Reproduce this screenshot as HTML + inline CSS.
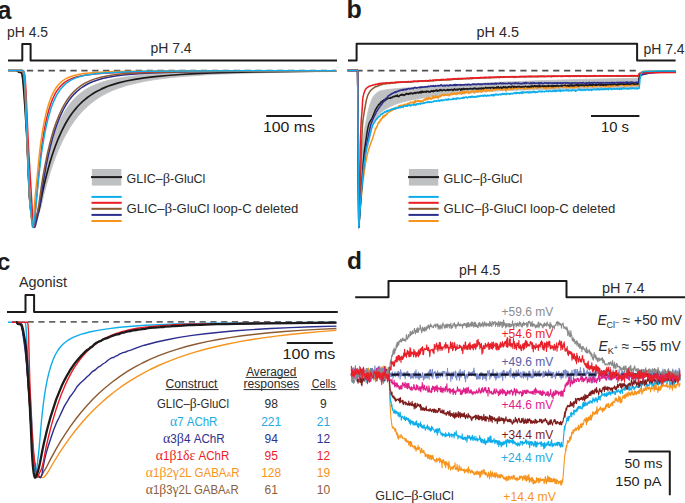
<!DOCTYPE html>
<html><head><meta charset="utf-8"><style>
html,body{margin:0;padding:0;background:#fff;width:685px;height:503px;overflow:hidden;}
svg{display:block;font-family:"Liberation Sans", sans-serif;}
</style></head><body>
<svg width="685" height="503" viewBox="0 0 685 503" font-family='"Liberation Sans", sans-serif'><path d="M8 60.5L22.3 60.5L22.3 43.9L30.6 43.9L30.6 60.5L337 60.5" fill="none" stroke="#1c1a1b" stroke-width="2" stroke-linejoin="round"/>
<text id="t1" x="7.00" y="37.00" font-size="14.7" fill="#2b2b2b" text-anchor="start" font-weight="normal" textLength="41.02" lengthAdjust="spacingAndGlyphs">pH 4.5</text>
<text id="t2" x="150.40" y="52.90" font-size="14.7" fill="#2b2b2b" text-anchor="start" font-weight="normal" textLength="41.21" lengthAdjust="spacingAndGlyphs">pH 7.4</text>
<path d="M8 70.6L13.6 70.7L17.2 70.8L17.6 71.1L18.6 72L19 72.3L21 72.8L21.6 73.1L21.8 73.6L22.2 75.7L22.8 80L23.2 84.2L24.8 105.2L26 123.4L27.2 145L28.4 175L29.2 192L29.6 198.7L30.6 209.1L32.2 220.9L33 225.8L33.4 227L33.6 227.2L33.8 227L34 226.6L34.4 224.9L35.8 216.7L37.2 212.3L38 208.9L38.8 204.2L40.4 193.1L42 183.8L44.2 172.4L46.6 161.4L49 151.7L51.4 143.2L54 135.2L56.8 127.7L58.4 123.8L60 120.3L61.6 117.1L63.4 113.7L65.2 110.6L67 107.9L69 105L71 102.5L73 100.1L75.2 97.8L77.4 95.7L79.8 93.7L82.2 91.9L84.6 90.2L87.2 88.6L90 87.1L92.8 85.7L95.6 84.5L101.6 82.3L108.4 80.3L115.8 78.6L124.2 77.2L133.6 75.9L144.2 74.8L156.2 73.9L169.4 73.2L184.4 72.5L201.4 72L220.8 71.6L242.6 71.3L268.2 71.1L336.2 70.8L336.2 71.5L307.4 71.8L281.8 72.3L259 72.8L238.6 73.4L220.4 74.1L204 75L189.4 76L176.2 77.1L164.4 78.4L153.6 79.8L143.8 81.5L135 83.4L126.8 85.5L119.4 87.9L115.8 89.2L112.4 90.6L109.2 92L106 93.6L102.8 95.3L99.8 97.1L96.8 99L94 101L91.2 103.2L88.6 105.3L86 107.7L83.4 110.3L81 112.8L78.6 115.6L76.2 118.6L74 121.5L71.8 124.7L69.6 128.1L65.6 135L62.2 141.6L58.8 149.1L55.6 156.9L52.6 165.1L49.2 175.5L46 186.5L44.2 193.2L41.6 204.7L40.4 209.2L39.2 212.4L37.2 216.2L36.4 218.8L34.8 225.1L34.2 226.6L33.8 227.1L33.6 227.2L33.4 227L33 225.8L32.2 220.9L30.6 209.1L29.6 198.7L29.2 192L28.4 175L27.2 145L26 123.4L24.8 105.2L23.2 84.2L22.8 80L22.2 75.7L21.8 73.6L21.6 73.1L21 72.8L19 72.3L18.6 72L17.6 71.1L17.2 70.8L13.6 70.7L8 70.6Z" fill="#bfc0c2" stroke="#bfc0c2" stroke-width="0.8" stroke-linejoin="round"/>
<line x1="26.9" y1="70.7" x2="336" y2="70.7" stroke="#505050" stroke-width="1.8" stroke-dasharray="6.3 4.58"/>
<path d="M16.2 70.8L17.2 70.8L17.6 71.1L18.6 72L19 72.3L21 72.8L21.6 73.1L21.8 73.6L22.2 75.7L22.8 80L23.2 84.2L24.8 105.2L26.4 130.1L27.2 145L28.4 175L29.2 192L29.6 198.7L30.6 209.1L32.2 220.9L33 225.8L33.4 227L33.6 227.2L33.8 227.1L34 226.8L34.6 225L36.4 216.7L36.8 215.6L38.2 212.4L39.2 209.1L40.2 204.5L42.4 192.7L44 185.4L46.8 173.9L49.6 163.6L52.4 154.5L55.2 146.5L58.2 138.8L61.4 131.6L65 124.5L67 121L69 117.8L71 114.8L73.2 111.8L75.4 109.1L77.6 106.5L80 104L82.4 101.7L84.8 99.6L87.4 97.5L90 95.6L92.8 93.7L95.6 92L98.6 90.4L101.6 88.9L104.6 87.6L107.8 86.3L111.2 85.1L118.4 82.9L126.2 81L134.8 79.3L144.4 77.9L155.2 76.6L167.2 75.5L180.6 74.5L195.6 73.7L212.4 73L231.4 72.4L252.6 71.9L276.6 71.6L336.2 71" fill="none" stroke="#1c1a1b" stroke-width="1.7" stroke-linejoin="round"/>
<path d="M8 70.6L22 70.6L22.4 70.8L23 71.5L23.2 72L23.6 73.8L24 76.9L24.2 79.5L25.4 101L28.4 172.8L29.6 197.3L30.4 206.3L31.4 213.8L33.2 224.3L33.8 226.5L34.2 227.3L34.4 227.4L34.6 227.3L35 226.8L35.6 225.2L38.6 212.5L39.8 205.4L42.6 186.3L44 177.6L46.2 165.4L48.4 154.8L50.4 146.3L52.6 137.9L55 130L57.4 123.1L60.4 115.7L63.4 109.5L65 106.6L66.8 103.6L68.6 100.9L70.4 98.5L72.2 96.3L74.2 94.1L76.2 92.1L78.2 90.3L80.4 88.5L82.6 87L85 85.5L87.6 84L92.4 81.8L97.6 80L103.4 78.3L110 76.9L117.2 75.8L125.6 74.8L135.2 74L146.2 73.3L159 72.7L174 72.2L191.4 71.8L211.6 71.5L262.2 71.1L336.2 70.9" fill="none" stroke="#2b2e8c" stroke-width="1.5" stroke-linejoin="round"/>
<path d="M8 70.6L22 70.6L22.4 70.8L23 71.5L23.2 72L23.6 73.8L24 76.9L24.2 79.5L25.2 97.3L28.2 170.4L29.4 195.6L30 203.4L30.8 210.6L32.6 224.2L33 226.2L33.2 226.8L33.4 227L33.6 226.9L33.8 226.6L34.4 224.9L36 217.4L37.4 212.2L38.2 208.5L39 203.7L41.2 187.7L42.6 178.7L44.8 166.3L47.2 154.5L49.4 145.1L51.6 136.7L53.8 129.3L56.2 122.3L59.2 114.7L62.2 108.3L63.8 105.4L65.6 102.3L67.4 99.5L69.2 97L71 94.8L73 92.5L75 90.5L77.2 88.5L79.4 86.8L81.6 85.2L84 83.7L86.4 82.4L90.8 80.4L95.6 78.6L100.8 77.2L106.6 76L113 74.9L120.2 74.1L128.4 73.5L138 72.9L149.2 72.5L162.8 72.2L200.6 71.6L259 71.2L336.2 70.9" fill="none" stroke="#8b5a33" stroke-width="1.5" stroke-linejoin="round"/>
<path d="M8 70.6L23 70.6L23.4 70.8L24 71.7L24.4 73L24.8 75L25.2 78.8L26 91L28 136.8L28.8 152.2L32.8 218.7L33.2 224.3L33.4 225.9L33.6 226.5L33.8 226.1L34.2 223.3L35 214.1L36.6 197.7L38.4 176.5L41.2 150.5L42.6 140.3L44 131.7L45.4 124.2L47 116.9L49 109.3L51 103.2L53.2 97.7L54.4 95.2L55.8 92.6L57.2 90.4L58.6 88.5L60 86.8L61.6 85.1L63.2 83.6L65 82.2L66.8 81L68.8 79.9L72.6 78.2L77 76.8L82 75.7L87.8 74.8L94.8 74L103.4 73.3L113.6 72.7L125.4 72.2L138.6 71.9L153.8 71.6L192 71.1L245.6 70.9L336.2 70.8" fill="none" stroke="#ec1c24" stroke-width="1.5" stroke-linejoin="round"/>
<path d="M8 70.6L22.6 70.6L23 70.9L23.6 72L24.2 75L24.8 82.6L25.4 93.9L28 162.9L29.4 195L29.8 201.4L30.4 208.4L32 224.1L32.4 226.6L32.6 227L32.8 226.6L33 225.6L33.4 222L34 215L34.8 201.4L35.4 194.1L39.8 150.4L41 141.2L42.6 130.7L44 122.9L45.6 115.3L47.6 107.5L49.6 101.2L51.8 95.6L53 93.1L54.2 90.8L55.4 88.8L56.8 86.8L58.2 85L59.8 83.3L61.4 81.8L63 80.5L64.8 79.3L66.8 78.2L70.2 76.7L74 75.5L78.4 74.4L83.4 73.6L89.4 72.9L96.4 72.4L105 72L115.2 71.6L139.8 71.2L175.2 70.9L336.2 70.7" fill="none" stroke="#f7941d" stroke-width="1.5" stroke-linejoin="round"/>
<path d="M8 70.6L23 70.6L23.2 70.7L23.6 71.2L23.8 71.8L24.2 74L25 84.5L25.6 96.5L28.2 165.4L29.6 196.9L30.2 204.9L32.2 224.2L32.6 226.8L32.8 227.2L33 227L33.2 226.6L33.8 223.8L35.2 213.3L36.4 200.1L39.4 171.4L40.6 160.7L41.8 151.5L43.4 141.2L45 132.3L46.6 124.6L48.4 117.2L50.6 109.7L51.8 106.1L53 103L55.4 97.6L56.8 94.9L58.2 92.6L59.6 90.5L61.2 88.4L62.8 86.6L64.4 85L66.2 83.4L68 82L70 80.7L72 79.6L75.8 77.9L80.2 76.5L85 75.3L90.6 74.4L97 73.6L104.6 72.9L113.6 72.4L124.4 71.9L136.8 71.6L151.6 71.3L189.4 70.9L242.8 70.8L336.2 70.7" fill="none" stroke="#0faeea" stroke-width="1.5" stroke-linejoin="round"/>
<line x1="266.2" y1="115.9" x2="311.9" y2="115.9" stroke="#1c1a1b" stroke-width="2"/>
<text id="t3" x="262.98" y="132.10" font-size="14.7" fill="#1c1a1b" text-anchor="start" font-weight="normal" textLength="52.02" lengthAdjust="spacingAndGlyphs">100 ms</text>
<rect x="91.9" y="169" width="29.4" height="16.6" fill="#bfc0c2"/>
<line x1="91" y1="177.1" x2="122" y2="177.1" stroke="#1c1a1b" stroke-width="2"/>
<line x1="91.5" y1="196.9" x2="121.7" y2="196.9" stroke="#0faeea" stroke-width="2"/>
<line x1="91.5" y1="202.8" x2="121.7" y2="202.8" stroke="#ec1c24" stroke-width="2"/>
<line x1="91.5" y1="208.8" x2="121.7" y2="208.8" stroke="#8b5a33" stroke-width="2"/>
<line x1="91.5" y1="214.9" x2="121.7" y2="214.9" stroke="#2b2e8c" stroke-width="2"/>
<line x1="91.5" y1="221" x2="121.7" y2="221" stroke="#f7941d" stroke-width="2"/>
<text id="t4" x="126.60" y="182.50" font-size="13.2" fill="#2b2b2b" text-anchor="start" font-weight="normal" textLength="78.80" lengthAdjust="spacingAndGlyphs">GLIC–<tspan font-family='"Liberation Serif", serif' font-size='15.2'>β</tspan>-GluCl</text>
<text id="t5" x="126.60" y="213.10" font-size="13.2" fill="#2b2b2b" text-anchor="start" font-weight="normal" textLength="171.80" lengthAdjust="spacingAndGlyphs">GLIC–<tspan font-family='"Liberation Serif", serif' font-size='15.2'>β</tspan>-GluCl loop-C deleted</text>
<path d="M348 60.5L356.6 60.5L356.6 43.7L637.1 43.7L637.1 60.5L675.6 60.5" fill="none" stroke="#1c1a1b" stroke-width="2" stroke-linejoin="round"/>
<text id="t6" x="476.60" y="36.90" font-size="14.7" fill="#2b2b2b" text-anchor="start" font-weight="normal" textLength="42.41" lengthAdjust="spacingAndGlyphs">pH 4.5</text>
<text id="t7" x="643.40" y="53.50" font-size="14.7" fill="#2b2b2b" text-anchor="start" font-weight="normal" textLength="41.20" lengthAdjust="spacingAndGlyphs">pH 7.4</text>
<path d="M358.8 227.5L359.8 197.2L360.8 175.8L361.5 162.8L362.8 143.6L363.2 137.3L363.8 133.2L364.2 130.4L365.2 125.7L368 111.7L369.5 105.9L370.8 101.9L371.5 100L372.2 98.5L373.2 96.8L374 95.7L375.2 94.3L376.8 92.9L378 92L379 91.4L380 91L382.5 90.4L387.8 89.5L393 88.9L401.8 88.2L412.8 87.5L443.2 86L486.8 83.1L503.5 82.1L530.5 81L562.8 79.9L602.5 78.9L638 78.2L638.2 77.9L638.5 76.6L639 74.9L639.5 73.9L640 73.3L640.5 72.9L641.2 72.6L642 72.5L645.5 72.2L652.5 72L675.8 71.8L675.8 71.8L661.5 71.9L652.5 72.2L648.8 72.5L645.5 72.8L643.2 73.1L642 73.5L641.2 73.9L640.5 74.7L640 75.6L639.5 77.1L639 79.7L638.5 84L638.2 87.2L638 88L549 89.5L523.5 90L501.8 90.7L492 91.3L481.5 92L463.2 93.5L439.2 95.9L429.8 97L420.8 98.3L411 100L407 100.9L403.2 101.9L399.5 103L396 104.1L392.8 105.4L390 106.7L386.8 108.4L383.5 110.5L380.2 113.1L378.5 114.8L376.8 117.2L375 120.3L373 124.7L372.2 127.1L371.5 130.3L369.5 140L366.8 151.1L366 155L365.2 160L364 170.5L361.8 192.6L360.2 209.5L358.8 227.5Z" fill="#bfc0c2" stroke="#bfc0c2" stroke-width="0.8" stroke-linejoin="round"/>
<line x1="356.4" y1="70.6" x2="636" y2="70.6" stroke="#505050" stroke-width="1.8" stroke-dasharray="6.2 4.73"/>
<path d="M347.5 70.6L357.6 70.6L358.8 227.5L362 135L362.5 125L363 119.9L363.8 114.5L365.8 103.1L366.5 99.6L367.5 96L368 94.8L368.8 93.3L369.5 92.1L370.5 90.8L372.5 88.8L373.8 87.8L375 87.1L375.2 86.7L375.5 86.6L376.2 86.7L376.5 86.4L377 86.2L377.2 86.3L377.8 86L378 85.6L378.5 85.5L378.8 85.7L379.2 85.3L379.8 85.1L380.2 84.8L380.8 85.1L381 84.7L381.5 84.3L381.8 84.2L382 84.4L382.2 84.5L383.2 84.1L383.5 83.8L384 84L384.8 83.7L385.2 83.9L385.5 83.7L386.5 83.8L386.8 83.4L387 83.6L387.2 83.5L388 83.6L388.5 83.5L388.8 83.6L389 83.3L389.2 83.3L389.5 83.3L389.8 83.3L390 83.5L390.5 83.5L390.8 83.2L391 83.1L391.5 83.1L391.8 83L392.5 83.2L392.8 82.9L393 83L393.5 82.7L394 82.7L394.5 83L394.8 82.9L395.2 83L396.2 82.4L396.5 82.6L396.8 82.4L397 82.6L397.5 82.7L398 82.4L398.2 82.5L398.5 82.4L399.2 82.4L400 82.2L400.2 82L400.5 82.2L400.8 82.2L401 82.5L401.2 82.4L401.5 82L401.8 82.2L402.2 82.1L402.5 82.2L403 81.9L403.5 82.1L404 82L404.2 82.2L404.5 82.2L404.8 81.9L405 81.9L405.5 82L405.8 82.2L406.2 81.8L406.5 81.8L407 82.2L407.2 82L408 82L408.2 82.2L408.5 81.9L409.2 81.9L409.5 81.7L409.8 82L410.5 81.6L410.8 81.6L411.2 81.9L411.8 81.9L412.2 81.7L412.5 81.8L413 81.6L413.5 81.8L414 81.5L414.5 81.8L414.8 81.5L415 81.5L415.5 81.6L415.8 81.3L416.2 81.6L416.5 81.4L416.8 81.6L417.2 81.3L417.5 81.3L417.8 81.1L418.2 81.5L418.5 81.3L418.8 81.5L419 81.4L419.2 81.4L419.8 80.9L420.2 81.2L420.5 81L420.8 81L421 81.2L421.5 80.9L422 81.2L422.2 81.1L422.8 81.4L423.2 80.9L423.5 80.9L424 81.2L424.8 81L425 81L426 80.7L426.2 80.8L426.8 80.8L427 81L427.2 81L427.5 81.3L428 80.8L428.2 80.9L428.8 80.8L429 80.9L429.5 80.3L429.8 80.7L430 80.7L430.2 80.9L430.5 80.6L430.8 80.6L431 80.8L431.2 80.6L431.8 80.9L432.2 80.6L432.8 80.7L433 80.5L433.8 80.9L434 80.5L434.2 80.4L434.5 80.5L434.8 80.5L435.5 80.6L436 80.3L436.2 80L436.8 80.5L437 80.3L437.5 80.1L437.8 80.3L438.2 80.1L438.5 80.3L439 80.3L439.2 80.2L439.5 80.4L440.2 80.1L440.8 80.2L441 80.1L441.2 80.3L441.8 80.3L442 80.2L442.5 79.8L443 80.1L444.2 79.8L444.5 80.1L445.2 79.7L445.8 80.1L446.2 79.8L446.5 80L446.8 80.1L447.5 80L448.2 79.7L448.5 79.9L449 79.9L449.2 79.5L449.5 79.7L449.8 79.8L450 79.6L450.5 79.7L451 79.5L451.8 79.7L452.2 79.5L452.8 79.6L453 79.3L453.2 79.2L453.5 79.3L453.8 79.2L454.5 79.4L454.8 79.2L455 79.3L455.2 79.1L455.5 79.3L455.8 79L456 79.1L456.2 79.3L456.8 79.1L457.2 79.2L457.8 79.2L458 79.3L458.2 79.1L458.5 79L458.8 79.1L459 79.3L459.2 79.3L460 79L460.2 79.1L460.5 79L460.8 79.1L461 79.1L461.2 78.9L461.8 79L462 79.3L462.2 79.3L462.5 79L463 78.6L463.2 78.8L463.8 78.7L464 78.8L464.2 78.6L464.8 78.7L465 78.6L465.2 78.9L465.5 78.9L465.8 78.5L466 78.5L466.2 78.7L466.8 78.5L468 78.8L468.2 78.9L468.8 78.8L469.2 78.8L469.8 78.4L470 78.6L470.2 78.6L470.5 78.7L470.8 78.6L471 78.5L471.5 78.7L472 78.4L472.5 78.3L473 78.4L473.5 78.6L473.8 78.3L474.5 78.3L474.8 78.1L475.5 78.3L476.2 78.1L476.8 78.4L477 78.3L477.5 78.2L477.8 78L478.5 78.1L479 77.9L479.2 78.2L479.5 78.3L479.8 78.1L480.5 78.1L480.8 77.9L481 78.1L481.2 78L481.5 78.1L482 77.9L482.5 78L482.8 77.8L483.5 77.6L483.8 78L484.2 77.9L484.5 77.9L484.8 77.7L485.2 78.1L485.5 77.9L485.8 77.4L486 77.2L486.5 77.8L486.8 77.7L487.2 77.7L487.5 77.6L488 77.8L488.8 77.6L489 77.7L489.2 77.6L489.8 78L490.2 77.2L491 77.7L491.2 77.7L491.5 77.4L491.8 77.4L492 77.6L492.2 77.4L492.5 77.6L492.8 77.5L493.5 77.6L493.8 77.6L494 77.3L495 77.6L495.5 77.2L495.8 77.2L496.2 77.4L496.5 77.3L496.8 77.5L497.5 77.1L497.8 77.3L498 77.3L498.2 77.1L498.5 77.5L498.8 77.6L499 77.4L499.2 77.4L499.5 77.7L500 77.2L500.5 77.2L501 76.9L501.2 77.2L501.5 77.1L502.2 77.3L502.8 77.1L503.2 77.4L503.5 77.2L503.8 77.3L504.2 77.1L504.5 77.3L504.8 77.1L505 77.2L505.2 77.1L505.5 77.1L505.8 76.9L506 77L506.2 77.2L507 77L507.2 77.1L507.5 76.8L507.8 76.8L508 76.9L508.5 76.9L509.2 77L509.5 77.3L510 77.2L510.8 76.7L511 76.8L511.2 76.6L512 77.3L512.5 76.9L512.8 77L513 76.9L513.2 77L513.5 77L514 77.4L514.2 77.2L514.5 77.3L514.8 77L515 76.9L515.2 77.1L515.5 77.2L515.8 76.9L516.2 76.7L516.8 77L517.5 76.7L518 77L518.8 76.7L519 77L519.2 76.9L519.8 76.9L520 76.5L520.2 76.7L521 77L521.5 76.5L522 76.8L522.2 76.8L522.5 76.6L522.8 76.5L523 76.8L523.2 76.8L523.8 76.6L524 76.8L524.2 76.4L524.8 77L525 76.8L525.5 76.6L525.8 76.8L526 76.6L526.2 76.7L526.8 76.6L527 76.8L527.2 76.5L528.5 76.8L529 76.6L529.5 76.6L529.8 76.8L530.8 76.6L531 76.7L531.2 76.5L531.8 76.8L532 76.5L532.2 76.5L532.5 76.4L532.8 76.4L533 76.4L533.5 76.5L534 76.9L535.5 76.3L536 76.8L536.5 76.6L536.8 76.8L537 76.5L537.5 76.3L537.8 76.4L538.2 76.8L538.8 76.4L539.2 76.4L539.5 76.3L540 76.6L540.5 76.6L540.8 76.3L541 76.3L541.2 76.7L541.5 76.7L541.8 76.3L542.5 76.6L543 76.4L543.5 76.5L543.8 76.4L544.2 76L544.5 76.2L544.8 76.2L545.2 76.6L545.8 76.4L546.2 76.6L546.5 76.4L546.8 76.6L547.5 76.6L547.8 76.4L548 76.5L548.2 76.3L548.5 76.2L548.8 76.3L549 76.4L549.2 76.3L549.8 76.3L550 76.6L550.2 76.7L550.5 76.6L551.2 76.7L551.8 76.2L552 76.5L552.5 76.2L553 76.1L553.2 76.2L553.5 76.3L553.8 76.6L554 76.4L554.2 76.1L554.5 76.1L554.8 76.1L555 76L555.2 76.3L555.5 76.3L555.8 76.2L556 76.3L556.5 76.6L556.8 76.6L557 76.4L557.2 76.4L557.5 76.3L557.8 76.3L558 76.2L558.2 76.3L558.5 76.1L558.8 76.1L559.2 76.3L559.5 76.1L560 76.3L560.5 76.2L561 76.3L561.2 76.5L561.5 76.4L561.8 76L562 75.9L562.5 76.5L563 76.4L563.5 76.1L563.8 76.3L564.2 76.3L564.5 76.1L565.2 76.3L565.8 76.1L566 76.2L566.2 76.4L567 76L567.2 76.1L567.5 76.3L567.8 76L568.5 76.4L568.8 76.3L569.2 76.4L569.8 76.3L570 76.5L570.2 76.4L570.5 76.4L570.8 76.1L571 76.3L571.2 76L571.5 76L571.8 76.2L572.5 76.1L572.8 76.4L573.2 76L573.8 76.3L574 76.1L574.5 76.5L575 76.2L575.2 76.1L575.5 76.2L576 75.7L576.5 76.1L576.8 76.4L577.2 76L577.5 76L577.8 76.2L578 76L578.2 76.1L579.2 76.2L579.5 76.4L579.8 76.4L580 76.1L580.2 76.5L580.5 76.3L580.8 76.3L581 76.1L582 76.3L582.2 76.2L582.5 76L583 76.3L583.2 76.3L583.5 76.1L584 76.1L584.2 75.9L584.5 76L584.8 76.3L585 76.1L585.5 76.1L585.8 76.4L586 76.4L586.2 76.2L586.8 76.1L587 76.4L587.5 76.1L587.8 76.3L588.5 76.2L588.8 76L589.2 76.2L589.8 76.1L590 76.4L590.5 76L590.8 76L591 76.2L591.2 76.3L591.8 76.2L592 75.9L592.8 76.1L593 76.1L593.2 75.9L593.5 76.4L593.8 76.1L594.5 76.3L594.8 76.1L595 75.7L595.5 76.1L596.2 75.8L596.5 76.2L596.8 76.2L597 76L597.5 76L597.8 75.9L598.8 76.3L599.2 76L599.5 76.1L600 75.9L600.2 76.2L600.5 76.1L601 76.1L601.2 76L601.5 76.1L602.2 76.1L602.8 75.7L603.5 76.2L604 76L604.5 76.3L605.5 76L606 76.1L606.5 76.1L607 75.7L607.2 75.7L607.8 76.3L608 76.2L608.2 75.9L608.5 75.8L608.8 76.1L609 76.1L609.2 75.9L609.5 76.2L610 76.3L610.5 76.2L611 75.9L611.5 76L611.8 76.1L612 75.9L612.2 75.8L612.5 76.1L613 76.3L613.2 76.2L613.5 75.8L614.2 75.9L614.5 75.7L614.8 76L615 76L615.2 75.9L615.8 76.2L616 76.1L616.5 76.2L617.2 76L617.5 76.2L617.8 76L618 75.9L618.2 76.1L618.5 76L619 76.2L619.2 76.1L619.8 76.2L620 76.1L620.2 75.8L620.5 75.8L620.8 76.2L621 76L621.2 75.7L621.8 75.9L622 75.9L622.2 76.1L622.8 76L623 75.9L623.5 76.3L623.8 76L624 76.2L624.2 76.2L625 75.8L625.2 75.9L625.5 76.1L626 76.3L626.5 76.2L627 75.8L627.5 76.1L628 75.8L628.5 75.8L628.8 75.9L629 75.9L630 76.2L630.2 75.8L630.5 75.7L630.8 76.1L631 76.3L631.8 76.1L632.2 75.8L632.8 76L633 76L633.2 76.2L633.5 75.8L634 76.1L634.5 75.8L634.8 75.7L635.2 76.2L636 76L636.2 76.1L636.8 75.9L637.5 76.2L637.8 76.1L638 76.1L638.2 75.8L638.5 75.1L639 74L639.8 73.2L640.8 72.8L642 72.6L645.5 72.4L652.5 72.3L675.8 72.2" fill="none" stroke="#8b5a33" stroke-width="1.5" stroke-linejoin="round"/>
<path d="M347.5 70.6L357.6 70.6L358.8 227.5L360.8 202.6L361.8 191.8L362.5 185L364 173.4L365.2 165.1L366.5 158.2L368 151.9L369.2 147.8L372 140L375 130.9L375.2 129.2L375.5 128.2L376 128.7L376.8 126.4L377 126.6L377.5 125.3L377.8 123.7L378 123.7L378.2 123L378.5 123.2L378.8 122.7L379 121.8L379.5 122.4L380 121.2L380.2 120.1L380.8 119.3L381.2 120.1L382 117.9L382.2 118.3L382.5 117.6L382.8 116.3L383 116.1L383.2 116.6L383.5 116.5L383.8 117.4L384.2 115.4L384.5 115.6L384.8 116.2L385 115.1L385.2 115.4L385.5 115.3L385.8 115.5L386.2 114L386.5 114.1L386.8 113.9L387 113.9L387.2 113.6L387.5 114L387.8 113L388 112.7L388.2 112.1L388.5 112.1L388.8 112L389.2 112.1L389.5 111.2L389.8 110.9L390 111.6L390.2 110.9L390.5 110.5L390.8 111.3L391 110.7L391.2 108.9L391.8 110.5L392 110.4L392.2 109.8L392.5 110.3L392.8 109.2L393 109.1L393.2 109.3L393.5 109.2L393.8 109.6L394 109.5L394.2 109L394.5 109.3L394.8 108.3L395 108.4L395.2 109.2L395.5 108.6L395.8 108.6L396 107.8L396.2 107.6L396.8 107.6L397 107.3L397.2 107.4L397.5 107.8L397.8 108L398 107.4L398.2 107.5L398.5 107.3L398.8 106.1L399 105.9L399.2 107.5L399.5 107.5L399.8 106.7L400 106.4L400.2 105.6L400.5 105.3L400.8 105.8L401 105.3L401.2 106.1L401.5 105.6L401.8 106.1L402 107L402.2 106.8L402.5 105.7L402.8 105.8L403 104.8L403.2 104.8L403.5 105.5L403.8 105.8L404 104.9L404.2 105.2L404.5 104.8L404.8 104.1L405.2 105.4L405.5 104.8L406 104.8L406.2 104.2L406.5 105.1L406.8 105.4L407 105.4L407.2 104.9L407.5 103.8L407.8 103.4L408.2 103L408.5 103.3L408.8 104.3L409 104.4L409.2 103.5L409.5 103.6L409.8 102.7L410 102.8L410.5 102.1L410.8 102.9L411 103L411.8 102.2L412 102.5L412.2 102.4L412.5 102.6L412.8 102L413 102.6L413.5 103.3L413.8 103.1L414.5 101.1L415 103.1L415.2 102.8L415.5 100.6L416 101.4L416.2 101.1L416.5 101.6L416.8 101.6L417 101.3L417.2 101.2L417.5 100.4L417.8 100.5L418 100.8L418.2 101.4L418.5 100.4L419 101.5L419.2 101.2L419.5 101.3L419.8 100.7L420.5 102.2L420.8 101.5L421 101.5L421.2 100.7L421.5 100.7L421.8 101.3L422 101L422.2 101.2L422.5 101.1L422.8 101.7L423 101.5L423.2 100.1L423.5 100.9L423.8 100.4L424.2 99.8L424.5 99.9L424.8 98.9L425 98.8L425.2 99L425.8 100L426 99.8L426.2 99.4L426.8 98L427 99L427.5 99.3L427.8 99.6L428.5 97.4L428.8 98.5L429 98.4L429.2 98L429.5 98.3L429.8 97.7L430 98L430.2 99.3L430.5 98.9L431.2 98.4L431.5 98.4L431.8 99.1L432 98.1L432.2 98L432.8 97L433 95.8L433.2 96.2L433.5 98.2L433.8 98.3L434 97.2L434.2 97.2L434.5 97.3L434.8 96.8L435 97.7L435.2 96.5L435.8 95.4L436 97.3L436.2 97.2L436.5 97.5L436.8 96.4L437 96.6L437.2 96.7L437.5 96.9L437.8 97.9L438 98.1L438.5 96.4L439 97.1L439.2 96.7L439.8 96.3L440 95.6L440.5 96.7L440.8 95.6L441.2 96.1L441.5 95.1L441.8 95.2L442 94.6L442.2 94.8L442.5 94.6L443.2 95.2L443.5 94.9L443.8 94.2L444 95.8L444.5 94.5L445 95.1L445.2 94.6L445.8 94.8L446 95.1L446.2 94.7L446.5 95.1L446.8 95.1L447 95L447.2 95.5L447.8 94.1L448 94.7L448.2 94.8L448.5 94.7L448.8 95.1L449 95.9L449.2 95.1L449.5 94.8L449.8 94.6L450 95.1L450.5 93.7L450.8 93.6L451 94.5L451.2 94.5L451.5 93.3L451.8 93.6L452 94.5L452.2 94.6L452.5 93.4L452.8 93.7L453 94.3L453.2 93.7L454 93.1L454.2 93.7L454.5 93.8L454.8 93L455.2 94.4L455.5 94.1L455.8 94.1L456 93.6L456.2 94.2L456.5 93.6L456.8 94.4L457 93.4L457.2 92.9L457.5 92.8L457.8 93L458.2 92.8L458.5 93.1L458.8 93.7L459 93.8L459.2 93.3L459.5 93.7L459.8 92.6L460 92.2L460.2 92.4L460.5 93L460.8 92L461 92.2L461.2 93.7L461.5 94.3L461.8 93.7L462 92.2L462.5 93.3L463 91.8L463.2 92.1L463.5 91.5L463.8 92L464 93.8L464.2 93.1L464.5 91.7L464.8 91.6L465 92.5L465.2 92.3L465.5 92.6L465.8 92.1L466.2 92.3L466.8 91L467.5 92L468.2 92.3L468.5 91.9L468.8 93.1L469 93.5L469.2 92.6L469.5 92.4L469.8 92.8L470.8 91.3L471 91.2L471.2 92.2L471.5 92.4L471.8 91.4L472.2 91.8L472.8 91.2L473 91.1L473.2 90.5L473.5 91.3L473.8 91.7L474 92.8L474.5 91.5L474.8 91.7L475 92.7L475.2 92.6L476 90.5L476.2 90.9L476.8 91.1L477 91.9L477.2 90.4L477.8 91.5L478.2 91.9L478.5 90.5L478.8 90.5L479 91L479.2 91.1L479.5 90.7L479.8 90.7L480 91.3L480.2 90.4L480.5 90.7L480.8 91.9L481 92.2L481.5 90.3L481.8 90.1L482.2 89.9L482.8 91.4L483.2 90.1L483.5 89.9L483.8 90L484 90.8L484.2 89.6L484.5 90.2L484.8 89.6L485 89.5L485.2 89.6L485.5 90.8L485.8 90.9L486 91.8L486.2 90L486.5 89.7L486.8 90.6L487 90.6L487.5 89.3L487.8 90.8L488 90.8L488.5 90L488.8 90.3L489 89.9L489.5 90.1L489.8 90.6L490 89.9L490.2 89.9L490.5 90.6L491 89.9L491.2 89.9L491.5 90.3L491.8 89.7L492.2 91.1L492.8 89.2L493 89L493.2 89.5L493.5 88.8L493.8 88.5L494.2 89L494.5 89.8L494.8 89.1L495 90.2L495.2 89.4L495.8 89.9L496.2 89.8L496.8 88L497 88.7L497.2 88.3L497.8 89.8L498.2 88.8L498.5 88.5L498.8 88.9L499 88.9L499.2 88.4L499.5 89L499.8 88.7L500 89.1L500.2 89.1L500.5 89.7L500.8 89.7L501 89.2L501.2 89.1L501.8 90L502 89.8L502.2 89.3L502.5 89.4L502.8 89.7L503 88.4L503.2 88.9L503.5 88.7L503.8 89.5L504 88.8L504.5 88.3L505 89.5L505.2 89.7L505.5 88.3L505.8 89L506 91.1L506.5 89L506.8 88.7L507 87.6L507.2 89.3L507.8 88.1L508 89.1L508.2 88.4L508.5 88.1L508.8 88.9L509 88.9L509.2 88.4L509.5 88.3L509.8 87.6L510 87.7L510.2 89.1L510.5 89.5L511.2 88.3L511.8 88.2L512 89.3L512.2 88.5L512.5 88.6L513 87.9L513.2 89.3L513.5 88.4L513.8 87.9L514 88.2L514.2 87.9L514.5 88.1L514.8 87.9L515 88.5L515.2 88.2L515.5 87.7L515.8 88.7L516 88.4L516.2 87.7L516.5 88.4L517 89.2L517.2 88.1L517.5 88.6L517.8 88.4L518 88.5L518.2 88.1L518.8 88.3L519 87.3L519.2 86.8L519.5 87.8L519.8 87.9L520.2 88.4L520.5 88.2L520.8 88.7L521 88.2L521.2 88.2L521.5 88.6L521.8 88.5L522 88.1L522.2 88L522.5 87.5L522.8 87.6L523.2 88.4L523.5 88L524 89.5L524.2 89.4L524.5 88.4L524.8 88.6L525 88.5L525.5 88.6L525.8 88.4L526 88.4L526.5 87.8L527.2 88.6L527.5 88.3L528 88.6L528.2 87.4L528.5 87.6L528.8 88L529.2 87.3L529.5 88.1L530 87.4L530.2 88.5L530.5 87.2L530.8 87.4L531 87.3L531.2 87.7L531.5 87.9L531.8 87.3L532 87.5L532.2 87.4L532.5 87.2L532.8 88.2L533.5 87.1L534 87.5L534.2 87.5L534.5 87.8L534.8 86L535 85.9L535.2 86.8L535.5 86.4L535.8 87.1L536 87.2L536.2 87.8L536.5 88L536.8 88.4L537.2 88.4L537.5 88.1L537.8 88.2L538 87.8L538.5 86.5L538.8 86.6L539 87.2L539.2 86.1L539.5 87L539.8 87.1L540 87.7L540.2 87.5L540.5 86.9L540.8 86.9L541 86.1L541.2 87.2L541.5 87.3L541.8 86.5L542 87.5L542.5 87.2L542.8 86.6L543 87.5L543.2 87.7L543.8 86.8L544 87.7L544.2 88.1L544.5 87.8L544.8 87.7L545 87L545.8 87.7L546 88.8L546.5 87L546.8 87.4L547 86.7L547.2 87.3L547.5 87.6L547.8 86.9L548.2 86.6L548.5 87L548.8 87L549 88.1L549.2 87.7L549.5 86.9L549.8 86.6L550 88.2L550.2 88.2L550.5 87.5L550.8 87.3L551.2 87.1L551.5 88.1L552 86.2L552.2 86.1L552.5 85.6L552.8 87.1L553.2 88.4L553.5 88.3L553.8 86.9L554.2 87.7L554.5 87.5L554.8 86.9L555 87.4L555.5 87.8L555.8 87.1L556 86.7L556.8 86.4L557.8 87.8L558 87.7L558.5 86.4L558.8 87.1L559 87.4L559.2 86.1L559.5 85.9L560 86L560.2 86.3L560.5 86.2L560.8 86.7L561 86.1L561.2 86.4L561.8 86.3L562 87.2L562.2 86.9L562.5 87L562.8 86.7L563 87.1L563.2 87.1L563.8 85.8L564 87L564.2 87.2L564.5 86.9L565.2 86.6L565.5 86.1L565.8 86.5L566 86.7L566.2 86.2L566.5 86.2L566.8 87.6L567.5 85.9L567.8 84.8L568.5 87L568.8 85.5L569 86.1L569.2 87.6L569.8 87L570 87.2L570.2 86.6L570.5 86.5L570.8 87L571 86.9L571.2 86.2L571.5 87L571.8 85.6L572 86.3L572.2 88L572.5 86.7L572.8 86.6L573 85.9L573.2 86L573.5 85.9L573.8 86.2L574.2 87.6L574.5 87.4L574.8 87.3L575 86.6L575.2 87.2L575.5 87.1L575.8 87.2L576 86.3L576.2 86.4L576.5 87.2L576.8 86.9L577.2 86L577.8 86.7L578 86.7L578.2 86.1L578.5 86.1L578.8 86.3L579 85.9L579.2 86.7L579.5 86.4L579.8 85.9L580 84.7L580.2 84.9L580.5 85.3L580.8 85.6L581 85.6L581.2 86.3L581.5 86.3L582 85.2L582.2 86.6L582.5 86.3L582.8 86.4L583 85.9L583.5 86.6L583.8 86.5L584 86.7L584.2 86.4L584.5 87L584.8 85.3L585 85.7L585.2 86.5L586 85.2L586.2 86.2L586.5 85.3L586.8 86.1L587.2 86.8L587.5 86.9L587.8 85.7L588 85.4L588.2 85.5L588.5 85.1L588.8 86.2L589 85.9L589.2 85.9L589.5 85.4L589.8 85.7L590 85.6L590.2 85.7L590.5 85.5L590.8 86.3L591.2 84.5L591.5 85.9L591.8 85.7L592 85.7L592.2 87.2L592.8 85.1L593.2 86L593.5 86L593.8 86.7L594 86.5L594.2 85.6L594.8 86.1L595 85.6L595.2 85.6L595.5 86.3L595.8 86L596 85L596.5 85.5L597 85.6L597.2 86.3L597.5 85.3L597.8 85.1L598 85.4L598.2 84.4L598.8 85.8L599 85L599.2 85.2L599.5 86.3L600 85.8L600.2 85.8L600.5 85.4L601 86L601.2 87.1L601.8 85.6L602 85.6L602.2 85.5L602.5 84.8L602.8 85.2L603 86.2L603.2 85L603.5 85.3L603.8 86.3L604 86.5L604.2 85.5L604.5 86.2L604.8 85.8L605 86.6L605.5 85.6L605.8 86L606 85.9L606.2 85.5L606.5 86.6L606.8 85.8L607 86.1L607.5 84.3L607.8 84.6L608.2 86.1L608.5 86.6L608.8 85.8L609.2 84.8L609.5 85.3L609.8 85.3L610 84.5L610.2 86.1L610.5 86.6L610.8 86.8L611 85.3L611.2 85.4L611.5 85.3L611.8 84.6L612.2 84.8L612.5 85.6L613 86.2L613.2 85.2L613.5 84.6L613.8 85.5L614.2 86L614.5 86.1L614.8 85.3L615 85.6L615.2 84.9L615.8 85.7L616 85.4L616.2 85.2L616.5 84.5L617 85.1L617.2 84.5L617.5 85L617.8 86.6L618.2 84.7L618.5 84.8L618.8 85.5L619 83.8L619.5 85.4L619.8 85L620 85.2L620.2 84.6L620.5 85L620.8 85.2L621.5 85.3L621.8 85.7L622 85L622.2 84.7L622.5 84.8L622.8 84.6L623 83.9L623.2 83.6L623.5 84.1L623.8 84.9L624 84.6L624.2 85.1L624.5 86.7L625 85L625.2 84.8L625.5 85.6L625.8 84.9L626 85.7L626.5 85.7L626.8 84.9L627 85.1L627.2 84L627.8 85.6L628 85.2L628.2 84.1L628.5 85.1L628.8 85.2L629.2 84.4L629.8 84.6L630 85.4L630.2 85.4L630.5 85.6L630.8 85.2L631 84.3L631.5 85.9L631.8 84.5L632 84.7L632.2 84.3L632.5 84.2L633 85.4L633.2 85.4L633.8 85.1L634 84.1L634.2 85.1L634.5 85.1L634.8 84.7L635.2 84.4L635.5 85.2L635.8 84.3L636 83.8L636.2 84.4L636.5 84.4L636.8 84.8L637 85.5L637.2 84.8L637.5 85L637.8 85.8L638 84.3L638.5 85.6L639.2 78L639.5 76.4L640 74.3L640.2 73.6L640.8 72.7L641.2 72.1L642 71.7L642.8 71.5L644 71.3L649 71.1L675.8 71" fill="none" stroke="#f7941d" stroke-width="1.5" stroke-linejoin="round"/>
<path d="M347.5 70.6L357.6 70.6L358.8 227.5L361.8 185.7L363.2 162.8L363.8 156.5L364.2 151.9L365 146.3L367.2 131.7L368 127.4L368.5 125.3L369.2 123.2L370 121.6L371.8 118.6L372.5 117.1L375 111L375.5 109.3L375.8 109.4L376 109L376.2 108.9L376.5 107.9L376.8 107.6L377 107L377.2 106.7L377.5 106.9L378 105.7L378.2 105.5L378.5 104.7L378.8 104.4L379 104.2L379.2 104.6L379.5 104L380 103.6L380.8 102L381 102.4L381.5 102L381.8 102L382 101.2L382.2 101.4L382.5 100.8L382.8 100.7L383.2 101.2L383.5 100.4L383.8 100.1L384 100.1L384.2 100.9L384.5 100.6L384.8 100.4L385 100.7L385.5 99L386 99.2L386.2 99.8L386.5 99L386.8 99.1L387.2 98.8L387.5 98.8L387.8 98.7L388.2 98.1L388.5 98.1L388.8 97.9L389 97.9L389.2 98.2L389.8 98.2L390 98.1L390.2 98.5L390.5 97.7L390.8 97.4L391 97.9L391.2 97.5L391.8 97.8L392 97.4L392.2 97.2L392.5 97.5L393.2 96.5L393.5 96.5L393.8 96.2L394.2 96.3L394.5 96.7L394.8 96.8L395 96.3L395.8 95.7L396.2 96.3L396.8 96.2L397.2 95L397.5 96L397.8 96.4L398.2 96.1L398.5 96.3L398.8 96.6L399 96L399.2 96.1L400.5 94.8L400.8 95.2L401.2 94.6L401.8 94.6L402 95.3L402.8 94.3L403 94.4L403.2 94.9L403.5 94.7L403.8 94.8L404 95.4L404.2 95.4L404.5 94.9L405 94.5L405.2 94.4L405.5 94.8L405.8 94L406 93.9L406.2 93.4L406.5 93.6L406.8 94.1L407 94.3L407.2 94.1L407.8 93.6L408 93.6L408.2 93.8L408.5 94.3L408.8 94.4L409.2 93.5L409.5 93.3L409.8 93.6L410.2 93L410.5 93.8L411.2 93L411.5 93.1L411.8 93.5L412 93.1L412.8 93.9L413.2 93.1L413.5 93L413.8 93.4L414 93.4L414.2 93L414.5 93.1L415 92.3L415.2 92.5L415.5 93.1L415.8 93.4L416.2 92.7L416.5 92.5L416.8 92.8L417 92.7L417.2 92.2L417.5 92.6L417.8 92.4L418 92.7L418.8 92.9L419 92.7L419.2 92L419.5 92L419.8 92.6L420 92.4L420.2 91.6L420.5 91.5L420.8 92.5L421 93.1L421.5 92.1L421.8 92L422 91.1L422.5 92.3L422.8 92.2L423 91.4L423.2 92.2L423.5 92.3L423.8 92.2L424 91.9L424.5 91.5L424.8 91.9L425 92L425.2 91.5L425.5 91.7L425.8 91.6L426 92.1L426.2 91.9L426.5 91L426.8 91.6L427 91.9L427.2 91.4L427.8 91.3L428 91.1L428.5 92L428.8 91.8L429 92L429.5 91.8L429.8 91.5L430 91.7L430.2 92.1L430.5 91.9L431 90.9L431.2 90.8L431.5 91.2L431.8 91.2L432 90.6L432.2 91.1L432.5 91.2L433 91.1L433.2 91.8L433.5 91.4L433.8 90.5L434 90.7L434.2 91.2L434.5 91.2L435.8 90.5L436 90.7L436.2 89.8L436.8 91L437 90.5L437.2 90.4L437.5 91.3L437.8 91.1L438 90.6L438.2 90.4L438.5 90.4L439.2 90.3L439.5 90.6L440 89.7L440.2 89.9L440.5 90.2L441 89.6L441.2 90.7L441.5 90.6L441.8 90.2L442 90.2L442.2 90.6L442.5 90.7L442.8 90.2L443 90.3L443.2 90.1L443.5 90.2L443.8 89.7L444 89.5L444.2 90L444.5 90.2L444.8 90.3L445 90.1L445.2 90.5L445.5 90.4L445.8 90.6L446 90.2L446.2 90.5L446.5 90.1L447 90.2L447.2 89.4L447.5 89.6L447.8 90.3L448 89.5L448.2 89.7L448.5 90.2L448.8 90.4L449 89.8L449.2 89.8L449.5 89.5L449.8 89.7L450 90.2L450.5 89.8L450.8 89.9L451.2 89.8L451.8 89.4L452 89.8L452.2 89.5L452.8 90.6L453.2 90.5L453.5 89.5L453.8 89.5L454.5 88.8L454.8 89.1L455 89.8L455.5 90.1L455.8 90L456 89.8L456.2 89.3L456.5 89.4L456.8 89.8L457 89.9L457.2 89.4L457.5 89.2L457.8 89.4L458 89.9L458.5 89.3L458.8 89.1L459 89.3L459.2 88.8L459.5 89.1L460 89.1L460.5 89.7L460.8 90.3L461 89.6L461.2 89.4L461.5 88.9L461.8 88.7L462 89.6L462.2 89.8L462.5 89L462.8 89.2L463 89.5L463.5 88.4L463.8 89.2L464.2 89.2L464.5 88.9L464.8 89.4L465 89.4L465.2 88.9L465.5 89.1L465.8 88.8L466.2 88.6L466.8 88.8L467 89.3L467.5 88.7L467.8 89.3L468.2 89.3L468.5 89L468.8 89.1L469.2 88.5L469.5 88.8L470.2 88.9L470.5 88.3L470.8 88.7L471 88.5L471.5 88.9L472 88.6L472.2 88.9L472.5 88.8L472.8 89.1L473 89.1L473.2 88.6L473.5 88.3L474 88.9L474.2 88.7L474.5 88.1L474.8 87.9L475.2 88.2L475.5 88.7L475.8 88.7L476 88.8L476.2 88.7L476.5 89.1L476.8 88.7L477 88.6L477.2 88.4L477.8 88.9L478.2 88.9L478.5 88.4L479 89L479.5 88.3L480 88.2L480.5 88.8L481.2 87.9L481.5 88L481.8 88.9L482 88.3L482.5 88.1L482.8 88.2L483 88.1L483.5 88.6L483.8 88.1L484 88.3L484.2 88.2L484.5 88.3L484.8 88L485 88.1L485.5 87.3L486.2 87.6L486.8 88.3L487 87.8L487.2 88.1L487.5 88L487.8 87.7L488 87.6L488.2 88.1L488.5 88.1L488.8 87.8L489.2 87.8L489.5 87.5L490.2 88.4L490.5 87.5L490.8 87.5L491 87.7L491.2 87.6L491.8 87.7L492 87.7L492.5 87.8L492.8 87.3L493 87.6L493.2 87.2L493.5 88.2L493.8 88.1L494 87.7L494.2 88L494.5 87.8L495 88L495.5 87.7L495.8 87.8L496.5 87.1L496.8 87.1L497 88L497.2 87.8L497.5 87.2L497.8 87.6L498 87.5L498.2 86.8L498.5 87.1L499 88.1L499.5 88L499.8 87.8L500 87.7L500.2 87.2L500.5 87.6L500.8 87.6L501 87.1L501.5 88.1L501.8 88.3L502 88L502.2 87.3L502.8 87.3L503 87.7L503.2 87.1L503.5 86.8L503.8 86.7L504 87.3L504.2 87.4L504.5 87.1L504.8 87L505.2 87.6L505.5 86.9L506.5 87.7L507 87.5L507.2 87.8L507.5 87.7L508.2 86.8L508.5 87.1L509 86.7L509.2 86.8L509.5 86.5L510.2 87.2L510.5 87.1L511 87.7L511.2 87.4L511.5 86.6L511.8 86.3L512 86.5L512.2 86.5L512.5 86.2L512.8 86.2L513 86.3L513.5 87.5L513.8 87.6L514 86.7L514.2 86.6L514.5 86.3L514.8 86.3L515 86.8L515.2 86.9L515.5 86.7L515.8 87L516 86.9L516.2 87.1L516.5 86.8L516.8 87.1L517 86.8L517.5 86.9L517.8 86.4L518 86.5L518.2 86.7L518.8 86.8L519 86.4L519.2 86.3L519.5 86.6L519.8 86.8L520 86.6L520.2 87.1L520.8 87.1L521.2 86.7L521.5 87.3L521.8 86.7L522.2 87L522.8 86.7L523 86.4L523.2 86.5L523.8 87L524 86.6L524.2 86.9L524.5 86.9L525 86.5L525.2 86.4L525.5 86.1L525.8 86.6L526 86.7L526.2 86.5L526.5 86.8L526.8 86.7L527 86.5L527.2 86.8L527.5 86.7L527.8 87.2L528 86.4L528.2 86.2L528.5 86.3L529 87L529.2 86.7L529.5 86.6L529.8 87.2L530 87L530.2 86.5L530.8 86L531.2 87L531.5 86.1L531.8 85.9L532 86.2L532.2 85.8L532.5 86.6L532.8 86L533 86.1L533.5 86.8L533.8 86.5L534 85.7L534.2 85.7L534.5 86.1L534.8 85.7L535 86L535.2 86.1L535.5 86.6L535.8 86.6L536 85.7L536.2 86.3L536.5 86.5L536.8 86.1L537.2 85.8L538 86.8L538.2 86.8L538.5 86.2L538.8 86L539 86.3L539.2 85.3L539.5 85.6L539.8 86.5L540 86.9L540.2 86.1L540.5 86.1L540.8 85.8L541 86.1L541.2 86.1L541.5 86L541.8 86.2L542 86.2L542.2 86.3L542.8 85.8L543 86.2L543.2 86.4L543.5 86L543.8 86.5L544.2 86L544.5 86.1L545 85.8L545.2 86.4L545.5 86.4L545.8 86L546 86L546.2 86L546.5 86.4L546.8 86.5L547 86L547.5 86.1L548 86.5L548.2 85.7L548.5 85.3L548.8 85.7L549 85.6L549.2 86.3L549.5 85.9L549.8 85.9L550 86L550.2 86L550.5 85.8L551 86.2L551.2 86.1L551.5 86.5L552 85.3L552.2 85.9L552.5 85.5L553 86.7L553.2 86.3L553.5 85.6L553.8 85.5L554.2 86.3L554.5 85.8L554.8 86.2L555.2 85.8L555.5 85.9L555.8 86.3L556 85.4L556.2 85.4L556.5 86.1L556.8 86.1L557 85.4L557.2 85.3L557.5 85.4L557.8 85.8L558 85.7L558.2 86.3L558.8 85.9L559 85.9L559.5 86.1L559.8 85.8L560.2 86L560.5 85.9L560.8 86L561.2 85.5L561.8 86.4L562 86.2L562.2 85.3L562.5 85.6L562.8 85.5L563.8 85.4L564.2 85.6L564.5 85.2L564.8 85L565.2 85.2L565.5 85.6L565.8 85.3L566.5 85.8L566.8 85.7L567 85.9L567.2 85.6L567.8 85.7L568 85.2L568.5 86.1L568.8 85.7L569 85.6L569.2 86.1L569.5 85.8L569.8 85.7L570 84.8L570.2 85.3L570.5 85.4L571 85.9L571.5 85.1L571.8 84.6L572 85.6L572.2 85.9L572.8 85.3L573.2 85.8L573.5 85.9L573.8 86.1L574 85.3L574.2 85L574.5 85.5L574.8 85.8L575 85.3L575.2 85.3L575.8 84.8L576 84.8L576.2 84.6L576.5 85.3L576.8 85.6L577 85.6L577.2 85.1L577.8 84.6L578 84.8L578.2 85.7L578.5 86.2L578.8 85.1L579 85.1L579.2 85.5L579.5 85.2L579.8 85.4L580 85.2L580.2 85.2L580.5 85.5L581 84.9L581.2 85.4L581.8 85L582 84.9L582.2 85.3L582.5 85L583 85.5L583.2 85.3L583.5 85.4L583.8 84.8L584 85.3L584.5 85.8L584.8 85.4L585 85.4L585.5 84.7L585.8 84.7L586 84.9L586.2 85.2L586.5 84.9L587 85.5L587.2 85.6L587.8 85.5L588 84.8L588.2 84.8L588.8 85.5L589.2 84.8L589.5 84.8L589.8 84.5L590 85L590.2 84.5L590.8 85.4L591 85.2L591.2 84.5L591.5 84.9L591.8 84.8L592 85L592.2 85.5L592.8 84.4L593 84.5L593.2 85.1L593.5 84.9L593.8 84.4L594 84.2L594.8 85.1L595 84.8L595.2 85.1L595.5 85.2L595.8 84.4L596 84.6L596.2 85.2L596.5 84.8L596.8 84.9L597 85.1L597.2 84.6L597.8 84.3L598 84.8L598.5 84.4L598.8 84L599 84.9L599.2 85L599.5 84.6L599.8 84.9L600 84L600.2 84.4L600.5 84.4L600.8 85.2L601 84L601.2 84L601.8 84.9L602 85L602.5 84.8L602.8 85.3L603 84.6L603.5 85.1L603.8 84.3L604 84.3L604.2 84.9L604.5 84.7L604.8 84.2L605.2 85.2L605.5 84.7L605.8 84.8L606.2 84.5L606.5 85.1L607 85L607.2 84.6L608 84.6L608.2 84.4L608.5 84.4L608.8 84.8L609 84.2L609.5 84.3L610 84L610.2 84.2L610.5 84.6L610.8 84.3L611 84.3L611.2 84.8L611.5 84.2L611.8 84.7L612 84.5L612.2 84L612.8 84.3L613 84.8L613.2 84.7L613.8 83.8L614 83.7L614.2 84L614.5 83.8L614.8 84.1L615.5 84.7L615.8 84.5L616.2 84.4L616.5 84.7L617 85L617.2 84.8L617.5 84L617.8 83.8L618 84.4L618.2 84.6L618.5 84.2L618.8 84.7L619 84.4L619.5 84.2L619.8 83.6L620 83.5L620.2 83.8L620.5 83.8L620.8 84.1L621 83.9L621.2 83.3L621.8 84.1L622 83.4L622.2 83.7L622.5 83.5L622.8 83.5L623 84.4L623.2 84.5L623.5 84L623.8 84L624 84.6L624.2 84.6L624.5 84.2L624.8 84.3L625.2 84L625.5 84.2L625.8 84L626 84.2L626.5 83.8L626.8 83.8L627.2 84.4L627.8 83.8L628 84L628.2 83.6L628.5 83.5L629 84.2L629.5 84.3L629.8 84.5L630.2 83.9L630.5 84.1L630.8 83.9L631.2 84.1L631.8 83.4L632 83.7L632.5 83.8L633 83.3L633.2 83.3L633.5 84L633.8 84.2L634 84L634.2 84L634.5 84.5L635 84L635.2 84.1L635.5 83.9L635.8 84.1L636.2 84L636.8 83.7L637 84L637.2 84.1L637.5 83.5L637.8 83.4L638 83.5L638.2 83.9L638.5 82.7L639 78.8L639.2 77.5L639.8 75.8L640.2 74.7L640.8 74.1L641.5 73.5L642.5 73.1L644.2 72.7L646.8 72.4L653.5 71.9L662.2 71.6L675.8 71.5" fill="none" stroke="#1c1a1b" stroke-width="1.5" stroke-linejoin="round"/>
<path d="M347.5 70.6L357.6 70.6L358.8 227.5L360 208.6L361.2 191.5L362.5 177.6L363.8 165.8L365 155.7L366.5 145.7L368.5 134.8L370.2 126.9L371.2 123.6L372.5 120.2L374.2 116.3L375 114.8L375.2 114.6L375.8 113.5L376.2 111.8L376.5 111.4L376.8 111.3L377 110.9L377.2 110.7L377.5 110L378.2 108.9L379 108L379.2 107.5L379.8 107L380.2 105.9L381 104.8L381.2 104.7L381.5 104.9L382 103.6L382.8 102.8L383 102.4L383.2 101.7L383.5 101.8L383.8 101L384 100.6L384.5 99.5L384.8 99.4L385 99.9L385.2 99.6L385.5 98.8L385.8 98.5L386 98.6L386.2 98L386.8 98.2L387.2 97.5L387.8 96.2L388.2 95.8L388.5 95.9L388.8 95.5L389 95.5L389.5 95.1L389.8 95.1L390.2 94.6L390.5 94.8L391 94L391.2 94.3L391.5 93.8L391.8 93.9L392 93.8L392.5 93.2L392.8 93.2L393.2 92.8L393.5 93L393.8 92.7L394 92.6L394.2 92.8L394.8 91.9L395 92.1L395.5 92.1L395.8 92.4L396 91.9L396.2 92L396.8 91.9L397 91.5L397.2 91.2L397.5 91.2L398 91.4L398.2 91.3L398.5 90.7L398.8 91L399 90.9L399.5 90.4L399.8 90.5L400 90.2L400.2 90.6L400.5 90.2L401.2 90.3L401.5 89.9L401.8 90.2L402.2 90.4L403 89.4L403.5 90.1L403.8 89.6L404 89.5L404.5 89.6L404.8 89.2L405 89.8L405.8 89.5L406 89.7L406.2 89.3L406.5 89.4L407 88.8L407.5 89.2L407.8 88.9L408.2 88.8L408.5 88.6L408.8 88.5L409 88.7L409.2 88.6L409.5 88.8L410 89L410.5 88.6L410.8 88.5L411 88.3L411.2 88.5L411.5 88.4L411.8 88.6L412 88.3L412.5 88.2L412.8 88.4L413 88.4L413.2 88.1L413.5 88.6L414 87.7L414.2 87.7L414.5 87.4L414.8 87.4L415 87.7L415.2 87.5L415.5 87.8L415.8 87.5L416.2 88.2L416.5 87.8L416.8 87.8L417 88L417.2 87.7L417.5 87.7L417.8 87.5L418.2 87.6L418.8 87.4L419.2 87.7L419.5 87.6L420 87.2L420.2 87.5L420.5 87.5L421 86.7L421.5 87.5L421.8 87.4L422 87L422.2 87.3L422.5 87.1L422.8 87.2L423 87.1L423.2 87.3L423.8 87L424 87.1L424.2 86.8L425 86.7L425.2 87.1L425.5 87.1L426 86.6L426.2 86.8L426.8 86.9L427 86.7L427.2 86.7L427.5 86.9L427.8 86.5L428 86.4L428.2 86.1L428.5 86.3L429.2 86.5L429.5 86.4L429.8 86.5L430.5 85.9L430.8 86.4L431 86.4L431.2 86.1L431.8 85.8L432 86L432.2 85.9L432.5 86.2L433 86.2L433.5 85.6L433.8 85.9L434 86L434.2 86.4L434.5 86.3L434.8 86.4L435.5 85.6L436 86L436.8 85.9L437 85.6L437.2 85.8L437.5 85.6L438 86L438.2 85.4L439 86L439.5 85.6L439.8 85.8L440 85.7L440.2 85.3L440.5 85.5L441 84.8L441.2 85.2L441.8 85.1L442 85.8L442.2 85.4L443 86.1L443.2 85.6L443.5 85.8L443.8 85.3L444 85.4L444.5 85.2L445 86L445.2 86.1L445.8 85.1L446 85.2L446.2 85.5L446.5 85.6L446.8 85.5L447.2 85.1L447.5 85.4L447.8 85.4L448 85.6L448.2 85.3L449 85.9L449.2 85.8L449.5 85L449.8 84.9L450 85.1L450.5 84.7L450.8 85.4L451.2 85.4L451.5 85.3L451.8 85.4L452 85.3L452.2 85.3L452.5 85.5L452.8 85L453 85.1L453.2 84.8L453.5 85.3L454 84.6L454.2 84.5L454.8 85.5L455.2 84.5L455.5 84.6L455.8 85.5L456 84.9L456.2 84.6L456.8 85.2L457 85.3L457.2 84.9L457.5 84.8L457.8 85L458 84.8L458.2 84.9L458.8 85.1L459 84.7L459.2 84.7L459.5 84.9L459.8 84.9L460 84.5L460.8 84.9L461 85.4L461.2 85.2L461.5 85.1L461.8 84.8L462 84.8L462.5 85L462.8 84.8L463 85L463.2 84.7L463.5 84.9L464 84.7L464.2 85.1L464.5 85L464.8 84.6L465 84.5L465.2 84.8L465.5 84.5L465.8 84.7L466 84.4L466.2 84.5L466.5 84.4L466.8 84.6L467 85.1L467.2 85.1L467.5 84.6L468 84.2L468.2 84.6L468.5 84.8L468.8 84.3L469 84.3L469.2 84.5L469.5 84.4L470 84.9L470.2 84.7L470.5 84.8L470.8 85L471 84.7L471.2 84.6L471.8 84.4L472 84.7L472.2 84.2L472.5 84.3L472.8 84.1L473.2 84L473.8 84.5L474 84.6L474.2 84L474.5 84.3L475 84.2L475.5 84.3L475.8 84.3L476 84.4L476.2 84.8L476.5 84.5L477 84.1L477.2 84.4L477.5 84.2L478 84L478.2 84.1L478.8 83.8L479 83.8L480 84.7L480.2 84.7L480.5 84.1L480.8 84L481 84.2L481.2 84L481.5 84.4L481.8 84.4L482 84L482.5 84.5L483 84L483.5 84.1L483.8 83.9L484 84.1L484.5 83.8L484.8 83.8L485 84L485.2 83.8L485.5 83.9L485.8 83.6L486.2 84L486.8 84.2L487.2 84.1L487.8 83.6L488 83.5L488.8 84.2L489.2 84L489.5 84L489.8 83.8L490.5 83.9L491 83.5L491.5 83.7L491.8 84.2L492 84.2L492.2 83.7L492.5 83.5L492.8 83.6L493 83.5L493.2 84L493.8 83.7L494 84L494.2 84.1L494.5 83.9L494.8 83.9L495 83.3L495.8 83.3L496 83.9L496.2 84.2L496.5 83.5L496.8 83.5L497 83.8L497.2 83.6L497.8 83.5L498 83.6L498.2 83.5L498.5 83.8L498.8 83.8L499.2 83.4L499.8 83.6L500.5 82.9L500.8 83.3L501.2 83.7L501.5 83.2L501.8 83.2L502 83.8L502.2 83.8L502.5 83.3L503 83L503.5 83.8L503.8 83.7L504 83.3L504.2 83.4L504.5 83.3L504.8 83.5L505 83.4L505.5 83.8L505.8 83.6L506 83.6L506.5 83.6L506.8 83.4L507 83.4L507.2 83.5L507.5 83.7L507.8 83.6L508 83.5L508.5 83.1L509 83.5L509.5 83.2L510 83.5L510.2 83.5L510.8 83.1L511 83.4L511.2 84.2L511.5 83.6L512 83.4L512.2 83.2L512.5 83.6L513 83.2L513.2 83.5L513.5 83.3L513.8 83.3L514 83.1L514.5 83.5L515 82.9L515.5 83.4L515.8 82.9L516 83L516.2 83.4L517 83.2L517.5 83.6L517.8 83.4L518 83L518.2 83.3L518.5 83.1L518.8 83.6L519 83.3L519.2 83.4L519.8 83.2L520 83.6L520.2 83.5L520.5 83.8L520.8 83.6L521 83.6L521.2 84L521.5 83.8L521.8 83.3L522 83.2L522.2 83.8L522.8 83.6L523 83.3L523.2 83.1L523.5 83.1L523.8 83.5L524.2 83.3L524.5 82.9L524.8 83.4L525.2 82.5L525.8 83.4L526 83.5L526.2 82.6L526.5 82.8L526.8 83.1L527 82.9L527.8 83.1L528 82.9L528.2 83L528.5 83L529.2 83.5L529.5 83.4L529.8 83.6L530 82.9L530.5 83.4L530.8 83.1L531 82.6L531.2 83.1L531.5 83.3L531.8 83.8L532 83.4L532.2 83.3L532.5 83.1L532.8 83.2L533 82.5L533.5 83L533.8 82.9L534 83.3L534.2 83.4L534.5 83.5L534.8 82.9L535 83L535.2 83.3L535.5 83.2L535.8 83.4L536 83.3L536.2 83.1L536.8 83.3L537.5 83L537.8 83.2L538 83.5L538.2 83.6L538.5 82.9L538.8 82.8L539.2 83.5L539.5 83.2L539.8 83.8L540 83.7L540.2 82.8L540.5 83.2L540.8 83.3L541.2 82.7L541.5 83.1L541.8 83.2L542 83.5L542.5 83.1L542.8 83.7L543 83.8L543.5 83.3L543.8 83.4L544.5 82.7L544.8 83L545 82.8L545.2 83.1L545.5 82.9L545.8 83.1L546 83L546.2 82.8L546.5 82.8L546.8 83L547 83.5L547.5 83.2L547.8 83.3L548 82.8L548.2 82.7L548.8 83.3L549 83.1L549.8 83.1L550 83.4L550.2 83.3L550.5 82.9L550.8 82.8L551 83L551.2 82.9L551.8 83.3L552.2 83.1L552.8 82.8L553 82.9L553.2 83.3L553.5 83L554.2 83.2L554.8 82.8L555 83.4L555.2 83L555.5 83.1L555.8 82.9L556 83.1L556.2 83L556.5 83.5L557 82.8L557.2 83.3L557.5 82.7L558 83.3L558.2 83.1L558.5 83.4L559 83L559.2 83.3L559.8 83L560 83.3L560.5 82.7L560.8 83L561 83.8L561.2 83.7L561.5 82.9L561.8 83.2L562 83.4L562.2 83.1L562.5 83.1L562.8 82.8L563.2 83.3L564 82.9L564.2 82.6L565 82.9L565.2 82.9L565.5 83.3L565.8 82.7L566 82.6L566.5 83L566.8 82.7L567 82.9L567.2 82.8L567.5 82.8L568 83.3L568.2 83.3L568.5 82.9L568.8 83.3L569 83.4L569.2 83.2L570 83L570.5 83.5L570.8 83.1L571.2 83.2L571.5 82.8L571.8 83.4L572 83.3L572.2 83.4L572.5 83L572.8 82.8L573.2 83L573.5 82.9L573.8 83.2L574.2 82.8L574.5 83.1L575 83L575.8 82.7L576 83L576.2 83.1L576.5 83.1L576.8 82.9L577 83.1L577.2 83.2L577.5 82.8L578 83.5L578.2 83L578.5 82.9L579 82.9L579.2 83.2L580 82.8L580.2 83.1L580.8 82.8L581 83L581.2 83.3L581.5 83.1L581.8 83.1L582 83.3L582.2 83.1L582.5 83.1L582.8 82.8L583 82.9L583.2 82.5L583.5 82.8L584 82.8L584.2 83.2L585 83.4L585.2 83.2L585.8 83.1L586 83.4L586.2 83.2L586.5 82.7L586.8 82.6L587.2 82.8L587.5 83.2L588 83.1L588.2 82.7L588.5 82.8L588.8 83L589 82.4L589.5 82.3L590 83.4L590.2 82.9L590.5 83.2L590.8 83.3L591 82.8L591.2 82.7L591.5 83L591.8 83L592 82.5L592.2 82.7L592.5 83.2L592.8 82.8L593.2 83.1L593.5 82.8L594.5 82.6L594.8 82.4L595.5 83L595.8 82.8L596 82.8L596.2 83.3L596.8 82.8L597.2 82.7L597.5 82.6L598.2 82.5L598.8 82.6L599 83.1L599.2 82.7L599.5 83.2L599.8 83L600.2 83.1L600.5 82.6L600.8 83.1L601 83L601.2 82.7L601.5 82.6L601.8 82.7L602 82.5L602.2 83.1L602.5 82.9L602.8 83L603.2 82.7L603.5 82.6L603.8 82.6L604 83L604.2 82.9L605.5 83.1L605.8 82.6L606 82.5L606.8 82.8L607 83.1L607.2 83.1L607.8 82.6L608 82.8L608.5 82.9L609 82.7L609.2 82.7L609.5 82.5L609.8 82.5L610 82.7L610.5 83L611 82.5L611.2 83.1L611.5 83.1L611.8 82.5L612 82.6L612.2 82.9L612.8 82.4L613 82.9L613.2 82.8L613.8 83L614 82.6L614.2 82.5L614.5 82.9L614.8 82.9L615 82.8L615.2 83L615.8 82.9L616 82.5L616.5 82.8L616.8 82.5L617 82.4L617.2 82.6L617.8 82.3L618 82.3L618.2 82.9L618.5 82.8L618.8 82.9L619 82.5L619.5 82.6L619.8 82.5L620 82.3L620.2 82.8L621 82.5L621.2 82.8L621.5 82.4L621.8 82.9L622 82.6L622.2 82.4L622.5 82.5L622.8 82.8L623 82.4L623.2 82.3L623.5 82.3L623.8 82.7L624 82.7L624.2 82.4L624.8 83L625.5 82.4L625.8 82.9L626 82.7L626.2 82.2L626.5 82.1L626.8 81.9L627 82.4L627.2 82.2L627.8 82.7L628 82.3L628.2 82.6L628.8 82.3L629 82.7L629.5 82.4L629.8 82.5L630.2 82.2L630.8 82.6L631 82.1L631.2 82.1L631.5 82.5L631.8 82.2L632 82.3L632.2 82.3L632.5 82.1L633.5 82.6L634 82.7L634.5 82.4L634.8 82.6L635.2 82.6L635.5 82.4L636 82.3L636.2 82.1L636.5 82.4L637 82.2L637.2 82.4L637.5 82.8L637.8 82.4L638 82.6L638.2 82L638.5 82.3L639.5 78L640.2 76.4L640.8 75.8L641.5 75.2L642.2 74.9L643.5 74.4L645.8 73.9L648.8 73.3L652 72.9L655.5 72.6L664 72.1L675.8 71.9" fill="none" stroke="#2b2e8c" stroke-width="1.5" stroke-linejoin="round"/>
<path d="M347.5 70.6L357.6 70.6L358.8 227.5L359 226.1L359.1 222.4L359.4 209.2L359.8 185L360.2 147.5L360.5 137.7L361 125L361.2 120.9L362.2 108.9L362.5 102.1L362.8 98.6L363 97L364 93.1L364.8 90.9L365.5 89.5L366.5 88.2L367.5 87.3L368.8 86.5L370 86L372.5 85.2L375 84.5L375.5 84.7L375.8 84.5L376 84.2L376.5 84.3L377 84.1L377.2 84.2L377.5 84L377.8 84L378 83.7L378.5 84.2L378.8 84L379.2 83.3L379.5 83.7L379.8 83.8L380.5 83.4L381 83.3L381.2 83.2L381.8 83.6L382.2 83.2L382.8 83.1L383.2 83.2L383.5 83L384.2 83.2L384.5 83L385.2 83L385.5 82.8L385.8 82.8L386.2 82.7L386.8 82.8L387.5 82.7L387.8 82.7L388 82.9L389 83L389.2 82.8L390 82.6L390.2 82.7L391.2 82.7L391.5 82.4L391.8 82.6L392.2 82.4L392.8 82.6L393 82.6L393.2 82.5L394.2 82.6L395 82.2L395.2 82.4L395.5 82.3L396.2 82.5L397 82L397.2 82.2L397.8 82.1L398 82.1L398.2 82.3L399 82.1L399.5 82.2L399.8 82.1L400 82.2L400.2 82.1L400.5 82.3L400.8 82L401 82L401.8 82L402.2 82.1L402.5 82L402.8 82.1L403.5 82L403.8 82.1L404 81.6L404.8 81.9L405.8 82L406 81.8L406.5 82L406.8 81.8L407.2 81.6L407.5 81.7L407.8 81.7L408 81.7L408.2 81.6L408.5 81.6L408.8 81.5L409.5 82L409.8 81.8L410 81.8L410.2 81.9L410.8 81.5L411.5 81.7L411.8 81.6L412 81.3L412.5 81.7L413 81.4L413.5 81.3L414 80.9L414.2 81.3L415 81.2L415.5 81.3L415.8 81.5L416 81.3L416.5 81.3L416.8 81.4L417.2 81L417.5 81.4L417.8 81.5L418.2 81L418.5 81.3L419 81L419.2 81L419.5 81.2L419.8 81L420.2 81L420.5 81.1L420.8 80.9L421.2 81L421.5 81.2L421.8 81L422.2 81.1L422.5 81L422.8 80.7L423.2 81L423.8 80.9L424 81.1L424.2 81.1L424.8 80.7L425.2 80.9L425.5 80.9L425.8 80.6L426.2 80.4L427 81.1L427.5 80.7L427.8 80.7L428 80.9L428.2 80.9L428.8 80.5L429 80.5L429.5 80.8L429.8 80.6L430 80.5L430.8 80.6L431 80.4L431.5 80.4L431.8 80.5L432.2 80.3L432.5 80.2L433 80.5L434 79.9L434.2 79.9L434.8 80.2L435.2 80.3L435.5 80L436 80L436.5 79.7L437 80.1L437.2 79.8L437.5 80.1L437.8 80.1L438 80L438.5 79.9L438.8 80L439 80.1L440.2 79.8L440.5 79.6L441 79.7L441.2 79.5L441.5 79.6L442.5 79.6L442.8 79.8L443 79.4L443.5 79.3L444 79.7L444.2 79.8L444.5 79.5L444.8 79.5L445 79.4L445.5 79.5L445.8 79.2L446.8 79.4L447 79.2L447.2 79.2L447.8 78.9L448.2 79.1L448.5 79L448.8 79.1L449 79.3L449.2 79.3L449.8 79.4L450 79.3L450.2 79.5L451 79L451.5 79.1L452 79.1L452.2 79L452.5 78.8L453 78.9L453.5 78.7L454 78.8L454.2 79L454.5 78.8L454.8 78.8L455 78.6L455.5 78.9L456.5 78.7L457 78.8L457.8 78.5L458 78.3L458.2 78.5L458.8 78.5L459 78.7L459.8 78.5L460 78.6L460.8 78.6L461 78.7L461.2 78.4L462 78.6L462.5 78.4L463 78.7L463.5 78.4L464 78.4L464.2 78.6L464.5 78.4L464.8 78.6L465 78.6L465.2 78.5L465.5 78.6L465.8 78.4L466 78.3L466.2 78.4L467 78.1L467.5 78.2L467.8 78.1L468 78.3L468.2 78.3L468.5 78.2L469 78.3L469.2 78.1L469.5 78.2L470 78.1L470.2 78.1L470.8 77.7L471 78.1L471.5 78.3L471.8 78.1L472 78.1L472.2 77.9L472.5 77.8L473.5 78.2L473.8 78.1L474 77.8L474.2 77.9L474.5 78.2L474.8 78.2L475 77.8L475.2 77.9L475.5 78.1L475.8 77.9L476 78L476.2 77.7L476.8 77.7L477.2 78.1L477.5 78L478.2 78.1L478.8 77.5L479 77.5L479.2 77.9L479.8 77.9L480.5 77.4L481 77.6L481.5 77.5L481.8 77.8L483 77.5L483.2 77.6L483.8 77.4L484 77.7L484.5 77.6L484.8 77.3L485 77.7L485.5 77.3L486.2 77.3L486.8 77.7L487 77.5L487.8 77.4L488 77.3L488.2 77.5L488.5 77.2L488.8 77.3L489 77.6L489.5 77.2L490 77.7L490.5 77.2L490.8 77.3L491 77.3L491.2 77.2L491.5 77.2L491.8 77L492 77.3L492.2 77.3L492.8 77.2L493 77.4L493.5 77.4L493.8 77.2L494.2 77.5L494.5 77.4L494.8 77.1L495.2 77.1L495.8 77.2L496 77.4L496.2 77.4L496.5 77.2L496.8 77.2L497.5 76.8L498 77.3L498.2 77.2L498.8 77.2L499 76.8L499.8 77.2L500 77.1L500.2 76.7L500.5 76.7L500.8 77L501 77L501.2 76.8L501.5 76.7L501.8 76.9L502 76.8L502.2 77L502.8 77L503 77.2L503.2 76.9L504 76.6L504.2 77L504.5 77L505.2 76.8L505.5 76.7L506.2 77L506.8 77L507 76.9L507.2 76.6L507.8 76.9L508 76.8L508.5 76.9L508.8 76.7L509.2 77L509.8 76.7L510 76.8L510.5 76.6L510.8 76.8L511.2 76.6L511.5 76.8L511.8 76.7L512.2 76.8L513 76.4L513.5 76.7L513.8 76.6L514.2 76.9L514.5 76.8L514.8 77.2L515.2 76.6L516 76.8L516.2 76.6L516.5 76.7L516.8 76.6L517.2 76.9L517.5 76.8L517.8 76.8L518 76.7L518.2 76.8L518.5 76.6L519 76.6L519.2 76.4L519.8 76.6L520 76.8L520.5 76.4L520.8 76.4L521 76.5L521.2 76.4L521.5 76.5L521.8 76.4L522 76.4L522.2 76.6L522.5 76.4L522.8 76.8L523 76.5L523.2 76.4L523.5 76.6L524 76.8L524.5 76.5L525.2 76.7L525.8 76.7L526 76.6L526.2 76.2L526.8 76.6L527 76.5L527.8 76.4L528.2 76.2L528.5 76.5L528.8 76.5L529.2 76.1L529.5 76.3L529.8 76.3L530 76.6L530.5 76.2L531 76.7L531.5 76.3L532 76.3L532.2 76.4L532.5 76.3L533 76.6L533.8 76.3L534.5 76.5L535.5 76.3L535.8 76.5L536.5 76.6L536.8 76.3L537 76.2L537.5 76.4L537.8 76.2L538.2 76.4L538.5 76.2L539 76.6L539.5 76.2L540 76.2L540.5 76.5L540.8 76.4L541 76L541.5 76.3L542 76L542.2 76.3L542.5 76.4L542.8 76.3L543.2 76.4L543.5 76.1L543.8 76.2L544.2 76.7L544.5 76.3L545 76.6L545.8 76.4L546 76.1L546.2 76.2L546.5 76.3L546.8 76.5L547.8 76.1L548 76.3L548.2 76L549 76.3L549.5 76.1L550 76.4L550.2 76.2L550.5 76.3L550.8 76.1L551.5 76.1L551.8 76.4L552 76.4L552.5 76L552.8 76.2L553 76.1L553.2 76.3L553.5 76L553.8 76.2L554 75.9L554.2 75.9L554.8 76.3L555 76.3L555.2 76.1L555.5 76.1L555.8 76.2L556 76L556.2 76L556.5 76.2L557.2 76.3L557.5 76L558 76.4L558.2 76.1L558.5 76L558.8 76.3L559.2 76.3L559.8 76.1L560.2 76L560.5 76.4L560.8 76L561 76L561.2 76L561.8 76.3L562 76.1L562.8 76.4L563 76.1L563.5 76.3L563.8 75.9L564.2 76L564.5 75.9L565.2 76.3L565.5 76.2L565.8 76L566 75.9L566.2 76.1L566.5 75.8L567.2 75.8L567.5 76L567.8 75.8L568 75.9L568.2 76.2L568.5 76.2L568.8 75.9L569 75.8L569.5 75.8L569.8 76.2L570 76.2L570.5 75.9L570.8 76.1L571.2 76L571.8 76.2L572.2 75.9L572.5 75.9L572.8 76.2L573 76L573.2 75.7L573.5 76L573.8 76L574 75.7L574.2 75.8L574.5 76.1L575 75.8L575.5 76L575.8 75.8L576 75.8L576.5 76L576.8 76.3L577 76.2L578 75.6L578.2 75.9L578.8 75.9L579 76.1L579.2 76.1L579.5 75.7L579.8 76L580 76L580.2 75.8L580.5 75.9L580.8 76.2L581.2 76.2L581.5 75.9L581.8 75.8L582.5 76.2L582.8 76.2L583 75.9L583.2 75.7L583.5 76L584.2 76.1L584.5 75.8L584.8 75.7L585 76.2L585.5 75.9L586 76.3L586.2 76.1L586.5 76.2L586.8 76.1L587 76.2L587.2 76L587.5 76.1L588.5 75.9L589 76L589.5 75.8L590 76.1L590.5 75.7L590.8 75.7L591.2 76.1L591.5 75.8L591.8 76L592.2 75.8L592.8 76L593 75.9L593.2 76.1L593.5 76.2L593.8 75.8L594 75.6L594.2 75.6L594.5 75.9L594.8 75.8L595.2 75.8L595.5 76.1L596 75.9L596.2 75.6L597.5 76.1L598.5 75.8L599 75.8L599.2 75.6L599.8 75.8L600.2 75.8L600.5 75.6L601.2 76L602 75.8L602.8 75.9L603 75.8L603.2 75.9L603.8 75.6L604 75.6L604.2 75.9L604.5 75.8L604.8 75.8L605 76.1L605.2 75.8L605.8 75.6L606.2 75.9L606.5 75.9L606.8 76.1L607 75.7L607.5 75.6L607.8 75.8L608.5 75.7L608.8 75.8L609.8 75.7L610.5 75.8L610.8 75.6L611 76L611.8 75.9L612 75.7L612.2 75.9L612.8 75.8L613 75.9L613.5 75.7L613.8 75.9L614.5 75.9L614.8 76L615 75.8L616 75.8L616.2 75.7L616.5 75.9L616.8 75.9L617.5 75.6L618 76L618.2 75.8L618.5 75.6L619.2 75.9L620 75.7L620.2 75.9L620.5 75.8L621.8 75.9L622 76.2L622.2 76.1L622.8 75.8L623 75.9L623.5 75.9L624 75.6L624.2 75.6L624.8 75.9L625.2 75.7L625.8 75.9L626.2 75.7L626.8 75.9L627 75.7L627.8 75.8L628 75.9L628.2 75.9L628.5 75.8L628.8 76.1L629 76L629.2 76.1L629.5 75.9L629.8 75.5L630 75.6L630.2 75.8L630.5 75.9L630.8 75.8L631 75.5L631.8 76L632.2 75.6L633 75.8L633.5 76L633.8 76L634 75.7L634.2 75.5L634.5 75.5L634.8 75.7L635 75.8L635.2 75.6L635.5 75.8L635.8 75.8L636.2 75.8L636.5 75.6L636.8 75.7L637 76L637.2 75.8L637.5 75.9L638 75.5L638.2 75.7L638.8 74.5L639.5 73.6L640.5 73.2L642 72.9L652.5 72.7L675.8 72.6" fill="none" stroke="#ec1c24" stroke-width="1.5" stroke-linejoin="round"/>
<path d="M347.5 70.6L357.6 70.6L358.8 227.5L361 196.6L362 185L363.2 172.2L364.2 163.3L365 157.6L366 151.6L367.2 145.8L371.2 129.8L372.5 125.9L373.5 123.8L375 121.5L375.2 120.9L375.5 120.7L376 119.7L376.2 119.4L376.5 119.4L377 118.3L377.2 118.6L377.8 117.3L378 117.6L378.5 116.6L378.8 116.4L379 116.6L379.2 116.5L379.5 116.2L379.8 115.7L380 116.1L380.2 115.1L380.5 114.6L380.8 114.5L381 114L381.5 114.1L382 114.5L382.5 113.6L383 113L383.2 113.5L383.8 113L384.2 112.1L384.5 111.9L384.8 111.8L385 111.9L385.2 112.1L385.5 111.7L385.8 111.9L386 111.9L386.5 111.4L386.8 110.5L387 110.9L387.2 110.9L387.5 111.3L388 110.5L388.2 110.5L388.5 110.6L388.8 110.9L389 110.2L389.5 109.9L389.8 110L390 110L390.5 109.7L390.8 110.1L391 110L391.5 109.2L391.8 109.3L392 109.3L392.2 109.4L392.8 108.8L393.2 109.5L393.8 108.3L394 108.4L394.2 108.9L394.5 108.8L394.8 108.1L395 108.7L395.2 109L395.5 108.7L395.8 107.8L396.2 108.5L396.5 108.3L396.8 107.8L397 107.5L397.2 107.7L397.5 107.8L397.8 107.4L398 107.6L398.2 108.1L398.5 108.1L398.8 107.7L399 107.8L399.5 107L400 106.7L400.5 107.1L400.8 107.8L401 107.6L401.2 107.6L401.5 106.7L401.8 106.9L402.2 106.2L402.5 106.6L402.8 106.5L403.2 107.4L403.5 106.7L404.2 105.7L404.5 105.9L404.8 105.9L405 106.1L405.2 106L405.8 106.3L406 106.3L406.2 105.6L406.5 105.6L406.8 106.3L407 106.1L407.2 105.8L407.5 106.2L407.8 104.9L408.2 105.4L408.5 105.5L408.8 105L409.2 105.5L409.5 105.6L409.8 104.7L410.2 105L410.8 106L411 105.7L411.2 104.9L411.5 105L412.2 104.6L412.5 104.8L413.2 104.9L413.5 105.3L413.8 104.2L414 104.2L414.2 104.3L414.8 104.8L415 104.7L415.2 105.4L415.5 104.8L415.8 104.8L416 104.3L416.2 104.2L416.5 104.9L416.8 103.9L417 103.5L417.8 104.4L418 103.9L418.2 103.8L418.5 104L418.8 104L419 103.6L419.2 103.7L419.5 103.6L420.2 104.1L420.5 104.2L420.8 103.4L421 103.1L421.2 103.4L421.8 103.4L422 103.6L422.2 103.5L422.5 103.6L423.2 102.9L423.5 103.3L423.8 103.2L424 103.5L424.5 102.8L424.8 102.9L425 102.8L425.5 102.3L425.8 102.7L426 102.6L426.2 102.3L426.5 102.6L426.8 102.6L427 102.1L427.2 102L427.5 102.5L427.8 102.7L428 102.4L428.2 101.7L428.5 101.8L428.8 102.2L429 102L429.2 102.5L429.5 102.5L429.8 101.9L430.2 102.3L430.5 102.1L430.8 101.8L431 101.8L431.2 101.9L431.5 102.4L431.8 102.2L432 102.2L432.2 101.9L432.8 101.9L433.2 101.3L433.5 101.6L434.5 100.9L434.8 101.2L435 100.9L435.5 101L435.8 100.8L436 101.3L436.2 101.4L436.5 100.8L437.5 101L437.8 101L438 100.7L438.2 100.9L438.5 100.1L438.8 100.4L439 100.9L439.2 100.7L439.8 101.2L440 101.2L440.2 100.3L440.5 100.1L441.2 100.3L441.5 99.8L441.8 100.4L442.2 100.7L442.5 99.9L442.8 100.3L443.2 100L443.5 100.4L443.8 100.4L444 99.8L444.2 100.2L444.8 99.8L445.2 99.8L445.8 99.7L446 99.1L446.2 99.9L446.5 99.9L446.8 99.6L447 99.8L447.2 99.7L447.8 100.1L448 99.6L448.2 98.7L448.5 99.7L449 99.6L449.2 99.2L449.8 99.3L450 99.6L450.2 99.6L450.8 99.5L451.2 99.7L451.8 99.2L452 99.3L452.2 99L452.8 99.4L453 98.5L453.2 98.3L453.5 98.3L453.8 99.4L454 99.1L454.5 98.9L455 98.5L455.2 98.6L455.5 98.4L456 99.4L456.2 99.4L456.5 98.4L457.2 97.8L457.5 97.9L458 98.8L458.2 98.8L458.5 98.2L458.8 98.4L459 98.3L459.5 98.7L459.8 98.7L460 98.6L460.2 98.4L460.5 98.3L461 98.3L461.2 98.1L461.8 98.2L462 98.4L462.2 97.7L462.5 97.7L462.8 97.9L463 97.7L463.2 97.2L463.5 98.1L463.8 98.2L464 97.3L464.2 97.3L464.5 97.9L464.8 97.3L465 97.6L465.5 97.5L465.8 97.6L466 97.1L466.2 96.9L467.5 98L468 97.4L468.2 97.4L468.5 96.9L469.2 96.7L469.5 97.2L470 96.5L470.2 96.8L470.5 97.6L470.8 97.6L471.2 97.1L471.5 96.4L472 96.9L472.2 96.5L472.5 96.3L472.8 96.6L473 97.2L473.2 97.3L473.5 96.7L473.8 97L474 96.4L474.2 96.6L474.8 96.7L475 97.2L475.5 96.8L475.8 96.9L476 96.5L476.5 97L476.8 96.9L477 97L477.2 96.1L477.5 95.9L477.8 96.2L478.2 96.3L478.5 96.8L479 95.9L479.2 96L479.5 96.2L479.8 95.9L480 96.1L480.2 95.8L480.5 96L480.8 96L481 95.6L482 96.2L482.5 95.4L482.8 95.6L483 95.5L483.5 96.2L483.8 96.3L484 96.2L484.2 95.4L484.5 95L485 95.5L485.5 95.2L486 96L486.2 95.6L486.8 96.2L487 95.5L487.2 95.6L487.5 95L487.8 95L488.2 95.7L488.8 95.3L489.2 96L489.5 95.8L489.8 95.2L490 95.3L490.2 95.1L490.5 95.5L490.8 95.5L491 95L491.2 95.6L491.5 94.7L491.8 94.8L492 94.5L492.2 94.9L492.5 95.6L492.8 95.7L493 95.7L493.2 94.9L493.5 94.5L493.8 94.7L494 95.8L494.5 94.6L495.2 95L495.8 94L496.2 94.8L496.5 94.7L496.8 94.4L497 94.3L497.2 94.9L497.5 94.8L497.8 94.3L498 94.4L498.2 95.1L498.5 94.7L498.8 94.9L499 94.5L499.2 94.3L499.5 94.3L499.8 94.6L500 94.5L500.2 94.2L500.5 94.8L500.8 94.3L501 94.2L501.2 94.6L501.5 94.1L501.8 94.1L502 94.4L502.2 94.4L502.5 93.6L503 93.3L503.2 94.1L503.5 94.3L503.8 94.3L504.2 93.9L504.5 94.1L504.8 93.6L505 93.5L505.5 94.1L505.8 93.8L506 94.7L506.2 93.7L506.5 93.3L506.8 93.7L507 93.6L507.2 94L507.5 94L507.8 93.5L508 93.8L508.2 93.6L508.5 93.7L508.8 93.5L509 93.6L509.5 94.1L509.8 93.6L510.2 94.1L510.5 93.5L510.8 93.8L511 93.5L511.5 93.6L511.8 93.5L512 94L512.2 94L512.5 93.5L512.8 93.4L513.2 93.6L513.5 93.4L513.8 93L514 93.4L514.2 93.5L515 92.6L515.2 93.1L515.5 93L515.8 93.2L516 93.8L516.2 92.7L516.5 92.4L516.8 93L517 92.5L517.5 92.9L517.8 92.8L518 93.3L519 92.5L519.5 93.5L519.8 93L520 93.1L520.2 93L520.5 92.6L520.8 92.9L521.2 92L521.5 92L521.8 92.9L522 93.5L522.5 93L522.8 92.1L523 91.7L523.2 93.1L523.5 93L523.8 92.2L524 92.5L524.2 92.6L524.8 92.2L525 92.6L525.2 92.7L525.5 92.1L525.8 92.4L526 92.1L526.2 92.5L526.5 92.5L526.8 92.7L527 92.5L527.2 91.8L527.5 91.9L528 92.6L528.2 92.7L528.5 92L528.8 92.4L529 93.1L529.5 91.8L529.8 91.6L530 92.3L530.2 92.5L530.5 92.1L531 92.7L531.2 92.8L531.8 92.1L532 91.9L532.2 92.3L532.5 91.9L532.8 92.5L533 92.4L533.5 91.3L533.8 91.5L534 91.3L534.2 91.6L534.8 92.7L535 91.7L535.2 91.8L535.5 92.6L535.8 92.1L536.2 91.8L536.5 92.3L536.8 92.1L537.5 92.4L538 91.7L538.2 91.9L538.5 91.6L538.8 91.1L539 91.3L539.2 91.1L539.5 91.5L540 91.4L540.2 91.1L540.5 91.7L541 91.9L541.2 91.2L541.8 91.3L542 91.6L542.2 91.4L542.5 91.6L542.8 91.2L543 91.6L543.8 91.4L544 91.5L544.2 91.8L544.5 91.9L544.8 91.8L545.2 91.2L545.5 91.1L546 91.3L546.5 90.8L546.8 90.9L547 91.4L547.2 91.1L547.8 91.1L548 91.3L548.2 91.3L548.5 91.6L549 90.8L549.2 91L549.5 90.8L550 91.3L550.2 90.8L550.5 91.2L550.8 91.2L551 91.4L551.2 91.2L551.5 91.4L551.8 91.3L552 91.5L552.5 90.8L553 91.2L553.2 91.5L553.5 90.7L553.8 90.5L554 91.2L554.5 90.2L555 90.5L555.2 90.9L555.5 91.6L555.8 91L556 91.1L556.2 91L556.5 90.5L556.8 90.3L557 91.2L557.2 90.7L557.5 90.5L557.8 90.8L558 90.5L558.2 90.6L558.5 91L558.8 90.7L559.2 90.7L559.5 91L559.8 90.1L560 89.6L560.2 90.4L560.5 90.8L560.8 91.6L561 90.9L561.2 90.7L561.5 90.9L562 90.7L562.2 90.3L562.5 90.5L562.8 90.9L563 90.2L563.2 90.4L563.5 90.7L563.8 90.8L564 90.6L564.5 90.8L565 90.3L565.2 90.5L565.5 90.3L565.8 90.3L566 90.8L566.2 90.6L566.5 89.9L566.8 89.7L567.2 90.5L567.5 90.6L567.8 90.6L568 91L568.5 90L569 90.7L569.5 90.6L569.8 90.8L570.2 90.8L570.5 90.3L571.2 90.5L571.5 90.9L572 90.4L572.2 89.9L572.8 90.4L573.2 90L573.5 90.3L573.8 90.3L574 90.6L574.5 90.5L574.8 89.9L575 90L575.5 91.3L575.8 90.7L576 90.4L576.2 90.3L576.5 90.8L577 90.2L577.2 90.2L577.5 90.1L577.8 90.3L578.2 89.9L578.5 89.5L579 89.7L579.2 89.2L580.2 90.5L580.5 89.5L581.2 90L581.8 89.6L582.2 90L582.5 90.5L582.8 90L583.2 90.2L583.8 89.8L584.5 89.5L585 90.5L585.2 90.3L585.5 89.7L585.8 90L586.2 89.7L586.5 89.7L586.8 89.9L587 89.4L587.2 89.5L587.5 89.9L587.8 89.2L588.2 89.8L588.5 89.7L588.8 89.7L589 90.4L589.2 90.3L589.5 90L589.8 90L590 89.7L590.2 89.6L590.5 90.1L590.8 90.1L591 89.5L591.2 90.2L591.5 90.5L592 89.4L592.2 89.7L592.5 89.5L592.8 89.9L593.5 89.2L593.8 89.5L594 89.5L594.2 89L594.8 89.2L595 89.8L595.5 89.4L595.8 89.8L596.2 89.3L596.5 89.4L596.8 89.8L597.2 88.8L597.5 89L597.8 89.1L598 88.7L598.2 89.6L598.5 89.8L598.8 89.2L599 89.7L599.2 89.6L599.8 89.2L600 89.9L600.5 89.2L600.8 89.5L601.2 89.1L601.5 89.5L601.8 89.3L602 88.6L602.2 89.1L602.8 89.7L603 89.7L603.5 89.2L603.8 88.8L604 89L604.2 89L604.5 89.5L604.8 89.6L605.2 88.4L605.5 89.2L605.8 89.5L606.2 88.7L606.5 89.1L606.8 88.9L607.5 89.2L607.8 88.8L608 89.4L608.2 89.4L608.5 89.7L608.8 88.7L609 88.2L609.2 88.7L609.5 88.5L609.8 88.7L610 88.4L610.2 89.1L610.8 89.2L611.2 88.6L611.5 89.3L611.8 89.6L612 89.5L612.2 88.9L612.8 89.1L613 88.8L613.8 89.1L614 88.5L614.2 89.2L615 88.8L615.2 89.2L615.8 89L616 89.1L616.2 88.8L616.5 89L616.8 88.6L617 88.8L617.2 89.3L617.5 88.7L617.8 88.5L618.5 89L619 88.8L619.2 89L619.5 89.5L619.8 88.5L620.2 89L620.5 88.6L620.8 88.9L621 88.8L621.2 88.1L621.5 89.3L621.8 89.3L622.2 88.5L622.5 88.6L622.8 88.4L623 88.5L623.2 88.8L623.5 87.9L623.8 87.7L624.2 88.8L624.5 88.5L624.8 88.8L625 88.5L626 88.8L626.5 88.2L626.8 88.2L627 88.9L627.5 88.9L627.8 88.5L628.2 89L628.5 89.1L628.8 88.8L629 88.9L629.2 88.2L629.5 88.3L629.8 88.1L630 88L630.2 88.5L630.5 88.8L630.8 88.3L631.2 88.2L631.5 88.3L631.8 88.8L632 88.8L632.2 88.1L632.5 88.6L632.8 88.6L633.2 87.8L633.5 88.1L633.8 88L634 88.5L634.5 88.9L634.8 88.4L635.2 88.4L635.5 88.5L635.8 88.2L636.2 88L637 89L637.5 88.4L637.8 88.8L638 88.7L638.2 88.3L638.5 88.4L638.8 88.2L639.2 88.3L639.8 81.8L640 79.3L640.5 76L641 74.1L641.5 73L642 72.4L642.8 71.8L643.5 71.6L644.8 71.4L649.8 71.2L658.5 71L675.8 71" fill="none" stroke="#0faeea" stroke-width="1.5" stroke-linejoin="round"/>
<line x1="591" y1="115.9" x2="639.4" y2="115.9" stroke="#1c1a1b" stroke-width="2"/>
<text id="t8" x="600.98" y="132.10" font-size="14.7" fill="#1c1a1b" text-anchor="start" font-weight="normal" textLength="28.02" lengthAdjust="spacingAndGlyphs">10 s</text>
<rect x="408.9" y="169" width="29.4" height="16.6" fill="#bfc0c2"/>
<line x1="408" y1="177.1" x2="439" y2="177.1" stroke="#1c1a1b" stroke-width="2"/>
<line x1="408.5" y1="196.9" x2="438.7" y2="196.9" stroke="#0faeea" stroke-width="2"/>
<line x1="408.5" y1="202.8" x2="438.7" y2="202.8" stroke="#ec1c24" stroke-width="2"/>
<line x1="408.5" y1="208.8" x2="438.7" y2="208.8" stroke="#8b5a33" stroke-width="2"/>
<line x1="408.5" y1="214.9" x2="438.7" y2="214.9" stroke="#2b2e8c" stroke-width="2"/>
<line x1="408.5" y1="221" x2="438.7" y2="221" stroke="#f7941d" stroke-width="2"/>
<text id="t9" x="443.60" y="182.50" font-size="13.2" fill="#2b2b2b" text-anchor="start" font-weight="normal" textLength="78.80" lengthAdjust="spacingAndGlyphs">GLIC–<tspan font-family='"Liberation Serif", serif' font-size='15.2'>β</tspan>-GluCl</text>
<text id="t10" x="443.60" y="213.10" font-size="13.2" fill="#2b2b2b" text-anchor="start" font-weight="normal" textLength="171.80" lengthAdjust="spacingAndGlyphs">GLIC–<tspan font-family='"Liberation Serif", serif' font-size='15.2'>β</tspan>-GluCl loop-C deleted</text>
<path d="M7 311.9L25.5 311.9L25.5 295L34.1 295L34.1 311.9L337.8 311.9" fill="none" stroke="#1c1a1b" stroke-width="2" stroke-linejoin="round"/>
<text id="t11" x="19.00" y="287.10" font-size="14.7" fill="#2b2b2b" text-anchor="start" font-weight="normal" textLength="48.02" lengthAdjust="spacingAndGlyphs">Agonist</text>
<line x1="27.6" y1="321.9" x2="336" y2="321.9" stroke="#666" stroke-width="1.8" stroke-dasharray="6.2 4.55"/>
<path d="M12 322.2L18.6 322.2L19.2 322.4L19.8 322.8L20.6 323.6L21.2 324.9L22 327.6L23 332L23.8 337.1L25.2 347.6L26.6 361.1L31.4 432.3L32.6 446.9L33.6 457L34.4 462.5L35.4 467.8L36.2 471L37.4 474.8L38 476.3L38.6 477.2L39.6 477.4L40.8 477.6L43.6 477.4L44 477.2L44.6 476.6L45.6 475.2L47 473.5L48 472L54.4 461L60.4 451.4L65.2 444.3L70 437.6L75.8 430L81.8 422.8L88 415.8L94.4 409.3L100.8 403.2L107.2 397.6L113.8 392.3L120.6 387.2L127.6 382.4L135 377.8L142.4 373.6L150.2 369.5L158.6 365.5L167.2 361.9L176.2 358.4L185.4 355.2L195 352.1L205.2 349.3L215.6 346.7L226.6 344.2L238.2 341.9L250.2 339.8L262.8 337.9L276 336.1L290 334.5L304.6 333L320 331.6L336.4 330.4" fill="none" stroke="#f7941d" stroke-width="1.4" stroke-linejoin="round"/>
<path d="M12 322.2L18.6 322.2L19.2 322.4L19.8 322.8L20.6 323.6L21.2 324.9L22 327.6L23 332L23.8 337.1L25.2 347.6L26.6 361.1L31.4 432.3L32.6 446.9L33.6 457L34.2 461.3L35 466L35.6 468.9L36.2 471.2L37.4 474.1L38.4 476.1L39.2 477.1L39.6 477.4L40 477.5L40.4 477.3L40.8 476.9L42.2 474.7L44 471.1L45.8 468.4L46.6 467L50.4 459.4L55.6 449.9L60.4 441.7L65.2 434.1L70.4 426.4L75.8 419L81.2 412.2L86.8 405.7L93 399.1L99.2 393L105.8 387.2L112.6 381.7L119.6 376.6L127 371.7L134.6 367.2L142.4 363L150.4 359.2L158.8 355.7L167.6 352.4L176.8 349.3L186.4 346.5L196.4 344L207 341.6L218.2 339.5L229.8 337.6L242.2 335.8L255.4 334.2L269.4 332.8L284.4 331.5L300.4 330.4L317.6 329.4L336.4 328.5" fill="none" stroke="#8b5a33" stroke-width="1.4" stroke-linejoin="round"/>
<path d="M12 322.2L16.6 322.2L17 322.5L18 323.5L19.8 324.1L20.6 324.6L21 325.4L21.4 326.6L22.4 331L24 341.7L25 349.2L26 358.3L27 369.1L28 381.3L29 395.4L31 430L32 442.3L33 451.7L33.8 457.8L34.6 462.9L35.6 467.8L36.4 471L37.2 473.4L38.4 475.5L39.4 476.9L40 477.4L40.4 477.5L40.6 477.5L40.8 477.3L41.2 476.5L42.2 473.2L43.4 465.5L43.8 463.5L45 457.9L46.4 452.4L48.2 446.3L52.8 432.3L53.8 429.5L56.8 422.1L59 417.8L63.8 407.4L65.4 404.4L67.8 400.7L70 396.7L71.6 394.8L73 392.8L74.6 390.7L76.8 387L77.4 386.2L80.4 383L84.4 379.5L86.8 377L89.2 375L92.4 371.6L93.2 371L95.2 370L97.8 367.4L100.2 366.2L102.8 364L105.4 362.5L107.6 360.5L111.2 358L111.8 357.8L113.6 357.5L115.4 356.4L117.2 355.7L119.4 354.1L121.2 353.4L123 352.6L125.6 352L128 350.9L130 350.4L132 349.7L140 346.6L144.4 345.2L156.6 342L167.2 339.7L179.2 337.4L192.2 335.4L205.4 333.7L219.8 332.2L235.4 330.8L252.2 329.6L270.4 328.5L290.2 327.6L312.2 326.8L336.4 326.1" fill="none" stroke="#2b2e8c" stroke-width="1.4" stroke-linejoin="round"/>
<path d="M8 322.2L24.6 322.2L24.8 322.3L25.2 322.8L25.6 323.9L26 327.5L26.4 333.1L27.6 356.8L30.8 404.9L32.2 430L33.2 450L33.8 459.8L35 473.8L35.4 476.7L35.6 477.4L35.8 477.3L36 475.9L37.2 465L38.8 451.7L41.6 419.5L42.4 411.7L43.4 403.3L44.6 394.6L46 386.2L47.4 379.2L49 372.4L51 365.5L53 359.9L55.2 355L56.4 352.8L57.8 350.5L59.2 348.5L60.6 346.8L62.2 345L63.8 343.5L65.6 342L67.4 340.7L69.4 339.4L71.6 338.2L74.2 336.9L77 335.8L80 334.7L83.2 333.7L90.6 331.8L99.2 330.1L109 328.6L120 327.3L132 326.2L145.4 325.3L159.2 324.6L174.4 324L191.6 323.6L211.2 323.2L260.4 322.8L336.4 322.5" fill="none" stroke="#0faeea" stroke-width="1.4" stroke-linejoin="round"/>
<path d="M12 322.2L26.8 322.2L27.4 322.5L27.8 323L28 324.2L28.4 330L28.6 335.1L29.8 380.9L31.2 413.9L32 430L32.6 439L33.4 448.9L34.2 457.6L35 465L35.8 471.3L36.2 473.6L37 476.5L37.4 477.2L37.6 477.2L38 476.6L39 474L41.2 469.6L42.2 466.6L43.4 461.4L46.2 446.7L48.2 438L51.6 424.6L55.2 412.1L58.2 403L61.2 394.7L64.4 386.9L67.6 379.9L71.4 372.7L73.4 369.2L75.4 366L77.4 363.1L79.6 360L81.8 357.3L84.2 354.5L86.6 351.9L89 349.6L91.4 347.4L94 345.3L96.6 343.4L99.4 341.5L102.2 339.8L105.2 338.1L110.6 335.6L116.4 333.4L122.8 331.4L129.6 329.7L137 328.3L145 327.2L154 326.2L164.2 325.4L174.6 324.8L186.6 324.3L200.6 324L217.2 323.7L262.6 323.2L336.4 322.9" fill="none" stroke="#ec1c24" stroke-width="1.4" stroke-linejoin="round"/>
<path d="M16 322.2L16.8 322.2L17.4 323.6L18 324L18.8 324.2L21.2 324.4L21.4 324.5L21.8 325.3L22.6 328L23 329.8L24 335.5L25.2 341.6L25.8 345.8L26.4 353L29.6 401.7L30.8 425.6L31.8 450L32.4 460L33 467.1L33.6 472.4L34.2 475.4L34.6 476.9L35 477.7L35.2 477.7L35.4 477.6L35.8 477L36.4 475.6L37.6 472.4L38.6 468.9L40 462.8L42.6 449.3L44 442.7L47 430L50.2 418.2L56.2 399.4L61.6 386.1L64.8 379.6L66.8 375.8L68.6 372.9L70.2 370L74.2 364.2L75.2 362.8L81.2 355.7L85.8 351.1L86.4 350.6L89 349L90.6 347.4L92.2 346.6L94.4 344.3L96.6 342.7L97.4 342.3L98.6 341.7L101 340.9L102.8 339.6L104.6 338.8L107.8 337.9L109 337.3L110.2 336.8L112.4 335.8L114.4 335.2L116 334.7L119 334.2L121 333.1L121.6 332.9L123.8 332.7L126 331.8L128 331.4L131 331L133.2 330.4L136.6 330L138.4 329.6L140.4 329.4L142.2 329.1L145.2 328.8L148.6 328L150 327.9L153.6 327.6L155 327.6L156.6 327.4L158 327.4L160.2 327.2L161.6 327L163.2 327L165 326.7L170.4 326.3L172.8 326L175.2 326L182.2 325.7L188.8 325.2L192 325.2L198.2 324.8L201.2 324.9L205.4 324.6L217.2 324.2L225.6 324.1L236.6 323.8L268.6 323.3L336.4 322.7" fill="none" stroke="#1c1a1b" stroke-width="2.3" stroke-linejoin="round"/>
<line x1="286.8" y1="343.1" x2="332.7" y2="343.1" stroke="#1c1a1b" stroke-width="2"/>
<text id="t12" x="282.57" y="359.30" font-size="14.7" fill="#1c1a1b" text-anchor="start" font-weight="normal" textLength="52.82" lengthAdjust="spacingAndGlyphs">100 ms</text>
<text id="t13" x="165.40" y="387.90" font-size="12.0" fill="#2b2b2b" text-anchor="start" font-weight="normal" textLength="52.01" lengthAdjust="spacingAndGlyphs">Construct</text>
<line x1="165.6" y1="389.6" x2="218.6" y2="389.6" stroke="#2b2b2b" stroke-width="1"/>
<text id="t14" x="246.20" y="376.00" font-size="12.0" fill="#2b2b2b" text-anchor="start" font-weight="normal" textLength="50.20" lengthAdjust="spacingAndGlyphs">Averaged</text>
<line x1="245.5" y1="377.4" x2="297" y2="377.4" stroke="#2b2b2b" stroke-width="1"/>
<text id="t15" x="243.40" y="387.60" font-size="12.0" fill="#2b2b2b" text-anchor="start" font-weight="normal" textLength="56.00" lengthAdjust="spacingAndGlyphs">responses</text>
<line x1="243.5" y1="389.6" x2="299.3" y2="389.6" stroke="#2b2b2b" stroke-width="1"/>
<text id="t16" x="311.77" y="387.60" font-size="12.0" fill="#2b2b2b" text-anchor="start" font-weight="normal" textLength="23.86" lengthAdjust="spacingAndGlyphs">Cells</text>
<line x1="311" y1="389.6" x2="336.6" y2="389.6" stroke="#2b2b2b" stroke-width="1"/>
<text id="t17" x="157.00" y="408.10" font-size="12.0" fill="#2b2b2b" text-anchor="start" font-weight="normal" textLength="72.00" lengthAdjust="spacingAndGlyphs">GLIC–<tspan font-family='"Liberation Serif", serif' font-size='14.4'>β</tspan>-GluCl</text>
<text id="t18" x="271.20" y="408.10" font-size="12.0" fill="#2b2b2b" text-anchor="middle" font-weight="normal">98</text>
<text id="t19" x="323.40" y="408.10" font-size="12.0" fill="#2b2b2b" text-anchor="middle" font-weight="normal">9</text>
<text id="t20" x="169.99" y="425.70" font-size="12.0" fill="#27aae1" text-anchor="start" font-weight="normal" textLength="47.43" lengthAdjust="spacingAndGlyphs"><tspan font-family='"Liberation Serif", serif' font-size='14.4'>α</tspan>7 AChR</text>
<text id="t21" x="271.20" y="425.70" font-size="12.0" fill="#27aae1" text-anchor="middle" font-weight="normal">221</text>
<text id="t22" x="323.40" y="425.70" font-size="12.0" fill="#27aae1" text-anchor="middle" font-weight="normal">21</text>
<text id="t23" x="162.98" y="442.90" font-size="12.0" fill="#2e3192" text-anchor="start" font-weight="normal" textLength="61.82" lengthAdjust="spacingAndGlyphs"><tspan font-family='"Liberation Serif", serif' font-size='14.4'>α</tspan>3<tspan font-family='"Liberation Serif", serif' font-size='14.4'>β</tspan>4 AChR</text>
<text id="t24" x="271.20" y="442.90" font-size="12.0" fill="#2e3192" text-anchor="middle" font-weight="normal">94</text>
<text id="t25" x="323.40" y="442.90" font-size="12.0" fill="#2e3192" text-anchor="middle" font-weight="normal">12</text>
<text id="t26" x="155.79" y="459.90" font-size="12.0" fill="#ed1c24" text-anchor="start" font-weight="normal" textLength="73.61" lengthAdjust="spacingAndGlyphs"><tspan font-family='"Liberation Serif", serif' font-size='14.4'>α</tspan>1<tspan font-family='"Liberation Serif", serif' font-size='14.4'>β</tspan>1<tspan font-family='"Liberation Serif", serif' font-size='14.4'>δε</tspan> AChR</text>
<text id="t27" x="271.20" y="459.90" font-size="12.0" fill="#ed1c24" text-anchor="middle" font-weight="normal">95</text>
<text id="t28" x="323.40" y="459.90" font-size="12.0" fill="#ed1c24" text-anchor="middle" font-weight="normal">12</text>
<text id="t29" x="145.80" y="476.60" font-size="12.0" fill="#f7941d" text-anchor="start" font-weight="normal" textLength="93.81" lengthAdjust="spacingAndGlyphs"><tspan font-family='"Liberation Serif", serif' font-size='14.4'>α</tspan>1<tspan font-family='"Liberation Serif", serif' font-size='14.4'>β</tspan>2<tspan font-family='"Liberation Serif", serif' font-size='14.4'>γ</tspan>2L GABA<tspan font-size='7.5'>A</tspan>R</text>
<text id="t30" x="271.20" y="476.60" font-size="12.0" fill="#f7941d" text-anchor="middle" font-weight="normal">128</text>
<text id="t31" x="323.40" y="476.60" font-size="12.0" fill="#f7941d" text-anchor="middle" font-weight="normal">19</text>
<text id="t32" x="145.80" y="493.50" font-size="12.0" fill="#8b5e3c" text-anchor="start" font-weight="normal" textLength="92.80" lengthAdjust="spacingAndGlyphs"><tspan font-family='"Liberation Serif", serif' font-size='14.4'>α</tspan>1<tspan font-family='"Liberation Serif", serif' font-size='14.4'>β</tspan>3<tspan font-family='"Liberation Serif", serif' font-size='14.4'>γ</tspan>2L GABA<tspan font-size='7.5'>A</tspan>R</text>
<text id="t33" x="271.20" y="493.50" font-size="12.0" fill="#8b5e3c" text-anchor="middle" font-weight="normal">61</text>
<text id="t34" x="323.40" y="493.50" font-size="12.0" fill="#8b5e3c" text-anchor="middle" font-weight="normal">10</text>
<path d="M355.2 297.3L388.5 297.3L388.5 281L566.5 281L566.5 297.3L685 297.3" fill="none" stroke="#1c1a1b" stroke-width="2" stroke-linejoin="round"/>
<text id="t35" x="459.00" y="274.75" font-size="14.7" fill="#2b2b2b" text-anchor="start" font-weight="normal" textLength="41.40" lengthAdjust="spacingAndGlyphs">pH 4.5</text>
<text id="t36" x="602.00" y="293.40" font-size="14.7" fill="#2b2b2b" text-anchor="start" font-weight="normal" textLength="42.60" lengthAdjust="spacingAndGlyphs">pH 7.4</text>
<path d="M351.2 368.9L351.5 373L351.8 373.3L352.1 369.4L352.4 370.4L352.7 370.2L353 373.3L353.3 371.9L353.6 374.1L353.9 367.5L354.2 376.5L354.5 372.3L354.8 374.5L355.4 372.2L356 375.9L356.3 373.6L356.6 374L356.9 376.4L357.5 370.9L357.8 375.9L358.4 369.9L359 373.6L359.6 371.1L360.2 378.1L360.8 375L361.4 380.1L361.7 378.1L362.3 382.1L362.9 377.1L363.2 379.7L363.5 378.8L363.8 380.4L364.1 373.5L364.4 374.3L365 370.1L365.6 374.7L365.9 370.9L366.2 376L367.1 372.9L367.4 374.4L367.7 368.6L368 373.8L368.3 374L368.6 368.1L368.9 373.7L369.2 372.3L369.5 374.9L369.8 371.7L370.4 373.4L370.7 370L371 373.7L371.3 371.8L371.6 373.3L371.9 370.7L372.2 375.1L372.8 372.6L373.7 380L374 372L374.3 379.2L375.2 375.8L375.5 381.7L375.8 375L376.4 380.7L376.7 372.4L377 375L377.3 371.6L378.2 378.3L378.5 367.9L379.4 375.6L380 368.9L380.3 371.4L381.2 368.2L381.5 371L381.8 370.8L382.4 369.4L382.7 366.7L383.3 373L383.9 365.9L384.2 373.1L384.5 370.9L384.8 375.1L385.7 366.6L386.3 378.1L386.6 369.8L387.2 374.5L387.5 371.1L388.7 376.2L389 374.1L389.9 401.9L390.8 416.2L392 426L392.6 428.1L393.2 427L393.8 428.5L394.1 428L395 431.3L395.6 428.6L396.5 434.6L397.1 432.7L397.4 433.1L397.7 437.9L398 436.3L398.6 439.2L398.9 434.8L399.2 436.9L400.1 437.6L400.7 437L401 434.4L401.3 436.5L401.6 435.6L401.9 437.1L402.2 436.3L402.8 438.8L403.1 438.3L403.7 438.5L404 438L404.3 438.7L404.6 438.5L404.9 440.1L405.2 439.8L405.5 441L405.8 438.2L406.1 442L406.4 439.7L407 441.2L407.3 440.9L407.6 442.5L408.2 440.9L408.8 445.1L409.4 441.5L409.7 443.6L410 441.2L410.3 446.7L410.6 441.5L410.9 444.9L411.2 445.1L411.5 442.1L412.1 446.4L412.7 445.8L413 447.2L413.3 446.3L413.6 446.9L413.9 446.5L414.2 448.1L414.5 445.9L414.8 448.9L415.4 446.4L416 451.2L416.6 447.8L416.9 449.8L417.2 448.1L417.8 449.1L418.1 445.4L418.4 449.5L418.7 447.8L419 448.5L419.3 447.4L419.6 447.6L420.5 453.2L420.8 450.6L421.1 452.6L421.7 448L422.3 452.1L422.6 450.8L423.2 452.9L423.8 450.2L424.1 452.5L424.7 452.9L425.3 456.7L425.6 453.5L425.9 455.4L426.8 456.5L427.1 454.3L427.7 458.5L428.3 454.6L428.9 458.1L429.5 455.6L429.8 459.2L430.1 455L430.4 458L431 455.6L431.3 459.6L431.9 456L432.2 458.9L432.8 455.2L433.7 460L434.3 459.6L434.6 460.6L434.9 459.7L435.2 462L435.5 460.4L436.1 461L436.4 458.3L437 462.2L437.6 459.1L437.9 460.1L438.2 458.8L438.5 460.2L438.8 458.9L439.1 460.6L439.4 457.9L439.7 462.8L440.3 458.6L440.6 461L440.9 460.9L441.2 461.9L441.5 460L442.1 467.8L442.4 460.1L442.7 462.8L443 461.8L443.3 462.7L443.6 459.6L444.2 463.4L444.5 462.7L444.8 465.4L445.1 461.7L445.7 467.6L446 461.8L446.3 461.6L447.2 465L447.8 463L448.4 469.2L449 461.2L449.3 465.7L449.6 464.9L449.9 467.5L450.2 466.5L450.5 470.1L450.8 468.6L451.1 468.6L451.7 467.2L452.3 469.2L452.9 466.4L453.2 469L454.1 465.7L454.7 466.2L455 462.9L455.3 469.1L455.9 467.5L456.2 469.7L456.5 468.9L456.8 468.9L457.1 464.4L457.4 468.1L458.3 471.6L459.2 465.3L459.5 469.8L459.8 469L460.1 470.6L460.4 469L460.7 469.6L461 466.9L461.3 470.1L461.6 468.8L461.9 470.1L462.2 470.3L462.5 469.4L462.8 470.2L463.1 469.7L463.4 471L464 469.1L464.3 469.1L464.6 472.9L464.9 470.1L465.2 471.9L466.1 469.4L467 471.7L467.3 468.7L468.2 473.1L468.5 466.7L468.8 471.1L469.1 469.5L469.4 471L469.7 469.6L470.3 473.1L470.6 471.3L471.2 471.8L471.5 470.2L471.8 472.5L472.4 470.8L473.3 473.7L473.9 471.7L474.2 474.9L474.5 474.2L474.8 474.6L475.7 471.9L476.3 474.4L476.9 470.9L477.2 473.4L477.5 471.4L477.8 474.1L478.1 472.1L478.4 472.2L478.7 474.5L479.3 471.7L479.9 477.6L480.2 471.6L480.5 476.7L480.8 472.5L481.4 472.9L481.7 470.6L482 474.8L482.6 471.2L482.9 471.8L483.2 469.7L483.8 473.6L484.1 469.5L485 474.4L485.3 475.1L485.6 472.4L485.9 472.3L486.2 474.4L486.5 473.4L486.8 473.7L487.4 477.3L488 474.6L488.3 475.9L488.6 472L488.9 475.1L489.2 473.4L489.5 478.8L489.8 476.1L490.4 474.5L490.7 470.7L491.3 477.1L491.6 473.3L491.9 475.5L492.2 475.6L492.5 472L493.1 476.8L493.7 474.8L494 476.4L494.3 472.8L494.9 477.3L495.2 473.7L495.5 477.4L496.1 472.6L496.4 475.7L496.7 474.4L497 476.5L497.3 474.1L497.6 477.7L497.9 474.8L498.2 476.6L498.5 475.1L498.8 475.5L499.1 477.9L500 474L500.3 477.8L500.9 475.6L501.2 476.5L501.5 474.6L502.1 475.2L502.4 477.3L502.7 477.3L503 475.8L503.3 478.4L503.6 478.6L503.9 477.8L504.2 479.3L504.5 477.4L505.1 479L505.4 478.3L505.7 479.8L506 476.6L506.3 481L506.6 477.5L506.9 478.5L507.2 476.5L507.8 480.5L508.4 479.6L508.7 475.7L509.3 477.4L509.6 476.6L509.9 479.8L510.2 478.3L510.5 477.9L510.8 478.7L511.1 476.4L511.7 476.4L512 478.5L512.3 478.2L512.9 479.2L513.2 475.3L513.8 477.8L514.1 475.4L515 479.6L515.3 479.7L515.9 477.8L516.2 480L516.5 477.8L517.1 480.7L517.7 477.7L518.3 479.8L518.9 479L519.2 479.6L519.5 476.1L520.1 478.8L520.7 476.1L521.3 476.6L521.6 477.6L521.9 476.2L522.5 480.4L522.8 477.4L523.1 479.6L523.7 475.8L524 477.2L524.3 476.1L524.6 479L524.9 476.1L525.2 480.2L525.8 475.2L526.4 481.2L526.7 477.6L527 480.5L527.3 476.1L527.6 479.4L527.9 476.3L528.2 479.7L528.8 474.6L529.4 482.4L529.7 477.8L530 480.2L530.6 478.5L531.2 482L531.5 477.6L531.8 480.7L532.1 480.5L532.4 477.9L533 483.7L533.3 479.2L533.6 483.6L534.2 480.6L534.5 483.3L534.8 481.1L535.1 481.2L535.4 483L536 481.7L536.6 477.6L536.9 481.9L537.2 478.6L537.5 480.4L537.8 478.5L538.1 480L538.4 478.3L538.7 483L539 478.8L539.3 480.2L539.6 480.1L539.9 482.2L540.2 478L540.5 480.1L540.8 479.7L541.1 480.8L541.7 479.2L542 480.3L542.3 479.3L542.6 480.7L543.2 478.9L543.8 480.6L544.1 483.6L544.4 479.2L545 482.3L545.3 476.6L546.2 479.7L546.5 483.8L546.8 480.5L547.1 481.8L547.7 475.9L548 476.1L548.3 481.4L548.9 477.6L549.2 481.5L549.5 477.2L550.1 482.1L550.7 478.2L551 481.5L551.3 478.5L551.6 481.8L551.9 478.7L552.2 482L553.1 479.6L553.4 481.5L553.7 478.1L554 480.7L554.3 480.4L554.6 482.1L554.9 479L555.2 483.7L555.8 479.1L556.4 483.7L557 479.7L557.3 481.2L557.6 480.2L557.9 480.9L558.2 484L558.8 481.8L559.1 482.2L559.4 481.5L559.7 483L560 483L560.3 480.9L560.9 485.2L561.5 480.9L561.8 484.4L562.4 479.2L562.7 481.9L564.8 454.5L565.1 454.9L565.7 448.3L566 450.9L566.3 445.5L566.6 447.7L566.9 446.5L567.5 440.6L567.8 443L568.4 442.6L568.7 440.7L569 442L569.3 441.8L569.6 437.4L569.9 440.8L570.5 436.6L570.8 436.4L571.1 439.3L571.7 432.2L572 434.6L573.2 430L573.5 433.2L573.8 429.9L574.1 430.4L574.7 429L575 431.1L575.9 427.6L576.5 430.3L577.4 427.8L578 428.4L578.3 425L578.6 430.3L578.9 426.3L579.2 426.4L579.5 429.3L580.7 423.8L581.3 427.7L581.6 424.1L581.9 427.5L582.2 423.2L582.8 425L583.1 423.8L583.4 424.5L584.3 419.2L584.6 420L585.2 419L585.5 421.6L586.1 417.6L586.4 424.6L586.7 419.2L587 418.3L587.3 422.2L587.6 421.8L588.2 417.1L588.8 420.7L589.4 416.9L590 419.6L590.3 415.2L590.6 416.5L590.9 414.7L591.2 420.1L592.1 415.6L592.4 416.5L592.7 411.8L593 415.3L593.3 412.4L593.6 412.1L594.5 414.4L594.8 414.4L595.4 411.3L595.7 413.6L596 412.1L596.3 413.8L596.9 406.8L597.5 413.9L598.1 409.5L598.4 411L599 410.1L599.3 408.4L599.9 409.3L600.5 406.9L601.1 409.9L602 408.8L602.3 412L602.6 408.3L603.2 410.9L603.5 407.9L604.4 410.4L605.6 405.3L605.9 408.8L606.5 404L606.8 406.4L607.1 403.7L607.7 406.2L608 404.6L608.3 407.6L608.6 403.4L608.9 406L609.5 407.6L610.7 404.3L611 406L611.3 402.8L611.6 404.4L612.5 402.2L612.8 405.8L613.1 401.1L613.4 402.3L614 402.4L614.6 401.7L614.9 402.3L615.2 398.1L615.5 400.4L615.8 398.2L616.1 400.4L616.4 398L617.3 401.8L617.9 399.9L618.2 401.6L618.8 395.9L620 402.5L620.3 396.9L620.6 402.9L621.5 399.2L621.8 402.3L622.1 398.4L622.4 397.3L622.7 398L623 395.3L623.3 398L623.6 396.9L623.9 397.4L624.2 397.2L624.5 394.8L624.8 398.6L625.1 394.8L625.4 397.8L625.7 393.8L626 397L626.3 395.1L626.6 396.4L627.2 392.7L628.1 396.7L628.7 391.9L629.3 394.5L629.9 393.1L630.2 395.6L630.8 395L631.1 392.2L631.4 393.6L631.7 393L632 390.9L632.3 394.5L632.9 392.2L633.2 395.2L633.5 394.2L634.1 394.9L634.4 394.1L634.7 390.8L635.3 394.3L635.6 391.3L636.5 394.5L637.4 391.4L637.7 393.1L638.3 391.1L638.6 393.4L639.2 389.9L639.5 393.1L639.8 390.6L640.1 391.9L640.4 388.5L640.7 390.9L641.6 387.9L641.9 394.4L642.2 390.7L642.8 392.5L643.1 390.4L643.4 391.3L643.7 388.2L644 390.5L644.3 389.4L644.6 390.7L645.5 386.6L646.1 390.5L646.7 389.8L647.3 384.7L647.6 387.9L647.9 388.3L648.2 387.8L648.5 389.3L649.1 386.6L649.7 388.6L650.3 388.2L650.6 391.9L650.9 387.8L651.2 388.4L651.5 386.6L652.1 389L652.4 389L652.7 387.8L653 388.6L653.3 388L653.9 382.4L654.2 391.3L655.1 384.7L655.7 389.8L656 383.3L656.6 389.4L656.9 388.4L657.2 389.5L657.5 388.2L657.8 392.4L658.4 386.4L659 390.7L659.3 388.2L659.6 389.9L660.2 386L660.5 389.9L660.8 389.9L661.7 384.9L662 384.6L662.6 387L663.2 383.4L663.5 385.9L664.7 385.2L665 386.5L665.3 385.9L665.6 386.1L665.9 384.7L666.2 386.5L666.8 382.6L667.1 386.8L667.4 385.7L667.7 387.6L668 386L668.6 386.7L669.2 385.7L669.5 383.5L669.8 389.3L670.1 383.8L670.7 387.2L671 386.6L671.9 387.8L672.2 386.2L672.5 390.3L672.8 384L673.1 386L673.7 384.7L674.3 387.8L674.6 384.3L674.9 384.2L675.8 388.3L676.7 384.4L677 385.2L677.3 384.4L677.6 382.4L677.9 384.5L678.8 383.5L679.1 386.8L679.4 385.2L679.7 385.6L680 383.2" fill="none" stroke="#f7941d" stroke-width="1.1" stroke-linejoin="round"/>
<path d="M351.2 381L351.5 381.1L351.8 379.8L352.1 375L352.4 382.5L352.7 371.1L353 380.8L353.3 375.4L353.6 375.8L353.9 374.3L354.2 374.1L354.5 374.5L355.1 371.1L355.4 376L355.7 372.2L356 377.2L356.6 371.9L357.2 376L357.5 371.2L358.1 377L358.4 370.5L359 373.3L359.6 366.4L360.5 375.1L361.1 375.2L361.4 371.3L361.7 376.6L362 378.2L362.3 373.6L362.6 378.1L362.9 374.9L363.5 377.2L363.8 372.6L364.1 380.6L364.4 374.9L364.7 377.2L365 376.5L365.3 379.3L365.6 379.5L365.9 378.7L366.2 382.4L367.1 371L367.4 377.5L368.3 374.5L368.6 377.7L369.2 379.6L369.8 371.4L370.1 373.2L370.4 368.4L370.7 373.3L371.3 369.1L371.6 370.1L372.2 368.4L372.8 378.2L373.1 372.3L373.4 373.1L374 370L374.3 376.9L374.6 370.5L374.9 372.8L375.2 371.6L375.5 373.6L375.8 372L376.1 373.7L376.4 368.8L377 375.7L377.3 369.4L377.9 375.7L378.2 373.3L378.5 375.1L378.8 366.6L379.1 372.9L379.4 369.3L379.7 369.2L380.3 376.3L380.6 369.6L381.5 374.3L381.8 371.6L382.1 381.4L382.7 375.4L383 375.4L383.3 383.1L383.6 383.2L383.9 376.3L384.5 381L384.8 374.6L385.4 380.7L385.7 374.9L386 375.1L386.3 372.1L386.9 376.2L387.5 369.7L388.1 376.7L388.7 370L390.2 396.6L390.8 402.8L391.1 401.4L391.4 406.6L392 404.7L392.3 410.1L392.6 408L393.5 412.1L394.1 413.1L394.4 412.8L394.7 409.7L395 409.9L395.3 413L395.6 411.5L395.9 413.8L396.2 413.5L396.5 411.2L397.4 412.3L398.3 416L398.6 412.6L399.2 416.9L399.8 415.5L400.1 412L400.7 416.6L401 415.8L401.3 420.1L401.6 417.5L401.9 418.1L402.2 416.2L403.1 417.1L403.7 418.7L404 418.4L404.3 419.6L404.6 416.1L405.5 420.7L405.8 418.1L406.1 419L406.4 417.4L406.7 419.4L407 419.5L407.3 418.1L408.2 420.6L408.5 418.2L408.8 421.4L409.1 419.7L409.4 423.3L410.3 419.8L410.6 424.6L410.9 422L411.2 422L411.5 420.7L412.1 423.1L412.4 423.1L412.7 421.2L413 424.6L413.6 421.8L413.9 425L414.2 423.4L414.5 425L414.8 423.1L415.1 424.6L415.4 421.8L415.7 424.9L416 422.1L416.3 424.8L416.6 420.8L417.2 425.9L417.5 425.6L417.8 426.8L418.1 423.5L418.4 427.6L418.7 427.7L419 423.6L420.2 426L420.5 422.1L420.8 426.7L421.4 424.4L421.7 427.4L422 425.6L422.3 427.9L422.9 426L423.2 428.4L424.1 424.7L424.7 428.3L425 427.2L425.3 430.3L425.6 428.1L426.2 428.5L426.5 426.7L426.8 427.9L427.1 427.2L427.4 424.7L428 429.6L428.3 427.9L428.6 428.5L428.9 426.5L429.5 430L430.1 428.1L430.4 431.2L431 428.3L431.3 430.6L431.6 426.2L431.9 429.6L432.2 427.1L432.8 427.8L433.1 429.1L434 429.7L434.6 432.4L434.9 431.2L435.2 431.5L435.8 429.2L436.1 432L436.4 431.2L436.7 432.6L437 428.5L437.3 435.3L437.6 429.3L438.2 432.7L438.5 429.2L438.8 430.5L439.1 428.4L439.4 429.4L439.7 428.8L440 432.2L440.3 432.7L440.6 432.1L441.2 435.2L441.5 433.4L442.4 433.3L442.7 436.1L443.3 433.9L443.9 435.4L444.2 434L444.5 435.2L444.8 434.7L445.1 436.9L445.4 436.6L445.7 432.8L446.3 436L446.6 434.2L446.9 436.1L447.2 435.4L447.5 435.7L447.8 434.7L448.4 435.5L448.7 432.5L449 433.3L449.3 433.2L449.6 437.3L449.9 435.2L450.5 435.1L451.1 433.8L451.4 436.2L451.7 434.3L452 437.2L452.3 435.1L452.9 434.3L453.5 434.6L454.1 437.9L454.4 432.6L455 435.4L455.3 433L455.9 433.7L456.2 430.9L456.5 435.6L456.8 434.7L457.7 435.7L458 439L458.3 436L458.6 437.3L458.9 435.5L459.2 437.1L459.5 436.4L459.8 436.8L460.1 435.9L461 438.7L461.6 436.6L461.9 438.1L462.2 433.8L462.5 439.1L462.8 437.7L463.4 439.5L463.7 437.2L464 439.3L464.3 437.2L464.6 438.7L464.9 437.3L465.5 440.1L465.8 437L466.1 437.1L466.7 438.6L467 442.3L467.6 435.2L467.9 437.3L468.2 435.9L468.8 438.4L469.1 437L469.4 437.4L469.7 435.7L470 438.8L470.3 437.4L470.6 440.1L470.9 440L471.2 437L472.1 439.1L472.4 435.4L473 440.6L473.3 437.7L473.6 438.2L473.9 438L474.2 436.4L474.5 439.8L474.8 438.9L475.1 439L475.7 440.4L476 436.5L476.3 440.2L476.6 438.7L476.9 439.9L477.5 438.4L477.8 441.1L478.4 439.2L479 439.6L479.3 439.4L479.6 435.8L480.8 441.6L481.1 438.2L481.4 442.7L481.7 440L482 440.8L482.3 439.4L482.6 439.5L482.9 442.7L483.2 440.3L484.1 443.5L484.4 438.7L485.6 444.6L485.9 440.9L486.8 442.7L487.1 440.6L487.4 442.4L488 437.2L488.9 442.5L489.2 437.9L489.8 441.2L490.1 436.1L490.7 442.5L491 436.4L491.3 441.9L491.6 440.4L491.9 442.8L492.5 440.2L493.1 442L493.7 440.7L494 438.5L494.9 443.6L495.2 440.9L495.8 440.2L496.1 442.3L496.7 440.5L497.3 444.5L497.6 441.3L497.9 440.6L498.2 443.9L498.5 441.1L498.8 446.7L499.1 442.4L499.4 444.1L499.7 440.8L500.3 444.6L500.9 442.3L501.2 446.9L502.1 442.4L502.7 445.3L503 442.1L503.3 443.2L503.6 441.8L503.9 444.8L504.2 442.4L504.5 443.8L505.1 441.1L505.7 443L506 439.7L506.6 446.6L506.9 440.7L507.2 442.1L507.5 439.2L507.8 441.9L508.1 440.4L508.4 442.5L509 439.8L509.3 443.3L509.9 440.2L510.2 441.8L510.5 440.2L510.8 442.3L511.4 441L511.7 442.5L512 439.6L512.3 442.9L512.6 438.4L512.9 443.9L513.2 441.8L513.8 440.7L514.1 442.8L514.4 442L514.7 442.1L515 444.2L515.3 442.2L516.2 445.1L516.5 443.3L516.8 443.9L517.1 443.8L517.7 446L518 442.4L519.2 445.9L519.5 443.5L520.1 445L520.4 441.3L521.6 443L521.9 441.7L522.2 445.1L522.5 441.3L523.1 444L523.7 442.3L524.3 443.5L524.6 442.2L524.9 443.1L525.2 440.7L525.5 442.2L525.8 439.6L526.1 440.8L526.4 440.5L526.7 444.3L527 441.8L527.3 443.1L527.6 441.5L527.9 442.7L528.2 442.8L528.5 442.1L528.8 444.8L529.1 441.1L529.7 447.8L530 442.6L530.3 444L530.6 441.6L530.9 444L531.2 441.5L531.5 445.2L532.1 441.7L532.4 442.7L532.7 442.3L533.3 446.2L533.9 443.2L534.5 445.2L534.8 441.3L535.1 445.9L535.4 445.6L535.7 441.3L536 446.9L536.3 442.6L536.9 446.9L537.5 442.1L538.4 444.2L538.7 443.5L539.3 443.2L539.6 443.5L539.9 442.4L540.2 444.2L540.8 442.1L541.1 446.5L541.4 441.9L541.7 445L542 442.9L542.3 444.7L543.2 446.6L543.5 443.2L543.8 448.9L544.7 442.4L545 447.9L545.6 444.1L546.2 445.9L546.8 443L547.4 444.9L548 441.9L548.3 445L548.6 441.3L549.2 446L549.5 444.6L550.1 444.5L550.4 446L551 441.5L551.3 444.8L551.6 439.8L552.2 446.9L552.8 443.8L553.7 446.1L554 443.4L554.3 443.3L554.9 444.8L555.2 445L555.5 443.9L555.8 445.6L556.1 442.8L556.4 444.1L557 442.5L557.3 445.8L557.9 442.2L558.2 443.8L558.5 442.2L558.8 444.7L559.4 445.5L559.7 442.4L560.3 447.1L560.6 444L561.2 446.8L561.5 442.3L561.8 446.3L562.1 445.5L562.4 445.6L562.7 446.8L564.5 426.3L564.8 430.3L565.1 425.3L565.4 425.6L566.6 421.1L566.9 417.7L567.5 420.8L568.1 416.4L568.4 420.8L568.7 419L569 419.2L569.3 416.5L569.9 417.1L570.2 416.5L570.8 412.9L571.1 413.7L571.4 412.2L571.7 416.7L572 413.4L572.6 413.9L572.9 413.2L573.2 413.7L573.8 410.1L574.1 414.9L574.4 410.9L574.7 411.1L575 410.4L575.3 410.5L575.9 412L576.2 409L576.5 410.8L576.8 409L577.1 411.5L577.4 407.5L578 409.8L578.3 406.3L578.6 408.2L579.2 406.3L579.8 408.6L580.4 406.3L581.3 408.7L581.9 407.7L582.2 408.9L582.5 404L582.8 404L583.1 402.5L583.4 407L583.7 402.1L584.3 406.3L584.6 402.9L585.5 405.6L585.8 402L586.4 404.9L587 403.7L587.3 405.1L587.6 403.3L588.2 402L588.5 403.4L588.8 401.8L589.1 403L589.4 402L589.7 403.4L590 400.4L590.3 401.5L590.9 401.6L591.2 402.5L591.5 401.2L592.1 403.3L593 397.9L593.3 401L593.6 399.4L593.9 400.4L594.2 399.7L594.5 401.9L594.8 401.7L595.1 398.2L595.4 400.3L596 397.6L596.3 400.4L596.6 399L596.9 399.7L597.2 402.5L598.4 396L598.7 399.4L599 396.9L599.3 397.2L599.6 396.4L600.2 400.2L600.5 396L601.4 396.4L602 393L602.6 395.3L603.2 394.1L604.1 395.6L604.4 393.4L605 396.5L605.6 393.8L606.5 396.4L606.8 392.6L607.1 395.8L607.4 393.8L608 395L608.3 392.5L608.6 392.4L609.2 394.5L609.8 391.2L610.7 395.1L611 392.6L611.9 393.2L612.2 391.9L612.8 393.4L613.4 392.9L613.7 391.2L614 391.8L614.3 391.4L614.9 394.4L615.2 392.7L615.5 394.4L615.8 391.5L616.1 391.4L616.4 389.8L616.7 392L617 390.9L617.6 392.1L618.2 389.6L618.5 391.2L619.1 391.2L619.4 392.2L620 390.7L620.3 393.6L621.2 389.4L622.1 391.6L622.4 393.8L622.7 389.6L623 390L623.3 389.1L623.6 389.5L624.2 387.4L624.5 390.3L624.8 388.7L625.1 390.3L625.4 387.5L626 389L626.3 385.1L626.9 388.8L627.5 384.9L627.8 386.4L628.1 385.9L628.4 386.7L628.7 389.7L629 386.6L629.3 390.4L629.9 386.3L630.2 389.7L630.5 388.7L631.1 390.1L631.4 388.7L631.7 388.9L632 384.5L632.6 387.6L632.9 387.3L633.2 388L633.5 386.2L634.1 389.9L634.4 387.8L634.7 388.1L635 387.6L635.3 388.2L635.9 386L636.2 387L636.5 386.9L636.8 384.5L637.1 387.2L637.4 386.9L637.7 387.2L638 386.1L638.6 387.7L638.9 385.6L639.5 387.3L640.1 384.2L640.4 383.8L640.7 385L641 383.2L641.3 388.3L641.6 383.2L641.9 383.1L642.2 385.2L642.8 380.6L643.1 383.9L643.4 382.7L643.7 383.4L644 381.9L644.6 384.3L644.9 384.6L645.2 383.2L645.5 384L645.8 383.9L646.1 385.5L646.7 383.6L647 386.4L647.3 384.4L647.6 386L647.9 384L648.2 385.7L648.5 384.9L649.1 385.5L650 384.4L650.3 382.2L650.6 383.9L650.9 380.7L651.2 380.6L652.1 386.2L652.4 385L652.7 385.7L653 383.6L653.6 385.6L655.4 381L655.7 383.6L656.3 381.7L656.6 383L656.9 381.5L657.5 384.9L658.4 379.7L658.7 384.9L659.3 380.2L659.6 383.6L659.9 379.7L660.5 381.9L661.1 380.6L661.4 385.8L661.7 381.6L662 382.7L662.3 382.1L662.6 379.5L663.5 383L663.8 381L664.1 381.9L664.4 380.8L664.7 382.1L665 377.4L665.3 381.8L665.6 379.9L665.9 379.8L666.2 376.3L667.1 383.8L667.4 379.3L667.7 379.3L668 381.1L668.6 379.8L668.9 380.7L669.2 380.6L670.1 384.5L671 382.5L671.3 383.7L671.6 380.9L671.9 385.5L672.2 382.7L672.5 384.2L672.8 380.8L673.1 383.4L674.3 379.8L674.6 383.7L676.1 377.9L676.4 377.8L677 380L677.3 378.4L677.6 381.2L678.2 379.8L678.5 376.8L678.8 378.9L679.1 378.9L679.7 375.2L680 381.1" fill="none" stroke="#0faeea" stroke-width="1.1" stroke-linejoin="round"/>
<path d="M351.2 373.5L351.5 375.3L351.8 375L352.1 371L352.4 376.5L352.7 376.4L353.3 370.8L353.6 369.9L353.9 373.5L354.5 369.4L354.8 375.2L355.1 375.3L355.4 374.9L355.7 377L356 376.5L356.3 371.8L356.6 378.5L356.9 376.6L357.5 381.8L357.8 379.6L358.1 383.2L358.7 379.4L359 379.1L359.3 381.1L359.6 377.6L359.9 382.2L360.2 382.4L360.8 377.2L361.1 377.4L361.4 384.7L361.7 380L362 385.6L362.3 379.6L362.6 381.6L362.9 376.1L364.1 381.1L364.7 372L365 375.5L365.6 373.3L366.2 378.7L366.5 373.2L367.1 377.5L367.4 370.8L367.7 378L368.3 373.8L368.6 377.4L368.9 373.6L369.2 376.1L369.8 371.2L370.1 374.4L371 371L371.3 372L371.6 370.7L371.9 376.7L372.2 368.5L372.5 373.6L373.1 370L373.4 375.3L373.7 371.5L374 377L374.3 373.7L374.6 375.4L374.9 374.6L375.5 378L375.8 374.6L376.4 380.6L376.7 374.5L377 380.7L377.3 374.9L377.9 371.3L378.2 373.4L378.5 371L379.1 377.3L379.7 374.1L380 373.1L380.3 374.1L380.6 372.3L380.9 372.9L381.2 381.3L381.8 373.7L382.4 379.4L382.7 373.4L383 374.3L383.6 369.1L384.2 380.8L384.8 366.5L385.1 374L385.7 371.1L386 373.7L386.3 369.2L386.9 373.2L387.2 371.1L387.5 374L387.8 373.1L388.1 375.8L388.4 375.9L388.7 371L390.2 390L390.5 390L390.8 391.3L391.1 394.8L391.4 394.9L391.7 394.2L392 392L392.3 396.6L392.6 395.6L392.9 395.8L393.2 397.8L393.5 396L394.1 398.8L394.7 396.9L395 400.2L395.3 399.9L395.6 401.3L395.9 398.6L396.5 400.6L396.8 399.9L398 399L398.6 400.8L399.2 398.3L399.8 403L400.1 402.6L400.4 397.6L401 402L401.3 401.1L401.9 401.2L402.2 401.6L402.5 400.2L402.8 403.7L403.1 400.6L403.7 404.7L404.3 402.5L404.6 402.5L404.9 401.7L405.5 402.4L405.8 404.9L406.1 402.4L406.4 404.1L407 404.3L407.3 403.4L407.6 405.1L408.5 403.6L408.8 401.1L409.1 405.4L409.4 405.5L409.7 403.6L410.3 404.7L410.6 402.8L410.9 405.3L411.8 405.6L412.1 401.4L412.4 405.1L412.7 403.6L413 406L413.6 405.7L413.9 404.5L414.2 408.9L414.5 404.8L414.8 403.4L415.1 406.6L415.4 403.1L415.7 408.2L416 407L416.3 407.5L416.6 407L417.2 403.4L417.8 406.1L418.1 405L418.4 405.8L418.7 404.3L419 404.3L419.6 407L420.5 404.3L420.8 410.2L421.1 405.9L421.7 407.3L422 410L422.3 407.9L422.6 410.1L423.2 407.9L423.5 409.9L423.8 407.8L424.4 410.7L425 408.2L425.9 410.2L426.2 406.3L426.8 410.6L427.1 409.7L427.7 410.3L428.3 409.5L428.9 411.3L429.5 410.5L429.8 408.9L430.1 410.8L430.4 408.7L431.6 411.7L432.5 409.3L432.8 409.8L433.1 409.5L433.4 412.4L434 409.1L434.3 409L434.6 412.3L434.9 409.3L435.8 412.6L436.1 409.7L436.4 411.7L436.7 411.2L437.3 412.7L437.9 410.2L438.2 411.8L438.5 408.4L438.8 410.8L439.1 409.1L440 408.5L440.3 412.3L440.6 412.5L440.9 411.4L441.2 412.8L442.1 409.8L442.4 412.5L443 413.4L443.3 410.5L443.6 411.4L443.9 410.1L444.2 414L445.7 412.9L446 415.2L446.3 412.7L446.6 415L447.5 411.6L448.1 413.7L448.4 411.8L449 415.6L449.9 410.6L450.5 416.5L450.8 413.7L451.1 415.1L451.7 413.4L452 415.8L452.3 413.6L452.9 417L453.2 414.3L453.5 417.3L453.8 412.6L454.1 416L454.4 414.6L454.7 418.5L455.3 413.5L455.6 417.2L455.9 412.5L456.2 415.5L456.5 413.7L456.8 416.9L457.1 414.7L457.4 416.1L458.3 411.6L458.6 417.4L459.2 413L459.8 416.1L460.1 412.4L460.4 418L460.7 414.2L461 414.1L461.3 416.5L461.9 413.2L462.2 416.2L462.5 415.6L462.8 416.7L463.1 413.9L463.4 413.8L463.7 416.6L464.3 412.9L464.9 417.4L465.2 415.5L465.5 418.7L465.8 416.1L466.1 416.8L466.4 414.5L467.3 417.7L467.6 417.1L467.9 418.3L468.2 413.4L468.5 416.7L469.1 415.1L469.4 416.7L469.7 415.7L470 417.7L470.3 416.7L470.6 418.1L470.9 416.2L471.2 419.6L471.5 418.5L471.8 420.7L472.4 417.4L472.7 418.3L473.3 416.5L473.6 417.9L474.2 416.6L474.5 416.9L474.8 415.9L475.1 417.4L475.4 415.1L475.7 419.6L476 417L476.3 418.4L476.6 415.2L476.9 417.6L477.2 417L477.5 418.7L477.8 418.7L478.1 415.1L478.4 419.4L478.7 415.6L479 419.9L479.6 416.3L479.9 419.2L480.5 416.6L481.1 418.8L481.4 416L482 420.8L482.3 416.9L482.6 418.6L483.2 419.6L483.5 419.5L483.8 414.4L484.4 420L484.7 417.1L485 421L485.6 416.3L486.2 421.1L486.5 417.1L486.8 418.9L487.1 416.7L488 418.8L488.6 418.4L488.9 421.7L489.5 415.3L489.8 419L490.4 416.1L490.7 420.9L491.3 416.3L492.2 422.4L492.5 416.7L493.1 418.9L493.4 418.8L493.7 419.5L494.3 417.5L494.9 421L495.2 421.1L495.5 418.9L495.8 420.6L496.4 418.8L496.7 419L497.3 423.6L497.9 417.9L498.2 419.1L498.5 418.5L498.8 421.1L499.1 416.2L499.7 420.9L500.3 419.7L500.6 420.8L500.9 417.7L501.2 420.2L501.8 417.7L502.1 420.4L502.4 418.5L503 420.8L503.3 418.4L503.9 423.6L504.2 419.9L504.5 421.8L504.8 421.5L505.1 418.4L505.4 418.3L505.7 420.3L506 416.9L506.3 420.1L507.2 420.5L507.5 421.7L507.8 419.2L508.1 421.7L509 419.7L509.3 421.5L509.6 419L510.2 422.2L510.8 419.3L512.3 424.3L513.5 419.9L513.8 423L514.4 421.2L515 421.3L515.3 417.4L515.6 421.1L515.9 421.6L516.5 419.1L517.4 423.1L518.6 418.2L518.9 419.6L519.2 418.3L519.8 422.3L520.4 422.3L520.7 421.2L521 422.8L521.6 418.6L521.9 421.9L522.2 421.8L522.5 419.1L522.8 421L523.1 418L523.7 423.5L524 420.6L524.3 423.5L525.2 418.9L525.5 422.7L525.8 422.7L526.1 419.5L526.7 423.5L527 420.7L527.3 422.4L527.6 418.8L528.2 422.7L528.5 419.7L529.1 419.2L529.4 420.6L529.7 418.7L530.6 423.2L530.9 420.2L531.2 423.3L531.8 420.5L532.4 423.2L532.7 423.2L533.3 420.9L533.6 422.4L533.9 421.4L534.5 421.5L534.8 423.8L535.1 419.2L535.4 420.8L535.7 419.3L536 422.3L536.6 423.1L536.9 420.6L537.5 422.4L537.8 421.6L538.7 421.7L539 421.1L539.3 421.9L539.6 419L539.9 420.6L540.2 419.2L540.5 421.1L540.8 420.1L541.4 423L541.7 419.2L542.6 422.9L543.8 419.7L544.1 420.9L544.4 421.1L544.7 420.7L545.3 418.4L545.9 420.9L546.2 420L546.5 422.5L546.8 420.2L547.4 423.3L547.7 424.2L548 423.4L548.3 424.9L548.9 421.8L549.2 424.5L549.5 421.4L549.8 422.4L550.1 419.9L550.4 424.2L551.3 419.8L551.6 422.8L551.9 422.9L552.5 425.2L553.1 421.9L553.7 421.6L554 419.9L554.6 421.8L554.9 419.4L555.5 423.8L555.8 421L556.4 423.9L556.7 422.4L557 423.7L557.6 421.4L558.2 423L558.8 423.1L559.1 422.5L559.4 424.7L560 422.3L560.3 424.3L560.6 421.3L561.2 425L561.5 422.8L561.8 424.8L562.1 422.2L562.4 421.8L562.7 422.3L563 421.7L563.6 417.7L563.9 417.9L564.8 411.9L565.1 416.9L565.4 411L565.7 412.7L566 408.1L566.3 408.1L566.6 410.5L567.2 405.9L567.5 406.9L567.8 405.4L568.7 406.7L569.3 405.3L569.6 406.7L569.9 406.6L570.5 401.5L571.1 405.8L571.7 403L572.3 406.3L572.6 403.9L573.5 401.7L573.8 407.4L574.1 402.8L574.7 401.7L575 403.4L575.6 398.3L576.5 403.7L577.1 398.6L577.4 399.4L578 398.4L578.6 399.9L578.9 398.3L579.2 400.9L579.5 399L579.8 399.2L580.1 398.1L580.4 399.4L581 399.5L581.3 397.2L581.6 399.3L581.9 397.3L582.8 400.3L583.4 396.1L584 399.4L584.3 396.9L584.6 400.9L584.9 394.2L585.2 399.1L585.8 398.1L586.1 395.1L586.4 398.3L587 397.9L587.3 395.6L587.6 395.5L587.9 397.7L588.8 394L589.1 395.4L589.4 392.7L589.7 395.4L590.3 391.7L590.9 395.4L591.5 391.1L592.1 393.9L592.4 390.4L593 393.7L593.6 390.8L594.2 393.9L594.8 389.4L595.1 389L595.4 391.1L595.7 388.8L596.3 392.9L596.6 387.5L596.9 391.3L597.2 392L597.5 390.6L597.8 391.9L598.4 392.6L598.7 394.9L599.3 389.3L599.9 388.6L600.2 391.5L601.1 390.7L601.4 392.7L602 391.6L602.3 388.9L602.6 389.3L602.9 387.6L603.5 389.3L603.8 387.1L604.4 391.7L605 386.1L605.9 389.4L606.2 388L606.5 389.4L607.1 386.5L607.4 389.7L607.7 387.5L608 391L608.3 387.3L608.6 387.9L608.9 387.3L609.5 388.7L609.8 387.7L610.1 389.7L610.4 388.5L610.7 390.3L611 388L611.3 389.8L611.6 389.7L611.9 387.7L612.2 391.8L613.1 387.7L613.7 387.6L614 388.2L614.3 385.9L614.6 387.4L614.9 386.2L615.2 389.4L615.5 387.8L616.1 389.8L616.4 386.7L616.7 388.9L617.6 384.1L618.2 387.7L618.8 384.9L619.1 385.4L620 383.3L620.3 387.2L620.6 387.3L621.2 383.7L621.8 388.8L622.1 383.7L623 386.8L623.3 383.6L623.6 385.8L623.9 384.1L624.2 384.8L624.5 383.6L624.8 386.3L625.4 384.7L625.7 387.3L626 386.2L626.3 389.2L626.6 386.1L627.2 385.4L627.5 389.1L628.1 384.1L628.4 384.9L628.7 383.5L629 385.2L629.6 383.1L630.2 385.8L630.8 384.7L631.4 379.7L631.7 383L632 382.9L632.6 385.8L633.2 380.5L633.5 383.1L633.8 382.8L634.1 384.3L634.7 380.4L635.3 382.9L635.6 380.3L636.5 385.2L637.1 382.6L638 384.9L638.6 379.7L638.9 387.2L639.5 382.8L639.8 386.2L640.1 380.7L641 383L641.3 381.5L641.6 383.3L641.9 381.6L642.2 384.1L642.8 379.6L643.1 382L643.4 380.4L644 382.2L644.3 385.6L644.9 379.7L645.2 382.2L645.5 380.1L645.8 384.5L646.1 382.7L646.4 383.8L647 379.5L647.3 381.5L647.6 378.9L648.5 380.8L649.1 377.9L649.4 383.2L649.7 380.2L650.3 381.8L650.9 379.7L651.2 379.9L651.5 383L652.1 381.6L652.4 383L652.7 377.6L653 380.7L653.6 377.7L654.2 381.7L654.8 378L655.4 381L655.7 380.2L656.6 382.3L656.9 380.4L657.2 383.9L657.5 380.1L658.1 380.8L658.7 379.2L659 381.7L659.3 376.7L659.9 383.4L660.2 381.5L661.1 380.9L661.4 379L661.7 379.9L662 378.6L662.3 381.7L662.9 379.9L663.2 380L663.8 377.3L664.1 381.5L664.7 378.5L665.3 380.5L665.9 379.3L666.2 379.5L666.5 377.8L666.8 380.2L667.4 379.6L667.7 376.3L668 379.4L668.6 380.1L668.9 375.1L669.5 379.9L669.8 378.2L670.1 380.4L670.4 379.7L670.7 381.2L671.3 378.2L671.6 380.5L672.5 376.5L672.8 384.3L673.1 379L673.4 379.2L673.7 376.7L674.9 381.6L675.2 379.4L675.8 382.5L676.7 377.8L677 379.2L677.3 378.1L677.6 381L677.9 379.4L678.2 381.8L678.5 379.2L678.8 379.7L679.1 378.8L679.7 375.4L680 379.2" fill="none" stroke="#7f1d1d" stroke-width="1.1" stroke-linejoin="round"/>
<path d="M351.2 375.2L351.5 372.7L351.8 377.4L352.4 368.5L352.7 369.5L353 367.9L353.3 373.9L353.6 368.5L353.9 374.5L354.2 372L354.5 375.9L354.8 370.5L355.1 373.1L355.4 365.6L356.3 374.5L356.6 371.2L356.9 373.4L357.5 368.3L358.1 375.3L358.4 371.9L358.7 376.4L359 371.6L359.9 372.4L360.2 371.4L360.5 372.7L361.1 370.6L361.4 377.3L362.6 368.7L362.9 374.3L363.2 370.9L363.5 377.8L363.8 368.2L364.4 376.5L364.7 372.2L365 379.3L365.3 376.9L365.6 377.1L365.9 372.5L366.2 377.7L366.5 377.8L366.8 375.6L367.1 380.1L367.7 369.7L368.3 380.8L368.6 374.9L368.9 378.7L369.2 375.3L369.5 377.1L369.8 370.1L370.4 376.2L371 371.3L371.3 377.5L372.2 368.2L372.5 374.5L372.8 371.1L373.4 374.4L373.7 370.2L374 370.3L374.3 372.8L374.9 365.7L375.2 372.7L375.8 370L376.1 373.1L376.4 370.8L376.7 370.9L377 374.2L377.6 367.8L377.9 371.7L378.2 368.6L378.5 374.3L379.1 367.5L379.4 371.1L379.7 366.4L380 376.1L380.3 372.5L380.6 374.6L380.9 374.4L381.5 370.6L381.8 375.5L382.7 368.3L383 377.1L383.9 368.8L384.2 376.5L384.5 374L384.8 377.2L385.4 373L385.7 377.1L386 371.7L386.3 372L387.2 378.8L387.5 375.2L387.8 374.6L388.1 374.9L388.7 372L389 375L389.3 372.6L389.6 373.3L389.9 376.7L390.5 373.2L390.8 376.2L391.1 374.5L391.4 376.6L391.7 373.1L392 373.4L392.3 371.9L392.9 378.3L394.1 373.9L394.4 375.7L395 371.9L395.3 376.5L396.5 373.4L397.1 374.8L397.4 371.7L397.7 373.3L398 372L398.3 377.1L398.6 371.4L399.2 372.6L399.5 375.2L399.8 372.7L400.1 379L400.7 369.5L401 375.7L401.3 376L401.6 372.3L401.9 375L402.2 375.4L402.5 373.7L403.1 375.9L403.4 373.8L403.7 374.8L404 372.1L404.3 376.2L404.6 373.1L405.2 378.9L405.8 372.7L406.1 374.6L406.4 372.9L406.7 374.5L407.3 371.2L407.6 373.5L407.9 371.9L408.2 376.6L409.1 373.7L409.4 373.8L409.7 376.5L410 374.4L410.3 374.4L410.6 378.7L411.2 373.9L411.5 374.1L411.8 377.6L412.1 373.6L412.4 373.7L412.7 377.5L413.3 378.3L413.6 373.2L413.9 376.2L414.2 374L414.5 376.3L414.8 371.7L415.4 377.9L416 369.8L416.3 377.7L416.9 374.8L417.2 375.4L417.5 374.8L417.8 378.3L418.4 372.1L419 379.6L419.6 377.5L419.9 373.7L420.5 377.6L420.8 375.3L421.4 377.5L422 376L422.3 376.2L422.6 372.5L423.5 380.1L423.8 376.8L424.1 379.1L424.7 374.7L425 378L425.3 378.1L425.6 375L425.9 375.1L426.2 377.1L426.5 375.7L426.8 377.9L427.1 373.4L427.4 378.2L427.7 374.6L428 376.6L428.3 371.8L428.6 377.2L428.9 375.2L429.2 379.3L429.5 370.4L429.8 369.8L430.1 375.5L430.4 375.8L430.7 369.6L431 374.9L431.6 377L432.5 369.3L432.8 378.6L433.1 374.6L433.4 375.9L433.7 372.9L434.3 373.2L434.6 371.6L434.9 373.3L435.2 371.5L435.8 376.9L436.4 373L436.7 378.7L437.6 370.8L437.9 377.8L438.2 377.8L438.5 373.3L438.8 377.9L439.1 372.5L439.4 373.7L439.7 373.1L440 374.4L440.3 373.5L440.6 377L440.9 372.7L441.2 374.5L441.5 373.5L441.8 374L442.1 371.6L442.7 376.9L443.3 371.2L443.6 373.1L443.9 371.8L444.5 372.8L444.8 371.4L445.4 376.3L446 373L446.3 374.4L446.6 372.3L447.2 379.7L447.5 368.2L447.8 375.5L448.1 375L448.4 375.6L448.7 374.8L449 372.1L449.3 375.6L449.6 375L450.2 375.9L450.5 374.9L450.8 381.3L451.1 373L451.4 374.8L451.7 372.6L452.3 378.9L453.2 371.8L453.5 376.1L453.8 373.1L454.1 376.2L454.4 373.1L455 374.6L455.3 371L455.6 377.6L455.9 372.1L456.8 380.1L457.1 375.7L457.4 376.5L457.7 373.3L458.3 374.3L458.6 376.6L458.9 371.8L459.5 380.4L460.1 369.4L461 377.4L461.3 374.6L461.6 376.2L461.9 371.9L462.5 374.4L462.8 371.9L463.1 374.7L463.4 373.6L463.7 375L464.3 370.2L464.6 378.3L464.9 375.5L465.2 375.3L465.5 381.6L466.4 374.1L466.7 376.4L467.3 374.4L467.6 378L468.5 371.9L468.8 372L469.1 375.9L469.7 372L470 374.1L470.6 372.7L471.2 375.7L471.8 372.2L472.4 374.7L472.7 371.5L473 374.1L473.3 373.4L473.9 368L475.1 376.7L475.4 374L476 375.4L476.3 373.8L476.6 379.1L476.9 374.1L477.2 373.7L477.5 374.8L477.8 378.9L478.4 374.6L479 379L479.3 375.3L479.6 377.6L479.9 374.3L480.2 378.8L480.5 372.8L480.8 374.4L481.4 372.6L482 376.3L482.3 373L482.6 379.5L482.9 375.9L483.2 376.5L483.5 374.2L484.1 378.7L484.4 374.7L484.7 375.6L485.3 374.3L485.6 378.7L485.9 375.3L486.2 380.8L486.5 373.9L487.1 376.3L487.7 370.7L488.3 375.1L488.6 372.7L488.9 375.3L489.2 370.2L489.8 379.1L490.7 373.5L491 373.3L491.3 376.9L491.6 373.6L491.9 375.8L492.2 372.1L492.5 375.3L492.8 374.9L493.1 369.4L493.4 374.3L493.7 375.9L494.3 375.6L494.6 377.8L495.2 373.3L495.8 380.1L496.1 374.5L496.4 378.8L497 371.9L497.3 373.2L497.6 373.2L497.9 377.8L498.5 373.6L499.1 378L499.7 373L500 375.5L500.3 372.8L500.9 377.1L501.5 374L501.8 375.3L502.1 371.8L502.7 380.5L503.3 370.3L503.6 373.5L504.2 370.8L504.5 374.8L505.1 373.7L505.4 377.7L506 372.7L506.3 375.8L506.6 371.7L506.9 373.5L507.2 372.1L507.5 374.4L508.1 371.9L508.4 373.6L508.7 374L509 373.4L509.3 375.3L509.6 370.4L510.2 376.9L510.8 368.2L511.1 375.7L511.4 373.2L511.7 375.4L512 374.8L512.6 377.4L512.9 375L513.2 376.7L513.5 372L514.4 378.9L514.7 373.3L515.3 376.7L516.2 370.5L516.5 376.7L516.8 372.3L517.1 375.6L517.4 375.9L517.7 372.4L518 375.7L518.3 369.8L518.6 374.5L518.9 372.4L519.2 375.4L519.8 375.5L520.1 376.6L520.7 372.1L521 372.8L521.3 378L521.6 373.5L522.2 376.8L523.1 371.3L523.4 378.3L524 372.4L524.6 376.3L524.9 371.7L525.2 376.6L525.5 376.3L525.8 377.4L526.7 372.8L527 376.1L527.3 375.3L527.6 379.9L527.9 375.5L528.2 376.9L528.5 375.8L528.8 371.3L529.1 376.8L529.7 371.4L530.3 377.5L530.6 374.5L531.2 373.8L531.8 378.3L532.1 376.1L532.7 377.4L533 369.3L533.6 377.1L534.2 371.8L534.8 376.1L535.4 375L535.7 371.1L536.3 376.6L536.6 373.3L536.9 376.2L537.5 375L537.8 371.6L538.4 371.7L538.7 375.9L539 376.3L539.6 370.6L540.2 376.6L540.5 374.1L540.8 374.9L541.1 374.5L541.4 374.7L541.7 373L542.3 374.9L542.6 373.2L542.9 377.4L543.2 371.2L543.5 372.8L543.8 371.9L544.1 376.4L544.4 376.5L544.7 372.4L545 374.3L545.6 371L546.2 374.8L546.5 375.3L546.8 372.2L547.7 376.7L548.6 369.7L548.9 373.4L549.8 371.7L550.7 375L551 371.7L551.3 377.9L551.9 373.3L552.5 377.6L552.8 372.3L553.4 373.4L553.7 372.6L554 376.7L554.3 374.8L554.6 375.6L555.2 374.9L555.5 378.7L556.4 371.6L557 374.7L557.6 374.6L557.9 372.8L558.2 374.7L558.5 374.8L558.8 371.1L559.1 374.9L559.4 375.1L559.7 373.7L560 377.1L560.6 373.3L561.2 379.2L561.5 372.6L562.1 377.2L562.4 376.5L563 377.8L563.3 370.6L563.6 376.1L563.9 370.6L564.2 372L564.5 371.5L564.8 374.9L565.1 369.9L565.4 373.8L565.7 370.1L566 378L566.3 372.2L566.6 373.4L566.9 370.8L567.5 376.8L568.1 371.6L568.7 374.4L569 379L569.3 374.9L570.2 380.9L570.8 372.9L571.1 372.9L571.4 378.9L572 370.3L572.3 373.4L572.9 373.5L573.8 376.9L574.1 369.4L574.4 374.2L575 370.7L575.3 374.9L575.6 369.7L575.9 369.4L576.2 376.2L576.5 373.3L577.1 375.3L577.4 369.3L577.7 375.3L578 372.4L578.6 373.9L579.2 371.2L580.1 374.8L580.4 367.5L580.7 376.1L581 371L581.3 378.4L581.6 374.7L581.9 377.8L582.2 373.4L582.5 378.1L582.8 375.1L583.4 375.2L583.7 368.3L584 370.6L584.3 370.2L584.6 374L584.9 373.2L585.2 375.6L585.5 374.5L585.8 376.5L586.1 372.1L586.4 374.5L587.3 369.8L587.6 373.8L587.9 372L588.2 373.1L588.8 372.2L589.1 381.4L589.7 372.1L590.3 375.3L590.6 371.9L590.9 377.7L591.2 373.1L591.5 376.4L592.1 373.3L592.4 382.7L593 371.8L593.3 374.1L593.6 373L593.9 377.8L594.5 372.3L594.8 378.9L595.4 371.2L595.7 376.4L596.6 370.3L596.9 372.3L597.2 370.9L597.5 373.6L598.1 369.5L598.4 369.8L599 375.5L599.3 371.2L599.6 374.2L599.9 371.5L600.2 374.1L600.5 371.9L600.8 374.4L601.1 371.4L601.4 371.8L601.7 378.2L602.3 370.8L602.6 376.5L602.9 373.3L603.2 376.8L603.5 370.4L603.8 373.1L604.7 370.3L605 377.4L605.9 369L606.2 375.6L606.5 375.7L607.1 370.3L607.4 375.1L608 371L608.3 379.6L608.9 372.8L609.8 378.2L610.7 374.5L611 380.2L611.3 374.6L611.9 376.1L612.2 374.6L612.8 378.8L613.1 369.9L613.7 378L614 378.3L614.3 373.9L614.6 376.5L615.5 373.4L615.8 377.2L616.4 378.6L617 375.3L617.6 382.8L617.9 374.6L618.5 379.4L619.1 369.4L619.7 378.5L620.3 377.5L620.6 377.6L620.9 373.2L621.2 377.1L621.8 370.7L622.1 373.7L622.4 371.1L623.6 374.6L623.9 372.1L625.4 377.7L625.7 376.6L626.3 377.8L626.6 376.2L626.9 376.6L627.2 373.9L627.8 378.1L628.1 374.2L628.4 378.7L628.7 374.4L629.3 379.4L629.9 374.5L630.2 376.3L630.8 372.9L631.1 377.2L631.4 370.1L631.7 376.5L632 372.4L632.3 376.2L632.6 372.8L632.9 378.2L633.5 368.7L633.8 380.8L634.1 374.2L634.4 373.9L634.7 374.3L635 373.7L635.3 375.3L635.6 373L635.9 380.1L636.2 373.7L636.8 379L637.1 375.6L637.4 378.4L638 374.4L638.6 379.4L638.9 379.2L639.2 374.5L639.5 378.7L639.8 374L640.4 377L640.7 370.2L641 376.1L641.6 370.5L641.9 375.3L642.5 374L643.4 369.3L643.7 371.7L644 369.5L644.9 373.4L645.8 371.1L646.4 374.9L646.7 371.3L647 371.8L647.3 370.8L647.6 372.7L647.9 372.6L648.2 378.3L648.8 370.6L649.1 375.6L649.7 369.5L650 374.1L650.3 371.8L650.9 374.5L651.2 371.8L651.5 376.8L652.4 369.6L652.7 378.7L653 371.7L653.9 375.9L654.5 368.3L654.8 374.4L655.1 370.8L655.7 379.3L656 373.3L656.3 376.4L656.6 372.3L656.9 382L657.2 374.3L657.5 376.2L658.1 373.9L658.4 377.9L659 373.1L659.9 375.2L660.2 375.1L660.5 372.7L661.1 379.2L661.4 373.6L661.7 377.2L662 372.8L662.3 374.6L662.9 369L663.8 376.7L664.4 372.6L664.7 373.2L665 371.4L665.6 376L666.2 372.3L666.5 375L666.8 374.3L667.1 375.2L667.4 373.8L667.7 374.8L668 372.8L668.3 372.8L668.6 369.1L668.9 375.8L669.2 375.9L669.5 373.5L669.8 379.5L670.1 378.9L670.4 380L671 375.2L671.9 378.4L672.2 372.2L672.5 373.7L672.8 369.1L674 378.5L674.9 370.9L675.5 376.5L675.8 369.7L676.4 372.8L676.7 371.9L677 374.8L677.3 371.6L677.6 372.9L677.9 372.7L678.2 373.3L678.5 375.9L679.1 368.2L680 371.5" fill="none" stroke="#7b8bc9" stroke-width="1.1" stroke-linejoin="round"/>
<line x1="351" y1="374.6" x2="680" y2="374.6" stroke="#141428" stroke-width="2.1" stroke-dasharray="7.9 3.05" stroke-dashoffset="3.4"/>
<path d="M351.2 368.6L351.5 366.2L351.8 374.1L352.1 375.5L352.4 375.4L352.7 378.9L353 375.9L353.3 378.1L353.6 376.9L354.2 376.4L354.5 374.6L354.8 378.1L355.4 368.4L356 376.1L356.6 369.9L356.9 369.9L357.2 373.6L357.5 372.4L357.8 375.9L358.1 372.1L358.4 375.5L358.7 370.9L359.3 381.2L359.6 372.8L360.2 376.2L360.5 371.2L361.4 375L361.7 370.8L362 378.1L362.3 374.7L363.2 373.4L363.5 367.1L363.8 376.1L364.1 370.2L364.4 374.4L364.7 371.8L365 371.7L365.6 377.2L366.2 372.3L366.5 375.7L366.8 368.7L367.1 373.5L367.7 375.9L368 373.7L368.3 379.9L368.6 377.1L368.9 378.4L369.8 376.1L370.1 381.1L370.4 379.7L370.7 381.4L371 377.1L371.6 378.6L371.9 376.9L372.2 377.8L372.5 373.8L373.1 375.6L373.4 374.8L373.7 378.6L374.3 377.4L374.6 375.1L374.9 377.7L375.8 372.5L376.1 377L376.7 368.2L377.3 375.5L378.2 367L378.5 372.9L379.1 369.1L379.4 378L379.7 375.8L380 379.7L380.3 376.4L380.6 378L380.9 374.7L381.2 377.9L381.5 374.9L381.8 377L382.4 371.4L382.7 373.8L383 373.7L383.3 371.1L384.2 376L384.8 367.3L385.4 378.8L386 372.8L386.9 379L387.2 375.5L387.5 382L388.1 375.1L388.4 380.2L389 376.5L389.9 380.3L390.5 379.7L391.4 382.6L391.7 382.4L392 379.3L392.3 383.8L392.6 382.4L392.9 384.1L393.5 383.2L393.8 383.9L394.1 380.4L394.7 386.8L395.3 382.7L395.6 385.1L395.9 383.5L396.2 387.3L396.8 382.7L397.4 384L397.7 386.9L398 385.7L398.3 386.5L398.6 385.6L398.9 388.7L399.2 386.5L399.8 389.4L400.4 385.8L401 388.9L401.6 385.5L401.9 388.9L402.5 382.7L402.8 384.7L403.1 382.9L403.7 386.1L404.6 383.9L404.9 387.4L405.2 382.3L405.5 387.2L406.1 386L406.4 387L406.7 383.5L407 388.2L407.3 387.5L407.6 388.8L407.9 383.3L408.2 387.6L408.8 383.5L409.4 388.2L409.7 386.9L410.3 389.6L410.6 387.9L410.9 388.1L411.2 390L411.5 386.7L412.1 390.5L412.4 387.9L412.7 388.5L413 387.7L413.3 389L413.9 384.4L414.8 389.2L415.1 389.9L415.4 388.5L415.7 389.7L416.6 384.7L416.9 389.6L417.8 385.5L418.4 389.2L418.7 388.4L419 390.6L419.9 386.6L420.8 391.9L421.1 386.9L421.4 389L421.7 386.6L422 388.3L422.3 382.6L422.6 386.6L422.9 384.4L423.2 390.3L423.5 387L423.8 388.6L424.4 385.4L425 389.9L425.3 388.5L425.9 390.4L426.8 386.1L428 392.3L428.3 390L428.6 391.8L428.9 385.8L429.2 390.6L429.5 388L429.8 391.7L430.1 392.2L430.7 391.2L431.3 392.6L431.6 388.2L431.9 391.8L432.5 386.1L432.8 389.4L433.1 389.5L433.7 386.6L434 388.7L434.3 387L434.6 391.8L434.9 387.9L435.2 388L435.5 386.4L436.1 390.6L436.4 386.6L436.7 387.5L437 385L437.6 391.9L437.9 387.1L438.2 388.7L438.5 388.2L438.8 389.2L439.1 388.4L439.4 389.1L439.7 387.8L440.3 391.5L440.6 391.1L440.9 386.4L441.2 392.1L441.5 391L441.8 391.7L442.1 388.1L443 392.8L443.3 388L443.9 390.4L444.2 389L444.5 390.2L444.8 388.6L445.1 391.8L445.4 386.5L445.7 389.9L446 388.4L446.3 389.2L446.9 383.8L447.2 391.9L448.1 389.2L448.4 389.9L448.7 388.9L449.3 392.2L449.9 388.4L450.2 393.5L450.5 389.3L450.8 390.7L451.1 390.2L451.7 391.9L452.3 389.4L452.6 389.6L453.2 394.8L453.5 388.5L454.1 392.7L454.4 390.9L454.7 392.3L455 391.6L455.6 394.5L455.9 390.9L456.5 391.9L457.1 390.8L457.4 386.8L457.7 390.7L458 388.6L458.9 391.5L459.2 389.7L459.8 390.3L460.1 389.1L460.4 393.9L460.7 394.5L461 391.3L461.3 394.7L461.9 390.2L462.2 393.9L462.8 392.5L463.1 389.6L463.4 391L463.7 387.8L464 391.8L464.9 389.3L465.2 393.8L465.5 388.6L465.8 392.5L466.1 391.2L466.4 393.2L466.7 387.9L467.3 392.9L468.2 387L469.1 393.3L469.4 390.8L470 392.7L470.6 389.8L470.9 392.8L471.2 389.9L471.8 393.4L472.1 394L472.4 391.8L473 394.7L473.6 391.8L473.9 392.4L474.5 391.9L475.1 393.8L475.4 391.9L475.7 393.2L476.3 392.2L476.6 390.1L476.9 392.5L477.2 391.5L477.8 393.2L478.4 392.3L479 387.9L480.2 393L480.5 391.2L480.8 393.2L481.4 388.7L481.7 392.1L482.3 387.6L483.2 392.2L483.5 390.3L483.8 392L484.4 387.8L484.7 388.8L485 388L485.3 390.7L485.6 387.4L486.5 392.8L487.1 390.5L487.4 391.5L487.7 390.7L488 396L488.3 388.2L488.6 387.6L489.2 388.9L489.8 393.4L490.1 391.5L491 392.8L491.3 391L491.6 393.9L491.9 392.8L493.1 394.4L493.4 391.4L493.7 393.6L494.3 388.8L494.9 393L495.5 392.7L495.8 393.5L496.1 388.8L496.4 390.8L496.7 391.3L497 390.2L497.3 392.2L497.6 392.6L498.2 391.8L498.5 395.7L498.8 391.7L499.1 391.6L499.7 394.7L500 389.8L500.3 389.6L500.6 393.7L501.2 392.7L501.5 390.7L501.8 392.4L502.1 388.8L502.7 394.3L503 389.4L503.6 393L504.2 390.2L504.8 393.3L505.1 391.6L505.4 395.4L505.7 392.3L506 395.8L506.3 392.7L506.6 394.9L507.5 390.3L507.8 393.7L508.1 392.8L508.4 393.2L508.7 391.6L509.3 390.9L509.9 394.3L510.5 390.8L510.8 391.3L511.4 389.7L511.7 391.8L512 391.1L512.3 391.4L512.6 395.2L512.9 393.4L513.2 394.1L513.5 391.5L513.8 391.9L514.4 388.3L515.6 395.5L516.2 389L516.8 392.7L517.1 389.8L517.7 392.7L518 392.1L518.3 392.6L518.9 391.8L519.2 394.2L519.8 392.1L520.1 392.6L520.4 391.5L521 392.4L521.3 392.1L521.6 396.2L521.9 392.3L522.5 395.7L522.8 390.4L523.4 394.2L524.3 390.3L524.6 391.8L524.9 390.4L525.2 393.5L525.8 391.1L526.1 393.7L526.4 390L527 393.2L527.6 390L528.2 391.7L528.5 391.1L528.8 392.6L529.1 392L529.4 393.1L529.7 392.1L530 392.9L530.3 391.5L530.6 392.9L530.9 392.8L531.2 393.3L531.8 391.3L532.4 394L532.7 391.2L533.3 394.2L534.2 389.7L534.5 389.6L535.1 394.8L535.4 388L535.7 388.2L536 392.2L536.6 389.8L536.9 393.2L537.5 391.2L537.8 392L538.1 391.4L538.4 392.9L539 390.6L539.9 394.5L540.5 390.9L541.1 394.7L541.4 392.1L541.7 395.5L542 391.6L542.3 395.5L542.6 394.3L542.9 390.2L543.2 394.1L544.1 392L544.4 393.3L544.7 392.1L545.6 395.6L546.5 394.1L547.1 391.6L547.4 395.4L547.7 393.1L548 394.3L548.3 391.7L548.9 396.5L549.2 394L549.5 395.7L549.8 393.8L550.1 394.3L550.4 393.2L550.7 389.3L551 394.6L551.6 395L551.9 396.9L552.8 392.8L553.1 399L553.4 391.6L553.7 393.2L554 393L554.3 395.6L554.6 394.3L554.9 394.5L555.2 390.4L555.8 395L556.4 390.8L556.7 393.2L557 391.7L557.6 393.3L557.9 391L558.5 395.2L558.8 392.5L559.1 392.6L559.4 392.1L560 394.1L560.3 391.8L560.9 396.4L561.2 390.8L561.5 395.5L561.8 395.4L562.1 391.3L562.4 391.2L563 396.7L563.3 391.6L564.2 389L564.5 391.8L565.1 384.9L565.7 387.1L566 383.6L566.3 385.5L566.9 382.2L567.5 385.2L568.1 380.3L568.4 384.1L569 377.1L569.3 380.2L569.6 377.8L570.2 386.6L571.4 379.7L572.3 383.9L572.6 381.7L572.9 383.7L573.5 377.5L574.1 382.6L574.4 381.7L574.7 382.4L575 378.7L576.5 381.6L577.1 378L577.7 379.6L578.3 378.3L578.6 381.5L579.2 381.6L579.8 380.5L580.1 378.6L580.4 378.4L580.7 379.5L581 375.5L581.3 379.1L581.6 375.1L581.9 381.8L582.5 377.5L582.8 378.7L583.1 378L583.4 381.8L584.3 378.6L584.6 380.7L585.5 379L585.8 377.2L586.4 378.6L586.7 377L587.3 382.9L587.6 379.7L587.9 380.8L588.2 378.5L588.5 381.8L588.8 379.6L589.4 381.1L589.7 379.9L590 382.4L590.3 377.4L590.9 379.8L591.2 378.8L591.5 379.8L591.8 382.9L592.1 378.5L592.4 379.6L593.3 376L593.9 382.1L594.2 379.8L594.5 382.1L594.8 377.7L595.7 381.7L596 380.6L596.6 382.9L596.9 378.2L597.5 380.4L597.8 378.3L598.1 379.8L598.4 375.8L599 377.9L599.3 374.9L599.6 381.6L600.5 378.7L600.8 378.6L601.1 376.4L601.4 376.4L601.7 373.1L602 378.4L602.6 373.4L603.2 378.2L603.5 374.7L603.8 376.9L604.1 374.2L604.7 378.3L605 374.2L605.6 379.1L605.9 377.4L606.2 380.4L606.5 379L606.8 379.2L607.1 374.7L608 377.4L608.3 375.5L608.6 376.2L608.9 375L609.8 379.8L610.1 378.4L610.4 379L610.7 377.7L611.3 379.3L611.6 375.9L611.9 379.2L612.2 378.4L612.5 379L613.1 375.9L613.7 377L614 372.5L614.3 375.5L614.9 376.1L615.5 375.4L615.8 376.8L616.1 376.3L616.4 379.7L616.7 377.4L617 377.3L617.3 378.9L617.6 377.3L617.9 377.4L618.2 379.6L618.5 379.3L619.1 375.4L619.7 378.8L620 375L620.6 377.8L620.9 375.2L621.2 379.9L621.8 374.7L622.7 379.2L623 377L623.6 375.8L623.9 378.7L624.5 372.9L625.1 376.6L625.4 375.2L626 376.9L626.3 374.3L626.6 378.3L626.9 376.4L627.2 378.2L627.8 376.4L628.1 379L628.4 377.3L628.7 379.5L629 377.7L629.3 380.5L629.6 375.2L629.9 376.7L630.5 374.6L630.8 376.8L631.1 373.9L631.7 378.8L632.3 375.7L633.2 379.7L633.5 376.7L634.1 378.2L634.4 377.1L634.7 378L635 377.9L635.3 379.6L635.6 376.1L636.2 377.5L636.5 375.4L637.1 376.4L637.4 373.8L637.7 375.3L638 374.2L638.3 375.2L638.6 374.9L638.9 375.2L639.5 378.4L640.1 375L640.4 377.1L640.7 374.4L641.3 378.2L641.6 376.4L642.2 378.6L642.5 378.5L643.4 374.2L643.7 376.4L644 375.8L644.6 377.4L644.9 373.8L645.5 375.3L645.8 373L646.1 375.3L646.4 374.8L646.7 376.2L647.3 376.9L647.6 375.3L648.5 377.9L648.8 373L649.1 375.9L649.4 375.2L650 378.7L650.9 376.4L651.2 378.4L651.5 378.6L651.8 376.7L652.1 379.7L652.7 375.2L653.3 379.6L654.2 377.9L654.5 378.8L654.8 378.3L655.1 373.8L655.7 376.5L656 375.9L656.3 377.3L656.6 377.4L657.2 374.8L657.5 378.3L657.8 373.9L658.4 378.8L658.7 376.4L659.3 375.4L659.9 380.6L660.5 375.4L661.1 379.4L661.7 374.9L662 377L662.3 375.1L662.6 378.2L662.9 376.1L663.2 377.4L663.5 376.6L663.8 377.8L664.1 372.8L664.4 376.7L665 376.4L665.3 373.3L665.6 378.1L665.9 374.6L666.2 376.4L666.5 374.7L666.8 375.2L667.1 374.8L667.4 372.8L668 377.9L668.3 373.7L668.6 376L668.9 372.9L669.2 378L669.5 373.9L670.4 377.9L670.7 374.8L671.3 378.3L671.9 376L672.8 381.2L673.4 374.1L673.7 379.4L674.3 377.6L674.9 379L675.5 374.7L676.1 377.7L677 373.8L677.3 376.8L677.6 373.9L677.9 375.3L678.2 374.3L678.5 377.8L678.8 377.2L679.1 379.4L679.4 374.1L679.7 373.5L680 375.7" fill="none" stroke="#e0218a" stroke-width="1.1" stroke-linejoin="round"/>
<path d="M351.2 374.9L351.5 375.9L351.8 375.3L352.4 382L353 376.4L353.6 383.3L353.9 381.3L354.2 382.7L355.4 376.4L355.7 377.7L356 372.9L356.3 381L356.6 373.8L356.9 377.1L357.8 375.3L358.1 373L358.7 376.4L359 376L359.3 370.5L359.6 373.6L359.9 369L360.5 373.7L360.8 370.1L361.1 377.5L361.4 370.4L361.7 377.4L362 370.2L362.3 376.6L362.6 369.9L362.9 373.7L363.2 371.7L363.5 375.9L363.8 372.8L364.4 375.1L364.7 371.6L365.3 374.2L365.6 370.7L365.9 374L366.2 368.2L366.5 378L367.1 368.7L368 374.2L368.9 376.3L369.2 370.6L369.5 374.1L369.8 373.4L370.1 375.4L370.7 369.1L371.3 380L371.6 373.4L371.9 376.5L372.2 373.3L372.5 372.9L372.8 374L373.1 373.8L373.4 377L374 370.7L374.3 378L374.9 374.7L375.5 377.3L376.1 371.9L376.7 380.2L377.3 370.5L377.9 376.6L378.5 369.4L379.1 372.3L379.4 370.8L379.7 372.4L380 372.3L380.3 368.9L380.9 376.2L381.2 367L381.5 371.4L382.1 370.2L382.4 372.7L382.7 370.2L383 375.7L383.6 372L384.5 379.3L385.1 374.4L385.4 379.9L385.7 375.1L386 374.9L386.3 377.2L386.6 371.4L386.9 372L387.2 369.7L387.5 376.2L388.1 367.6L388.4 367.4L388.7 375.1L389 374.9L389.6 366.2L389.9 369L390.2 362.6L390.8 359.7L391.1 363.7L391.7 355.3L392 356.9L392.3 356L393.2 350L393.8 354.5L394.1 348.1L394.7 353.3L395.3 349.2L395.6 350.2L395.9 349.6L396.2 345L396.5 347.6L397.1 342.4L397.4 346.8L397.7 343.5L398 344.8L398.3 341.8L398.6 345.1L399.5 340.7L399.8 340.6L400.1 341.7L400.7 339.2L401 341.6L401.3 341.1L401.6 342L402.2 338.4L402.5 340.5L403.1 338.1L403.4 340.5L403.7 339.8L404 340.8L404.3 339.3L404.6 340.8L404.9 339.2L405.8 341.3L406.4 334.5L407.3 339.5L407.6 337.7L407.9 338.4L408.5 334.5L408.8 337.2L409.7 335.4L410.3 331.4L410.6 335.7L411.2 332.3L411.8 334.5L412.4 330.8L412.7 333L413 333.6L413.6 333.2L414.5 328.4L414.8 331.2L415.1 330.4L415.4 333.9L415.7 330.4L416.3 332.2L416.6 329L416.9 328.8L417.2 332.5L417.5 332.3L417.8 327.6L418.4 332.2L418.7 328.7L419 329.9L419.9 328.7L420.2 325.1L421.7 332.8L422.6 327.1L423.2 330.6L423.5 328.6L424.1 330.9L424.4 327.4L424.7 327.6L425 331.1L425.3 329.5L425.6 330L426.2 326.6L426.5 330.2L426.8 327.2L427.1 328.5L427.7 328.1L428 325.3L428.3 327.8L428.6 324.8L428.9 327.3L429.2 326.1L429.5 329.1L429.8 325.7L430.4 326.4L430.7 323.7L431 326.4L431.3 326.7L431.6 325.5L432.2 327L432.8 327.1L433.1 327.8L433.4 327.8L433.7 325.4L434 326.3L435.2 324.1L435.8 327.5L436.1 325.4L437 324.2L437.6 326.7L437.9 323.8L438.2 329L439.1 325.5L439.4 327.9L439.7 325.9L440 329.5L440.3 326.2L440.6 327.1L440.9 324.9L441.2 327.9L441.8 326.8L442.1 328.6L442.4 324.6L443 322.8L443.3 324.9L443.9 325.5L444.5 327.9L444.8 325.1L445.1 328.2L445.7 324.5L446 327.2L446.3 327.3L446.9 324.1L447.2 327.8L447.8 324.2L448.4 325.6L449 324.4L449.3 327.9L449.6 324.5L449.9 325.9L450.2 325.3L450.5 325.9L450.8 323L451.1 328.8L451.7 325.8L452 327.8L452.3 326.2L452.6 327.4L453.2 323.7L453.5 325.2L453.8 325.2L454.4 322.8L455 326.8L455.6 324.6L455.9 328.4L456.2 325.5L456.5 326.3L457.1 324.4L457.4 325.8L458.3 322.2L458.9 325.9L459.5 324.2L460.1 326L460.4 323.9L461 325.4L461.3 324.7L461.9 326.1L462.2 324.7L462.5 328.2L462.8 324.2L463.4 325.7L464 323.4L464.3 325.1L464.6 323.5L465.5 325.8L466.1 323.6L466.4 327.6L466.7 324L467 327L467.3 322.9L467.9 326.7L468.5 322.5L469.1 327L470 323.8L470.6 326L471.2 322L471.5 326.2L472.1 322.3L472.7 326L473 322.2L473.6 327.1L474.8 322L475.1 326.7L475.4 322.6L476 326.4L476.3 324.1L476.9 326.9L477.2 325.5L477.5 327.3L477.8 327.2L478.1 327.7L478.4 323.1L478.7 325.8L479.3 324.8L479.6 322.4L480.2 327L480.8 323.8L481.7 326L482 323.5L482.3 323.5L482.6 322.1L483.2 326.9L483.5 324.4L484.1 324.8L484.4 321.8L485 326L485.9 322.9L486.5 326.3L486.8 323.7L487.4 325.2L488 323.5L488.3 325.6L488.6 323.7L488.9 324.1L489.2 326.5L489.8 321.2L490.4 325.6L490.7 322.8L491 325.4L491.6 325.5L491.9 326.5L492.2 321.6L493.1 322.7L493.4 324.9L494 322.3L494.3 322.9L494.6 321.7L494.9 323L495.2 321.5L495.5 326.5L496.1 322.8L496.7 324.4L497 323L497.3 324.9L497.6 323.2L497.9 326.6L498.5 321.4L499.1 322.7L499.4 326.4L499.7 323.4L500 325.5L500.3 321.9L500.6 325.1L500.9 322.6L501.5 324.2L501.8 322L502.1 327.8L502.4 322.3L503 326.6L503.6 320.1L504.2 325.8L504.5 322.7L504.8 324.5L505.1 323.6L505.4 323.8L505.7 327.9L506.6 323.6L506.9 326.8L507.5 325L507.8 325.8L508.1 323.3L508.4 324.1L508.7 324.1L509 327.1L509.6 323.6L510.2 326.9L510.8 324.4L511.4 326.3L511.7 324.6L512.3 323.8L512.6 320.9L512.9 325.6L513.2 324.4L513.8 329.5L514.1 324L514.4 325.5L514.7 324L515.3 323.2L515.9 324.4L516.2 327L516.8 323.4L517.1 325.8L517.4 322.9L517.7 325.5L518.3 323.6L518.9 326.4L519.5 321.8L520.1 324.6L520.7 322.5L521 325.9L521.3 325.4L521.6 326.5L521.9 324.9L522.2 327.1L522.5 323.3L523.1 325.3L523.7 322L524.3 325.4L524.9 323.3L525.2 324L525.8 323.9L526.4 324.9L526.7 322.5L527 327.2L527.6 323.1L527.9 326.3L528.5 321.6L528.8 321.5L529.4 322.8L529.7 321.2L530 323.5L530.3 322.8L530.6 326.3L531.2 323.1L531.5 326L532.1 321.3L532.7 326.8L533.3 323.7L533.6 324.8L533.9 323.9L534.2 325.8L534.8 324.6L535.4 327.9L535.7 325.8L536 327.3L536.6 324.9L537.2 327.3L537.5 325.5L537.8 326.4L538.1 322.3L538.4 325.9L538.7 322L539 327.8L539.3 325.2L539.6 326.1L539.9 323.7L540.2 324.6L540.5 323.1L541.1 325.2L541.4 324.3L542 324.7L542.3 327.1L542.6 326.6L542.9 328L543.5 324.1L544.1 326.2L544.4 322.8L544.7 325.9L545 324.4L545.3 325.5L546.2 323.3L546.8 326.2L547.1 321.7L547.4 324.7L548 324.2L548.6 325.4L548.9 324.8L549.2 327L549.5 324.6L549.8 328.6L550.1 322.4L550.4 328.1L551 323.9L551.9 326.5L552.2 326.2L552.5 328.5L552.8 326.2L553.4 326L553.7 327.4L554 326.6L554.3 328.9L554.6 325.5L554.9 325.8L555.5 324.9L555.8 325.4L556.4 322.3L557 323.7L557.3 321.2L557.9 326L558.5 322.1L558.8 322.1L559.1 323.5L559.4 323L559.7 325L560.6 323.5L560.9 325.4L561.2 324.2L561.5 328.2L561.8 325.3L563 322.9L563.9 328.4L564.2 326.8L564.5 328.1L565.1 327L565.7 329.1L566 328.2L566.6 329.4L566.9 326.9L567.2 331.1L567.5 328.9L567.8 335.4L568.1 332L568.7 333.6L569 330.6L569.3 336.2L569.6 333.1L569.9 336.1L570.2 336.9L570.5 336.6L570.8 330.9L571.4 335.7L571.7 335L572.3 340.6L572.6 340.6L573.2 337.7L573.5 341.2L573.8 341.4L574.4 339.4L575 344L575.6 343L575.9 341.3L576.2 342.6L576.5 340.7L576.8 345.3L577.1 341.3L578 343.7L578.3 346.7L578.9 343.7L579.8 348.4L580.1 343.7L581.3 348.9L581.6 347.4L581.9 351.4L582.2 346.6L582.5 348.6L583.1 346.5L583.7 349.3L584 348.3L584.6 349.8L584.9 348.9L585.2 351.7L585.8 350.7L586.1 352.4L586.4 347.2L587 353.2L587.3 349.8L587.6 353L588.5 351.6L588.8 350.2L589.4 349.8L589.7 353.5L590 353.1L590.3 353.9L590.6 351.9L591.2 356.1L591.5 353.4L592.1 354.5L592.4 358.6L592.7 357.3L593.3 360.1L594.2 352.6L594.5 356.9L594.8 356.2L595.4 358L595.7 354.7L596 359.1L596.6 357.1L597.2 360.9L597.5 358.6L597.8 362L598.7 357.9L599 357.8L599.3 360.9L599.6 358.9L600.2 359.2L600.5 360.1L600.8 360L601.1 358.3L601.4 359.5L601.7 359L602 360.5L602.3 357.5L602.9 362.9L603.2 359.2L603.8 362.5L604.1 360.6L605 365L605.3 364.3L605.6 364.6L605.9 363.5L606.2 364.7L607.4 365L608.6 362.5L609.2 365.3L609.5 362.5L609.8 364.3L610.7 361.8L611.3 364.6L611.6 364.5L611.9 365.2L612.5 360.5L612.8 365.5L613.1 364.5L613.7 368.1L614.3 362.1L615.2 368.7L615.5 364.9L616.1 367.9L616.4 363.2L616.7 365.2L617 363.8L617.3 364.4L617.6 367L617.9 366.4L618.5 366.6L618.8 366.2L619.4 368.2L619.7 366.3L620 368L620.3 367.1L620.9 370.2L621.2 369.4L621.5 370.1L621.8 367.7L622.4 369L622.7 368.2L623 369.6L623.6 366.4L624.5 372.2L625.1 365.7L625.4 368.6L626 366.3L626.3 372.9L626.6 372.7L626.9 368.9L627.5 368.8L627.8 370.6L628.4 371L628.7 367.4L629.3 370.3L629.9 366.4L630.5 370.4L630.8 365.3L631.1 371.4L631.4 368.7L631.7 371.5L633.2 368.3L633.8 370L634.1 367L634.4 368.6L634.7 365.8L635.6 370.8L635.9 370.1L636.2 370.4L636.8 368.7L637.1 372L637.4 371.8L637.7 368.7L638.3 371.1L638.6 368.7L639.2 371.1L639.5 370.6L639.8 372L640.1 370L641 373.9L641.3 369.6L641.6 370.8L641.9 369.3L642.2 371.9L642.8 373.5L643.1 370.4L643.4 371.9L643.7 370.8L644 373.1L644.3 370.4L644.6 370L644.9 371.7L645.8 367.7L646.4 372.9L646.7 371.2L647 372.7L647.3 370.5L647.9 372.7L648.5 369.2L649.4 373L649.7 368.7L650 374.3L650.9 370.1L651.5 372.3L652.1 371.9L652.4 368.6L653 370.8L653.6 369.6L654.2 372.6L654.5 368.5L654.8 372.7L655.1 369.2L655.7 369.4L656 372.4L656.3 372L656.6 373L657.2 369.5L657.5 374.8L658.1 367.5L659.3 375.5L659.6 371L659.9 374.1L660.2 373L660.8 373L661.1 371.9L662 374.7L662.3 371.6L662.6 376L662.9 372.9L663.2 374.7L663.8 371.1L664.1 374.7L664.7 369.4L665 373.3L665.3 369.8L665.9 373.6L666.5 371.7L667.1 371.9L667.4 370.5L667.7 372.4L668.3 368.8L668.9 374.5L669.8 370.8L670.4 374.6L671 371.4L671.6 375.3L672.8 370.1L673.1 374.2L673.4 373.9L673.7 374.1L674 375.1L674.6 372.7L674.9 374.3L675.5 370.7L675.8 373.4L676.4 372.7L677 375.4L677.6 371.1L679.1 376.6L679.4 379.5L679.7 375.1L680 378.9" fill="none" stroke="#8a8a8a" stroke-width="1.1" stroke-linejoin="round"/>
<path d="M351.2 373.4L351.5 376.1L351.8 369.6L352.4 375.9L352.7 370.1L353.9 375.9L354.2 370.9L354.5 375.3L354.8 372L355.4 372.5L355.7 374.5L356 371.7L356.3 373.5L356.9 368.9L357.5 373.9L357.8 373.7L358.1 373.9L358.4 369.9L359.3 374.8L360.5 367.5L361.1 374.2L361.7 369.4L362.3 378.5L362.6 370.3L363.5 367.7L363.8 374.9L364.1 375.3L364.4 373.5L365 377.9L365.3 374.7L365.9 379.7L366.2 373.5L366.8 377.7L367.1 372.5L367.4 383.7L367.7 379.9L368 382L368.3 372.8L368.9 379.8L369.2 375.3L369.5 382.2L369.8 373.6L370.1 376.4L370.7 371.9L371.3 376L371.6 372.9L372.2 377.8L372.8 375.8L373.4 377.4L374 371.5L374.3 373.5L374.6 373.6L374.9 371.5L375.8 376.9L376.1 371.9L376.4 378.2L377 371.6L377.3 378.4L378.2 372L378.5 377.1L378.8 371.8L379.1 371.6L379.7 377L380.6 373L380.9 378.4L381.2 375.3L381.8 384.4L382.7 372.5L383 373.3L383.3 372.7L383.9 377.9L384.2 374L384.5 372.8L384.8 375.2L385.1 371.2L386 377.8L386.3 374.1L386.9 374.9L387.5 381.2L388.1 374.2L388.4 380.1L388.7 379.9L389.9 367.3L390.2 370.1L390.5 367.1L391.1 369.8L391.4 361.6L392 361.7L392.9 364.9L393.2 361.7L393.5 366.1L393.8 362.1L394.4 366L395 360.3L395.9 362L396.2 356.8L396.5 356.7L396.8 357.8L397.1 361.9L398 355.4L398.3 355.4L398.6 359.6L398.9 355.9L399.2 360.7L399.5 355.9L400.1 359.4L400.7 357.1L401 362.4L401.3 356.8L401.6 357.9L401.9 355.9L402.2 359.1L402.5 359.5L402.8 359.2L403.1 356.8L403.4 358.2L403.7 353L404.3 356.6L404.6 349.2L405.2 355.9L405.8 353.2L406.1 353.3L406.4 357.5L407.3 350.2L407.6 354.1L407.9 351L408.2 353.3L408.5 351.8L408.8 356.7L409.1 351.7L409.7 356.7L410 347.5L410.3 351.6L410.6 348.7L410.9 356.5L411.5 352L412.1 353.9L412.7 352.1L413 354.2L413.3 352.8L413.6 356.8L413.9 349.3L414.5 354.1L414.8 354.4L415.1 351.3L415.4 356L415.7 355.2L416 357.3L416.3 352.5L416.6 356.3L416.9 353.1L417.5 355.1L417.8 351.9L418.1 352L418.4 356.8L418.7 349.8L419 353.3L419.6 355.1L420.2 348.6L420.5 353.8L420.8 349.7L421.1 351.1L421.7 347.6L422.3 350.4L422.6 346.6L422.9 354.4L423.2 350.1L423.5 354.6L424.1 348.7L424.4 349.8L424.7 348.5L425 349.3L425.9 349.8L426.8 344.8L427.1 349.2L427.4 348.4L427.7 350.7L428 347.8L428.3 350.2L428.6 347.4L428.9 351L429.2 349.6L429.8 356.8L430.4 350.1L430.7 351L431.3 349.8L432.2 349.1L433.1 352.7L433.4 349.4L433.7 349.2L434 353.8L434.3 344.3L434.6 348.2L435.2 349.1L435.5 346L435.8 346.6L436.1 344L436.4 346.3L436.7 343L437 349.6L437.6 345.2L437.9 351.1L438.5 345.1L438.8 348.5L439.4 342.4L440 350.5L440.3 342.6L440.9 348.5L441.2 347.6L441.5 349.2L441.8 346.5L442.1 350.5L442.4 347.5L442.7 347.4L443 348.7L443.3 347.2L443.9 346.8L444.2 345.9L444.5 346.1L444.8 344.5L445.1 349L445.7 342.6L446 346.2L446.3 347.3L446.6 344.7L446.9 348.1L447.2 345.7L447.5 347.2L447.8 344.8L448.1 347.6L448.4 347.4L448.7 352.6L449.3 347.4L449.9 347.1L450.2 347.6L450.5 341.8L451.1 348.6L451.7 344.1L452.3 342.5L452.6 350.7L452.9 348.5L453.2 349.8L454.1 342.6L454.4 347.4L454.7 343.1L455.6 350.7L455.9 346.7L456.2 349.6L456.5 348L456.8 348.9L457.1 344.6L457.4 348.4L458.3 348.2L458.6 347.5L458.9 348.4L459.2 345.2L459.5 348L459.8 345L460.1 347.6L460.7 346L461.3 346.8L461.6 350.3L461.9 346.7L462.8 353.6L463.4 345.7L463.7 344.9L464.3 348.5L464.6 345.6L464.9 349.4L465.2 342.3L465.5 341.9L466.1 348L466.4 348.6L466.7 346.4L467 349.6L467.6 345.5L467.9 349.5L468.5 344L468.8 346.8L469.1 343.7L469.4 349L470 342.3L470.3 349.6L470.9 345.1L471.5 347.7L471.8 345.8L472.1 346.3L472.4 348.2L472.7 344.6L473.3 349.9L473.6 344.9L473.9 344L474.5 348L474.8 343.7L475.1 345L475.4 343.9L475.7 349.4L476.3 345.4L476.6 346.9L476.9 340.4L477.8 346.2L478.1 339.4L478.4 343.9L478.7 342.6L479.3 344.5L479.6 342.2L479.9 348.9L480.2 344.6L480.5 347.4L480.8 344.3L481.1 345.6L481.4 343.4L482 354.3L482.3 348.1L482.9 352.6L483.2 346L483.5 348L483.8 345.4L484.1 348.8L484.4 347.5L484.7 348.8L485 348.5L485.3 343.2L486.2 346.8L486.5 345.1L487.1 347.3L487.4 344.3L487.7 345.4L488.3 342.4L488.9 349.5L489.2 344.6L489.5 349.1L489.8 348.9L490.1 343.6L490.4 344.3L490.7 343.9L491.3 348.7L491.9 342.1L492.5 349.1L493.4 342.1L493.7 347.4L494 345L494.6 345.9L495.2 343.1L496.1 349.5L496.7 343L497 350.1L497.6 344L498.5 349.6L498.8 346.2L499.1 349.8L499.7 344.6L500 346.9L500.3 342.4L500.9 347.8L501.2 344.4L501.5 345.4L501.8 343L502.1 345.9L502.4 341.6L503 347L503.3 343.6L503.6 346.9L503.9 345.4L504.2 345.7L504.5 342.2L504.8 343.6L505.1 341.1L505.7 342L506.3 346.8L506.6 339.7L506.9 346.6L507.2 337.5L507.5 338.2L507.8 347.5L508.4 344.1L508.7 344.3L509 344L509.3 338.7L509.6 345.7L510.2 338.9L510.5 345.2L511.1 347.1L511.7 343.2L512 345.5L512.3 343.9L512.9 348.7L513.5 338.5L513.8 343.6L514.1 341.2L514.4 342.7L514.7 348.8L515.3 343.7L515.9 348.1L516.2 346.1L516.5 349.7L516.8 343L517.1 345.9L517.7 343L518.6 348L518.9 340.4L519.2 345.8L519.8 348.6L520.7 344.7L521 350.1L521.3 346.5L521.6 350.6L521.9 347.3L522.2 347.9L522.8 343.9L523.1 347.7L523.4 346.4L523.7 349.9L524 343.2L524.3 343.1L524.6 348.6L525.5 340.6L526.4 347.5L526.7 340.7L527 345.9L527.3 342.6L527.9 346.1L528.2 344.1L528.8 345.7L529.4 344.8L529.7 346L530.3 341.5L530.6 341.7L530.9 343.8L531.2 342L531.5 344.6L531.8 344L532.1 348.4L532.4 342.9L532.7 348.5L533 347.7L533.3 351.8L533.6 345L533.9 348L534.2 345.3L535.4 349.3L536 343.5L536.6 347.5L536.9 346.3L537.5 347.2L537.8 345.2L538.4 350.4L539 344.2L540.2 347.3L540.5 342.1L541.1 344.7L541.7 340.7L542.3 348L542.6 342.3L542.9 349.3L543.2 345.6L543.5 345.8L543.8 350L544.1 350.2L544.4 342.7L544.7 348L545.3 343.8L545.6 344.6L545.9 343.1L546.5 351.5L546.8 341.6L547.4 344.5L547.7 342.6L548 347.5L548.9 341.2L549.2 341.5L549.5 345.6L549.8 341.2L550.1 348.1L550.4 345.2L550.7 349L551 347.5L551.3 348.3L551.6 347.9L551.9 345.4L552.2 345.6L553.1 349L553.4 346.5L553.7 350.2L554.3 344.2L554.9 345.3L555.2 350.2L556.1 346L556.4 346.7L556.7 342.8L557 351.3L557.3 346.5L557.9 347.6L558.8 342.3L559.1 344.4L559.4 344.2L559.7 340.2L560 345.3L560.3 341.8L560.6 344.3L560.9 350.3L561.5 341.2L561.8 345.2L562.7 349.5L563.3 343.7L563.9 346.9L564.2 341.7L565.1 351.3L565.7 348.8L566 350.7L566.3 348.9L566.9 351.2L567.2 346.6L567.5 353.6L567.8 354.4L568.1 354.3L568.4 355.6L568.7 350.5L569 354L569.3 353.3L569.6 353.4L569.9 351.2L570.5 354L570.8 351.8L571.1 353.7L571.4 352L572 360.2L572.9 353.1L573.5 358.7L574.1 357.3L574.4 353.7L575 359.6L575.3 356.5L575.6 361L576.2 356.9L576.5 363.7L576.8 353.2L577.1 358.2L577.4 355.6L578.3 362.2L578.9 358.5L579.2 359.8L579.5 356.4L580.1 361.7L580.4 360.8L580.7 362L581 359.4L581.3 362.1L582.5 355.5L583.4 362.1L584 359.6L584.3 363.8L585.2 365.2L585.5 363.2L585.8 366L586.4 367.6L587 363.1L587.3 368.3L587.6 368.2L588.2 361L588.8 369.2L589.1 365.4L589.7 370L590.6 365.8L590.9 368.2L591.2 367.8L591.5 368.8L591.8 362.9L592.4 371.8L593 366.7L593.6 371.1L593.9 366.6L594.5 369.2L594.8 366.6L595.7 373.9L596 364.6L596.3 370.5L596.6 365.6L597.2 370.8L597.5 366.9L597.8 370.4L598.1 368.7L598.4 371.7L598.7 367L599 375.4L599.3 368.6L599.6 369.6L599.9 368.6L600.2 375L600.8 372.7L601.1 376.4L601.4 370.2L602 374L602.3 371.5L602.6 372.8L602.9 373L603.2 372.8L603.5 374L603.8 370.5L604.1 375.5L604.7 370.8L605.3 372.7L605.6 371.5L606.2 374.8L606.8 367.2L607.1 371.7L608 370.5L608.3 367.1L608.6 370.5L608.9 371.6L609.2 371L609.8 375.9L610.1 367.4L610.4 377L610.7 369.8L611.3 380L612.2 371.9L612.8 376.1L613.1 372.7L613.4 375.9L613.7 371.7L614 378.1L614.6 372.3L614.9 377.4L615.2 375.9L615.5 377.3L615.8 370.4L616.4 373.7L616.7 370.2L617 374.8L617.3 375.1L617.6 374.9L617.9 375.8L618.2 372.9L618.8 380.9L619.1 374.7L619.7 378.5L620 375.8L620.6 377.8L621.2 374.6L621.5 380.9L621.8 376L622.1 380.5L622.4 376.3L622.7 379.8L623.3 374.2L623.6 378.8L624.2 375.5L624.5 382.2L625.1 373.6L625.4 375.8L626 373.2L626.3 376.1L626.9 376.8L627.2 371.1L627.8 376.6L628.1 368.6L629 375.7L629.3 370.8L629.6 374.6L629.9 374.6L630.2 373.6L630.5 375.7L630.8 372.2L631.4 374L632 379.7L632.9 372.3L633.8 378.5L634.4 374L634.7 374.2L635.3 378.6L635.6 375.5L635.9 374.7L636.2 376.1L636.5 374.2L637.1 378.2L637.7 371.6L638.3 382.1L638.6 371.6L639.5 377.9L639.8 370.4L640.1 378.9L641 374.7L641.3 370.4L641.6 375.4L641.9 373.2L642.2 376.2L642.8 372.5L643.4 382L643.7 372.1L644 376.4L644.3 373.2L644.6 377.5L644.9 373.4L645.2 376.6L645.5 373.9L645.8 376.7L646.1 370.6L646.4 376.1L646.7 375.5L647 376L647.3 375.6L647.6 378.6L647.9 378.6L648.2 374.1L648.5 375.9L648.8 374L649.1 374.9L649.4 380.6L649.7 374.1L650.3 380.9L650.6 378.9L650.9 380.1L651.2 375L651.5 376.6L651.8 375.5L652.1 380.9L652.7 375.3L653.3 379.4L653.6 373.4L653.9 378.3L654.5 375.9L654.8 377.3L655.1 374.9L655.7 373.5L656 378.1L656.3 373.9L656.6 376.2L656.9 375.8L657.2 380.1L657.5 371.5L657.8 376.9L658.4 378.2L658.7 377.4L659 379.6L659.6 376.3L659.9 378L660.8 378.9L661.4 381.8L661.7 376L662.3 383.9L662.9 373.8L663.8 381.4L664.1 379.4L664.4 379.7L664.7 378.7L665 380.6L665.3 374L665.6 377.8L665.9 378.3L666.2 377.9L666.5 380.2L666.8 374.3L667.1 380.2L667.7 374.4L668.3 376.9L668.6 371.8L668.9 377L669.5 375.4L669.8 372L670.4 379.6L671 379.1L671.3 377.1L671.6 378.3L671.9 372.9L672.8 376.7L673.1 375.4L673.7 379L674 373.9L674.3 378.5L674.6 377L674.9 378.2L675.2 377.8L675.5 378.2L675.8 376.8L676.4 380.4L677 376.2L677.9 383L678.2 380.1L678.5 379.6L678.8 381L679.1 375.1L679.4 379.4L679.7 370.9L680 376.4" fill="none" stroke="#e8202a" stroke-width="1.1" stroke-linejoin="round"/>
<text id="t37" x="501.60" y="315.60" font-size="12.0" fill="#8a8c8e" text-anchor="start" font-weight="normal" textLength="51.80" lengthAdjust="spacingAndGlyphs">+59.6 mV</text>
<text id="t38" x="501.60" y="338.10" font-size="12.0" fill="#ed1c24" text-anchor="start" font-weight="normal" textLength="51.80" lengthAdjust="spacingAndGlyphs">+54.6 mV</text>
<text id="t39" x="501.60" y="365.80" font-size="12.0" fill="#5b5ea6" text-anchor="start" font-weight="normal" textLength="51.80" lengthAdjust="spacingAndGlyphs">+49.6 mV</text>
<text id="t40" x="501.60" y="409.40" font-size="12.0" fill="#e0218a" text-anchor="start" font-weight="normal" textLength="51.80" lengthAdjust="spacingAndGlyphs">+44.6 mV</text>
<text id="t41" x="501.60" y="439.40" font-size="12.0" fill="#7f1d1d" text-anchor="start" font-weight="normal" textLength="51.80" lengthAdjust="spacingAndGlyphs">+34.4 mV</text>
<text id="t42" x="500.99" y="461.90" font-size="12.0" fill="#27aae1" text-anchor="start" font-weight="normal" textLength="52.22" lengthAdjust="spacingAndGlyphs">+24.4 mV</text>
<text id="t43" x="503.38" y="501.00" font-size="12.0" fill="#f7941d" text-anchor="start" font-weight="normal" textLength="52.43" lengthAdjust="spacingAndGlyphs">+14.4 mV</text>
<text id="ecl" x="597.40" y="325.30" font-size="14.5" fill="#2b2b2b" text-anchor="start" font-weight="normal" textLength="84.60" lengthAdjust="spacingAndGlyphs"><tspan font-style="italic">E</tspan><tspan font-size="9.5" dy="2.4">Cl</tspan><tspan font-size="7" dy="-3.4">–</tspan><tspan dy="1"> ≈ +50 mV</tspan></text>
<text id="ek" x="598.59" y="351.40" font-size="14.5" fill="#2b2b2b" text-anchor="start" font-weight="normal" textLength="82.22" lengthAdjust="spacingAndGlyphs"><tspan font-style="italic">E</tspan><tspan font-size="9.5" dy="2.4">K</tspan><tspan font-size="7" dy="-3.4">+</tspan><tspan dy="1"> ≈ –55 mV</tspan></text>
<path d="M628.5 451.5L669.8 451.5L669.8 495.3" fill="none" stroke="#1c1a1b" stroke-width="2" stroke-linejoin="round"/>
<text id="t44" x="624.40" y="467.70" font-size="13.6" fill="#1c1a1b" text-anchor="start" font-weight="normal" textLength="38.00" lengthAdjust="spacingAndGlyphs">50 ms</text>
<text id="t45" x="615.38" y="485.90" font-size="13.6" fill="#1c1a1b" text-anchor="start" font-weight="normal" textLength="46.02" lengthAdjust="spacingAndGlyphs">150 pA</text>
<text id="t46" x="375.20" y="499.90" font-size="13.2" fill="#2b2b2b" text-anchor="start" font-weight="normal" textLength="78.61" lengthAdjust="spacingAndGlyphs">GLIC–<tspan font-family='"Liberation Serif", serif' font-size='15.2'>β</tspan>-GluCl</text>
<text id="t47" x="-2.60" y="18.60" font-size="25" fill="#1c1a1b" text-anchor="start" font-weight="bold">a</text>
<text id="t48" x="346.40" y="18.35" font-size="25" fill="#1c1a1b" text-anchor="start" font-weight="bold">b</text>
<text id="t49" x="-3.20" y="270.20" font-size="24.5" fill="#1c1a1b" text-anchor="start" font-weight="bold">c</text>
<text id="t50" x="347.00" y="269.45" font-size="24.5" fill="#1c1a1b" text-anchor="start" font-weight="bold">d</text></svg>
</body></html>
